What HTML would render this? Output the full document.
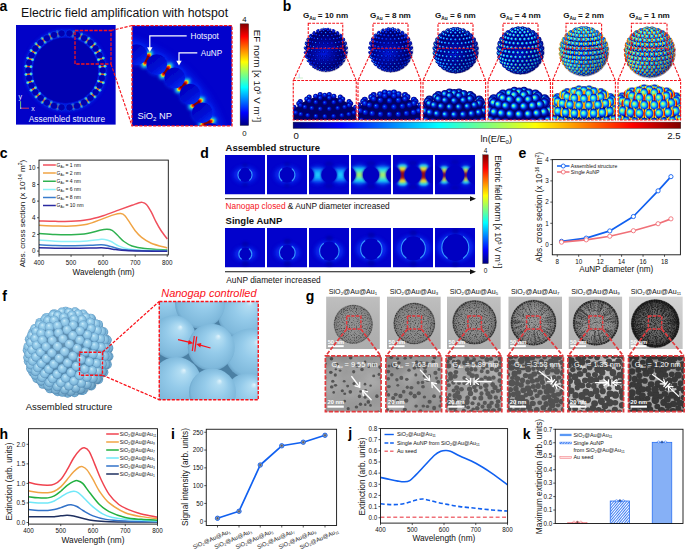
<!DOCTYPE html>
<html><head><meta charset="utf-8"><title>Figure</title>
<style>
html,body{margin:0;padding:0;background:#fff;}
body{width:685px;height:551px;overflow:hidden;font-family:"Liberation Sans",sans-serif;}
svg{display:block;}
text{font-family:"Liberation Sans",sans-serif;}
</style></head><body>
<svg width="685" height="551" viewBox="0 0 685 551">
<defs>
<filter id="bl05" x="-50%" y="-50%" width="200%" height="200%"><feGaussianBlur stdDeviation="0.5"/></filter><filter id="bl1" x="-50%" y="-50%" width="200%" height="200%"><feGaussianBlur stdDeviation="1"/></filter><filter id="bl15" x="-50%" y="-50%" width="200%" height="200%"><feGaussianBlur stdDeviation="1.6"/></filter><filter id="bl3" x="-50%" y="-50%" width="200%" height="200%"><feGaussianBlur stdDeviation="3"/></filter><clipPath id="clipa1"><rect x="16" y="25" width="99.8" height="99.8"/></clipPath><clipPath id="clipa2"><rect x="132.2" y="25.8" width="99.6" height="100"/></clipPath><linearGradient id="jetv" x1="0" y1="0" x2="0" y2="1"><stop offset="0.0000" stop-color="#7f0000"/><stop offset="0.0625" stop-color="#bf0000"/><stop offset="0.1250" stop-color="#ff0000"/><stop offset="0.1875" stop-color="#ff3f00"/><stop offset="0.2500" stop-color="#ff7f00"/><stop offset="0.3125" stop-color="#ffbf00"/><stop offset="0.3750" stop-color="#ffff00"/><stop offset="0.4375" stop-color="#bfff3f"/><stop offset="0.5000" stop-color="#7fff7f"/><stop offset="0.5625" stop-color="#3fffbf"/><stop offset="0.6250" stop-color="#00ffff"/><stop offset="0.6875" stop-color="#00bfff"/><stop offset="0.7500" stop-color="#007fff"/><stop offset="0.8125" stop-color="#003fff"/><stop offset="0.8750" stop-color="#0000ff"/><stop offset="0.9375" stop-color="#0000bf"/><stop offset="1.0000" stop-color="#00007f"/></linearGradient><linearGradient id="jeth" x1="0" y1="0" x2="1" y2="0"><stop offset="0.0000" stop-color="#00007f"/><stop offset="0.0625" stop-color="#0000bf"/><stop offset="0.1250" stop-color="#0000ff"/><stop offset="0.1875" stop-color="#003fff"/><stop offset="0.2500" stop-color="#007fff"/><stop offset="0.3125" stop-color="#00bfff"/><stop offset="0.3750" stop-color="#00ffff"/><stop offset="0.4375" stop-color="#3fffbf"/><stop offset="0.5000" stop-color="#7fff7f"/><stop offset="0.5625" stop-color="#bfff3f"/><stop offset="0.6250" stop-color="#ffff00"/><stop offset="0.6875" stop-color="#ffbf00"/><stop offset="0.7500" stop-color="#ff7f00"/><stop offset="0.8125" stop-color="#ff3f00"/><stop offset="0.8750" stop-color="#ff0000"/><stop offset="0.9375" stop-color="#bf0000"/><stop offset="1.0000" stop-color="#7f0000"/></linearGradient><linearGradient id="gpa" x1="0.2" y1="0.1" x2="0.85" y2="0.95"><stop offset="0" stop-color="#0000be"/><stop offset="0.55" stop-color="#000cd4"/><stop offset="1" stop-color="#0830f8"/></linearGradient><radialGradient id="gb0" cx="0.5" cy="0.5" r="0.52" fx="0.38" fy="0.38"><stop offset="0" stop-color="#20b0ff"/><stop offset="0.28" stop-color="#0030f0"/><stop offset="0.65" stop-color="#0008b8"/><stop offset="1" stop-color="#000070"/></radialGradient><clipPath id="clipb0"><rect x="293.25" y="80.5" width="63.0" height="39.5"/></clipPath><radialGradient id="gb1" cx="0.5" cy="0.5" r="0.52" fx="0.38" fy="0.38"><stop offset="0" stop-color="#30c8ff"/><stop offset="0.28" stop-color="#0038f4"/><stop offset="0.65" stop-color="#000cc0"/><stop offset="1" stop-color="#000070"/></radialGradient><clipPath id="clipb1"><rect x="358" y="80.5" width="62.75" height="39.5"/></clipPath><radialGradient id="gb2" cx="0.5" cy="0.5" r="0.52" fx="0.33" fy="0.42"><stop offset="0" stop-color="#80ffa0"/><stop offset="0.2" stop-color="#20d0ff"/><stop offset="0.4" stop-color="#0850f0"/><stop offset="0.66" stop-color="#0010b0"/><stop offset="1" stop-color="#000060"/></radialGradient><clipPath id="clipb2"><rect x="423" y="80.5" width="62.60000000000002" height="39.5"/></clipPath><radialGradient id="gb3" cx="0.5" cy="0.5" r="0.52" fx="0.33" fy="0.42"><stop offset="0" stop-color="#e0ff40"/><stop offset="0.14" stop-color="#70ffa0"/><stop offset="0.3" stop-color="#18d0ff"/><stop offset="0.5" stop-color="#0850f0"/><stop offset="0.72" stop-color="#0010b0"/><stop offset="1" stop-color="#000060"/></radialGradient><clipPath id="clipb3"><rect x="488" y="80.5" width="62.39999999999998" height="39.5"/></clipPath><radialGradient id="gb4" cx="0.5" cy="0.5" r="0.52" fx="0.38" fy="0.38"><linearGradient id="gh4" x1="0" y1="0" x2="1" y2="0"><stop offset="0" stop-color="#ff8000" stop-opacity="1"/><stop offset="0.07" stop-color="#f8e810" stop-opacity="1"/><stop offset="0.16" stop-color="#60ff98" stop-opacity="0.6"/><stop offset="0.27" stop-color="#60ff98" stop-opacity="0"/><stop offset="0.73" stop-color="#60ff98" stop-opacity="0"/><stop offset="0.84" stop-color="#60ff98" stop-opacity="0.6"/><stop offset="0.93" stop-color="#f8e810" stop-opacity="1"/><stop offset="1" stop-color="#ff8000" stop-opacity="1"/></linearGradient><stop offset="0" stop-color="#d8ff60"/><stop offset="0.2" stop-color="#70ffb0"/><stop offset="0.4" stop-color="#18d8ff"/><stop offset="0.62" stop-color="#0868ff"/><stop offset="0.86" stop-color="#0018b8"/><stop offset="1" stop-color="#000070"/></radialGradient><clipPath id="clipb4"><rect x="552.6" y="80.5" width="62.799999999999955" height="39.5"/></clipPath><radialGradient id="gb5" cx="0.5" cy="0.5" r="0.52" fx="0.38" fy="0.38"><linearGradient id="gh5" x1="0" y1="0" x2="1" y2="0"><stop offset="0" stop-color="#e00800" stop-opacity="1"/><stop offset="0.06" stop-color="#ff9000" stop-opacity="1"/><stop offset="0.13" stop-color="#f8e810" stop-opacity="1"/><stop offset="0.22" stop-color="#70ff88" stop-opacity="0.6"/><stop offset="0.32" stop-color="#70ff88" stop-opacity="0"/><stop offset="0.68" stop-color="#70ff88" stop-opacity="0"/><stop offset="0.78" stop-color="#70ff88" stop-opacity="0.6"/><stop offset="0.87" stop-color="#f8e810" stop-opacity="1"/><stop offset="0.94" stop-color="#ff9000" stop-opacity="1"/><stop offset="1" stop-color="#e00800" stop-opacity="1"/></linearGradient><stop offset="0" stop-color="#fff040"/><stop offset="0.16" stop-color="#b0ff70"/><stop offset="0.34" stop-color="#40f0d0"/><stop offset="0.52" stop-color="#10a8ff"/><stop offset="0.72" stop-color="#0840f0"/><stop offset="0.9" stop-color="#0010a8"/><stop offset="1" stop-color="#000070"/></radialGradient><clipPath id="clipb5"><rect x="618" y="80.5" width="62.60000000000002" height="39.5"/></clipPath><radialGradient id="gcore" cx="0.46" cy="0.6" r="0.6"><stop offset="0" stop-color="#0018e4"/><stop offset="0.3" stop-color="#000cb4"/><stop offset="0.7" stop-color="#00007c"/><stop offset="1" stop-color="#000054"/></radialGradient><linearGradient id="gshade" x1="0.2" y1="0.1" x2="0.85" y2="1"><stop offset="0" stop-color="#000050" stop-opacity="0"/><stop offset="0.5" stop-color="#000050" stop-opacity="0.02"/><stop offset="1" stop-color="#000050" stop-opacity="0.5"/></linearGradient><filter id="dbl05" x="-50%" y="-50%" width="200%" height="200%"><feGaussianBlur stdDeviation="0.45"/></filter><filter id="dbl08" x="-50%" y="-50%" width="200%" height="200%"><feGaussianBlur stdDeviation="0.8"/></filter><filter id="dbl2" x="-50%" y="-50%" width="200%" height="200%"><feGaussianBlur stdDeviation="2"/></filter><filter id="dbl12" x="-50%" y="-50%" width="200%" height="200%"><feGaussianBlur stdDeviation="1.2"/></filter><linearGradient id="hs3" x1="0" y1="0" x2="0" y2="1"><stop offset="0" stop-color="#0860ff" stop-opacity="0"/><stop offset="0.25" stop-color="#10b0ff" stop-opacity="0.9"/><stop offset="0.5" stop-color="#20d0ff" stop-opacity="1"/><stop offset="0.75" stop-color="#10b0ff" stop-opacity="0.9"/><stop offset="1" stop-color="#0860ff" stop-opacity="0"/></linearGradient><linearGradient id="hs4" x1="0" y1="0" x2="0" y2="1"><stop offset="0" stop-color="#1090ff" stop-opacity="0"/><stop offset="0.2" stop-color="#10d8f8" stop-opacity="1"/><stop offset="0.38" stop-color="#70f0a0" stop-opacity="1"/><stop offset="0.5" stop-color="#b8f050" stop-opacity="1"/><stop offset="0.62" stop-color="#70f0a0" stop-opacity="1"/><stop offset="0.8" stop-color="#10d8f8" stop-opacity="1"/><stop offset="1" stop-color="#1090ff" stop-opacity="0"/></linearGradient><linearGradient id="hs5" x1="0" y1="0" x2="0" y2="1"><stop offset="0" stop-color="#30c0f0" stop-opacity="0"/><stop offset="0.12" stop-color="#40e8e0" stop-opacity="1"/><stop offset="0.22" stop-color="#f0e020" stop-opacity="1"/><stop offset="0.3" stop-color="#f06010" stop-opacity="1"/><stop offset="0.38" stop-color="#a00808" stop-opacity="1"/><stop offset="0.62" stop-color="#a00808" stop-opacity="1"/><stop offset="0.7" stop-color="#f06010" stop-opacity="1"/><stop offset="0.78" stop-color="#f0e020" stop-opacity="1"/><stop offset="0.88" stop-color="#40e8e0" stop-opacity="1"/><stop offset="1" stop-color="#30c0f0" stop-opacity="0"/></linearGradient><linearGradient id="hs6" x1="0" y1="0" x2="0" y2="1"><stop offset="0" stop-color="#30c0f0" stop-opacity="0"/><stop offset="0.14" stop-color="#40e8e0" stop-opacity="1"/><stop offset="0.25" stop-color="#f0e020" stop-opacity="1"/><stop offset="0.33" stop-color="#f05010" stop-opacity="1"/><stop offset="0.42" stop-color="#b01008" stop-opacity="1"/><stop offset="0.58" stop-color="#b01008" stop-opacity="1"/><stop offset="0.67" stop-color="#f05010" stop-opacity="1"/><stop offset="0.75" stop-color="#f0e020" stop-opacity="1"/><stop offset="0.86" stop-color="#40e8e0" stop-opacity="1"/><stop offset="1" stop-color="#30c0f0" stop-opacity="0"/></linearGradient><clipPath id="cd1_0"><rect x="225" y="155" width="40" height="39.5"/></clipPath><clipPath id="cd1_1"><rect x="267" y="155" width="40" height="39.5"/></clipPath><clipPath id="cd1_2"><rect x="309" y="155" width="40" height="39.5"/></clipPath><clipPath id="cd1_3"><rect x="351" y="155" width="40" height="39.5"/></clipPath><clipPath id="cd1_4"><rect x="393" y="155" width="40" height="39.5"/></clipPath><clipPath id="cd1_5"><rect x="435" y="155" width="40" height="39.5"/></clipPath><clipPath id="cd2_0"><rect x="225" y="228" width="40" height="39.5"/></clipPath><clipPath id="cd2_1"><rect x="267" y="228" width="40" height="39.5"/></clipPath><clipPath id="cd2_2"><rect x="309" y="228" width="40" height="39.5"/></clipPath><clipPath id="cd2_3"><rect x="351" y="228" width="40" height="39.5"/></clipPath><clipPath id="cd2_4"><rect x="393" y="228" width="40" height="39.5"/></clipPath><clipPath id="cd2_5"><rect x="435" y="228" width="40" height="39.5"/></clipPath><radialGradient id="gf" cx="0.5" cy="0.5" r="0.54" fx="0.42" fy="0.3"><stop offset="0" stop-color="#d2ecfa"/><stop offset="0.3" stop-color="#9ed3ee"/><stop offset="0.72" stop-color="#80badf"/><stop offset="1" stop-color="#4f88b2"/></radialGradient><radialGradient id="gfs" cx="0.45" cy="0.4" r="0.62"><stop offset="0" stop-color="#ffffff" stop-opacity="0.10"/><stop offset="0.6" stop-color="#ffffff" stop-opacity="0"/><stop offset="0.85" stop-color="#204060" stop-opacity="0.08"/><stop offset="1" stop-color="#102840" stop-opacity="0.22"/></radialGradient><radialGradient id="gfz" cx="0.5" cy="0.5" r="0.56" fx="0.66" fy="0.26"><stop offset="0" stop-color="#e2f4fc"/><stop offset="0.12" stop-color="#b2ddf3"/><stop offset="0.45" stop-color="#95cbea"/><stop offset="0.85" stop-color="#7eb8db"/><stop offset="1" stop-color="#5a92b8"/></radialGradient><clipPath id="clipf"><rect x="159.25" y="301.5" width="99" height="98.25"/></clipPath><filter id="fbl" x="-20%" y="-20%" width="140%" height="140%"><feGaussianBlur stdDeviation="0.35"/></filter><filter id="gbl" x="-10%" y="-10%" width="120%" height="120%"><feGaussianBlur stdDeviation="0.45"/></filter><linearGradient id="gshadeL" x1="0" y1="0" x2="0.3" y2="1"><stop offset="0" stop-color="#000" stop-opacity="0.16"/><stop offset="0.45" stop-color="#000" stop-opacity="0.02"/><stop offset="1" stop-color="#000" stop-opacity="0.06"/></linearGradient><linearGradient id="gshadeT" x1="0" y1="0" x2="0" y2="1"><stop offset="0" stop-color="#fff" stop-opacity="0.1"/><stop offset="1" stop-color="#000" stop-opacity="0.06"/></linearGradient><filter id="gblb0" x="-5%" y="-5%" width="110%" height="110%"><feGaussianBlur stdDeviation="0.42"/></filter><filter id="gblb1" x="-5%" y="-5%" width="110%" height="110%"><feGaussianBlur stdDeviation="0.48"/></filter><filter id="gblb2" x="-5%" y="-5%" width="110%" height="110%"><feGaussianBlur stdDeviation="0.55"/></filter><filter id="gblb3" x="-5%" y="-5%" width="110%" height="110%"><feGaussianBlur stdDeviation="0.6"/></filter><filter id="gblb4" x="-5%" y="-5%" width="110%" height="110%"><feGaussianBlur stdDeviation="0.62"/></filter><filter id="gblb5" x="-5%" y="-5%" width="110%" height="110%"><feGaussianBlur stdDeviation="0.62"/></filter><filter id="gbl2" x="-10%" y="-10%" width="120%" height="120%"><feGaussianBlur stdDeviation="0.8"/></filter><clipPath id="gt0"><rect x="326.1" y="296.4" width="53.8" height="52.700000000000045"/></clipPath><clipPath id="gp0"><circle cx="353.3" cy="324.3" r="19.4"/></clipPath><clipPath id="gl0"><rect x="325.4" y="355.9" width="55.7" height="55.80000000000001"/></clipPath><filter id="gs0" x="0" y="0" width="1" height="1" color-interpolation-filters="sRGB"><feTurbulence type="fractalNoise" baseFrequency="0.85" numOctaves="2" seed="7" result="n"/><feColorMatrix in="n" type="matrix" values="0 0 0 0 0.118  0 0 0 0 0.118  0 0 0 0 0.118  3.2 0 0 0 -1.568"/><feGaussianBlur stdDeviation="0.35"/></filter><radialGradient id="gr0"><stop offset="0" stop-color="#1a1a1a" stop-opacity="0.03"/><stop offset="0.6" stop-color="#1a1a1a" stop-opacity="0.05"/><stop offset="0.88" stop-color="#141414" stop-opacity="0.14"/><stop offset="1" stop-color="#101010" stop-opacity="0.18"/></radialGradient><filter id="gw0L" x="0" y="0" width="1" height="1" color-interpolation-filters="sRGB"><feTurbulence type="fractalNoise" baseFrequency="0.05" numOctaves="2" seed="40" result="n"/><feColorMatrix in="n" type="matrix" values="0 0 0 0 0.922  0 0 0 0 0.922  0 0 0 0 0.922  3 0 0 0 -1.3"/><feGaussianBlur stdDeviation="2"/></filter><clipPath id="gt1"><rect x="387" y="296.4" width="53.8" height="52.700000000000045"/></clipPath><clipPath id="gp1"><circle cx="414.3" cy="323.5" r="20.7"/></clipPath><clipPath id="gl1"><rect x="385.9" y="355.9" width="55.7" height="55.80000000000001"/></clipPath><filter id="gs1" x="0" y="0" width="1" height="1" color-interpolation-filters="sRGB"><feTurbulence type="fractalNoise" baseFrequency="0.85" numOctaves="2" seed="8" result="n"/><feColorMatrix in="n" type="matrix" values="0 0 0 0 0.118  0 0 0 0 0.118  0 0 0 0 0.118  3.3 0 0 0 -1.6004999999999998"/><feGaussianBlur stdDeviation="0.35"/></filter><radialGradient id="gr1"><stop offset="0" stop-color="#1a1a1a" stop-opacity="0.03"/><stop offset="0.6" stop-color="#1a1a1a" stop-opacity="0.07"/><stop offset="0.88" stop-color="#141414" stop-opacity="0.17"/><stop offset="1" stop-color="#101010" stop-opacity="0.22"/></radialGradient><filter id="gw1L" x="0" y="0" width="1" height="1" color-interpolation-filters="sRGB"><feTurbulence type="fractalNoise" baseFrequency="0.05" numOctaves="2" seed="41" result="n"/><feColorMatrix in="n" type="matrix" values="0 0 0 0 0.922  0 0 0 0 0.922  0 0 0 0 0.922  3 0 0 0 -1.3"/><feGaussianBlur stdDeviation="2"/></filter><clipPath id="gt2"><rect x="447" y="296.4" width="53.8" height="52.700000000000045"/></clipPath><clipPath id="gp2"><circle cx="474.5" cy="322.3" r="22.0"/></clipPath><clipPath id="gl2"><rect x="446.1" y="355.9" width="55.7" height="55.80000000000001"/></clipPath><filter id="gs2" x="0" y="0" width="1" height="1" color-interpolation-filters="sRGB"><feTurbulence type="fractalNoise" baseFrequency="0.85" numOctaves="2" seed="9" result="n"/><feColorMatrix in="n" type="matrix" values="0 0 0 0 0.118  0 0 0 0 0.118  0 0 0 0 0.118  3.5 0 0 0 -1.68"/><feGaussianBlur stdDeviation="0.35"/></filter><radialGradient id="gr2"><stop offset="0" stop-color="#1a1a1a" stop-opacity="0.04"/><stop offset="0.6" stop-color="#1a1a1a" stop-opacity="0.08"/><stop offset="0.88" stop-color="#141414" stop-opacity="0.21"/><stop offset="1" stop-color="#101010" stop-opacity="0.28"/></radialGradient><filter id="gw2L" x="0" y="0" width="1" height="1" color-interpolation-filters="sRGB"><feTurbulence type="fractalNoise" baseFrequency="0.05" numOctaves="2" seed="42" result="n"/><feColorMatrix in="n" type="matrix" values="0 0 0 0 0.922  0 0 0 0 0.922  0 0 0 0 0.922  3 0 0 0 -1.3"/><feGaussianBlur stdDeviation="2"/></filter><clipPath id="gt3"><rect x="508.3" y="296.4" width="53.8" height="52.700000000000045"/></clipPath><clipPath id="gp3"><circle cx="533.5" cy="322.7" r="22.8"/></clipPath><clipPath id="gl3"><rect x="507.7" y="355.9" width="55.7" height="55.80000000000001"/></clipPath><filter id="gs3" x="0" y="0" width="1" height="1" color-interpolation-filters="sRGB"><feTurbulence type="fractalNoise" baseFrequency="0.85" numOctaves="2" seed="10" result="n"/><feColorMatrix in="n" type="matrix" values="0 0 0 0 0.118  0 0 0 0 0.118  0 0 0 0 0.118  3.6 0 0 0 -1.728"/><feGaussianBlur stdDeviation="0.35"/></filter><radialGradient id="gr3"><stop offset="0" stop-color="#1a1a1a" stop-opacity="0.04"/><stop offset="0.6" stop-color="#1a1a1a" stop-opacity="0.09"/><stop offset="0.88" stop-color="#141414" stop-opacity="0.22"/><stop offset="1" stop-color="#101010" stop-opacity="0.30"/></radialGradient><filter id="gw3L" x="0" y="0" width="1" height="1" color-interpolation-filters="sRGB"><feTurbulence type="fractalNoise" baseFrequency="0.05" numOctaves="2" seed="43" result="n"/><feColorMatrix in="n" type="matrix" values="0 0 0 0 0.922  0 0 0 0 0.922  0 0 0 0 0.922  3 0 0 0 -1.3"/><feGaussianBlur stdDeviation="2"/></filter><clipPath id="gt4"><rect x="568.5" y="296.4" width="53.8" height="52.700000000000045"/></clipPath><clipPath id="gp4"><circle cx="595.8" cy="322.7" r="22.9"/></clipPath><clipPath id="gl4"><rect x="567.9" y="355.9" width="55.7" height="55.80000000000001"/></clipPath><filter id="gs4" x="0" y="0" width="1" height="1" color-interpolation-filters="sRGB"><feTurbulence type="fractalNoise" baseFrequency="0.85" numOctaves="2" seed="11" result="n"/><feColorMatrix in="n" type="matrix" values="0 0 0 0 0.118  0 0 0 0 0.118  0 0 0 0 0.118  3.8 0 0 0 -1.7859999999999998"/><feGaussianBlur stdDeviation="0.35"/></filter><radialGradient id="gr4"><stop offset="0" stop-color="#1a1a1a" stop-opacity="0.05"/><stop offset="0.6" stop-color="#1a1a1a" stop-opacity="0.10"/><stop offset="0.88" stop-color="#141414" stop-opacity="0.26"/><stop offset="1" stop-color="#101010" stop-opacity="0.34"/></radialGradient><filter id="gw4L" x="0" y="0" width="1" height="1" color-interpolation-filters="sRGB"><feTurbulence type="fractalNoise" baseFrequency="0.05" numOctaves="2" seed="44" result="n"/><feColorMatrix in="n" type="matrix" values="0 0 0 0 0.922  0 0 0 0 0.922  0 0 0 0 0.922  3 0 0 0 -1.3"/><feGaussianBlur stdDeviation="2"/></filter><clipPath id="gt5"><rect x="629" y="296.4" width="53.8" height="52.700000000000045"/></clipPath><clipPath id="gp5"><circle cx="655.3" cy="323.6" r="24.0"/></clipPath><clipPath id="gl5"><rect x="628.5" y="355.9" width="55.7" height="55.80000000000001"/></clipPath><filter id="gs5" x="0" y="0" width="1" height="1" color-interpolation-filters="sRGB"><feTurbulence type="fractalNoise" baseFrequency="0.85" numOctaves="2" seed="12" result="n"/><feColorMatrix in="n" type="matrix" values="0 0 0 0 0.118  0 0 0 0 0.118  0 0 0 0 0.118  4.6 0 0 0 -2.024"/><feGaussianBlur stdDeviation="0.35"/></filter><radialGradient id="gr5"><stop offset="0" stop-color="#1a1a1a" stop-opacity="0.10"/><stop offset="0.6" stop-color="#1a1a1a" stop-opacity="0.21"/><stop offset="0.88" stop-color="#141414" stop-opacity="0.52"/><stop offset="1" stop-color="#101010" stop-opacity="0.70"/></radialGradient><filter id="gw5L" x="0" y="0" width="1" height="1" color-interpolation-filters="sRGB"><feTurbulence type="fractalNoise" baseFrequency="0.05" numOctaves="2" seed="45" result="n"/><feColorMatrix in="n" type="matrix" values="0 0 0 0 0.922  0 0 0 0 0.922  0 0 0 0 0.922  3 0 0 0 -1.3"/><feGaussianBlur stdDeviation="2"/></filter>
</defs>
<rect x="0" y="0" width="685" height="551" fill="#ffffff"/>
<g clip-path="url(#clipa1)"><rect x="16" y="25" width="99.8" height="99.8" fill="#0202c8"/><circle cx="65.5" cy="70.4" r="37.2" fill="none" stroke="#0030f8" stroke-width="9" opacity="0.5" filter="url(#bl15)"/><circle cx="65.5" cy="70.4" r="32.6" fill="#0000b0"/><g filter="url(#bl05)"><circle cx="102.70" cy="70.40" r="3.55" fill="#0000b0" stroke="#0850ff" stroke-width="0.7" stroke-opacity="0.6"/><circle cx="101.89" cy="62.67" r="3.55" fill="#0000b0" stroke="#0850ff" stroke-width="0.7" stroke-opacity="0.6"/><circle cx="99.48" cy="55.27" r="3.55" fill="#0000b0" stroke="#0850ff" stroke-width="0.7" stroke-opacity="0.6"/><circle cx="95.60" cy="48.53" r="3.55" fill="#0000b0" stroke="#0850ff" stroke-width="0.7" stroke-opacity="0.6"/><circle cx="90.39" cy="42.76" r="3.55" fill="#0000b0" stroke="#0850ff" stroke-width="0.7" stroke-opacity="0.6"/><circle cx="84.10" cy="38.18" r="3.55" fill="#0000b0" stroke="#0850ff" stroke-width="0.7" stroke-opacity="0.6"/><circle cx="77.00" cy="35.02" r="3.55" fill="#0000b0" stroke="#0850ff" stroke-width="0.7" stroke-opacity="0.6"/><circle cx="69.39" cy="33.40" r="3.55" fill="#0000b0" stroke="#0850ff" stroke-width="0.7" stroke-opacity="0.6"/><circle cx="61.61" cy="33.40" r="3.55" fill="#0000b0" stroke="#0850ff" stroke-width="0.7" stroke-opacity="0.6"/><circle cx="54.00" cy="35.02" r="3.55" fill="#0000b0" stroke="#0850ff" stroke-width="0.7" stroke-opacity="0.6"/><circle cx="46.90" cy="38.18" r="3.55" fill="#0000b0" stroke="#0850ff" stroke-width="0.7" stroke-opacity="0.6"/><circle cx="40.61" cy="42.76" r="3.55" fill="#0000b0" stroke="#0850ff" stroke-width="0.7" stroke-opacity="0.6"/><circle cx="35.40" cy="48.53" r="3.55" fill="#0000b0" stroke="#0850ff" stroke-width="0.7" stroke-opacity="0.6"/><circle cx="31.52" cy="55.27" r="3.55" fill="#0000b0" stroke="#0850ff" stroke-width="0.7" stroke-opacity="0.6"/><circle cx="29.11" cy="62.67" r="3.55" fill="#0000b0" stroke="#0850ff" stroke-width="0.7" stroke-opacity="0.6"/><circle cx="28.30" cy="70.40" r="3.55" fill="#0000b0" stroke="#0850ff" stroke-width="0.7" stroke-opacity="0.6"/><circle cx="29.11" cy="78.13" r="3.55" fill="#0000b0" stroke="#0850ff" stroke-width="0.7" stroke-opacity="0.6"/><circle cx="31.52" cy="85.53" r="3.55" fill="#0000b0" stroke="#0850ff" stroke-width="0.7" stroke-opacity="0.6"/><circle cx="35.40" cy="92.27" r="3.55" fill="#0000b0" stroke="#0850ff" stroke-width="0.7" stroke-opacity="0.6"/><circle cx="40.61" cy="98.04" r="3.55" fill="#0000b0" stroke="#0850ff" stroke-width="0.7" stroke-opacity="0.6"/><circle cx="46.90" cy="102.62" r="3.55" fill="#0000b0" stroke="#0850ff" stroke-width="0.7" stroke-opacity="0.6"/><circle cx="54.00" cy="105.78" r="3.55" fill="#0000b0" stroke="#0850ff" stroke-width="0.7" stroke-opacity="0.6"/><circle cx="61.61" cy="107.40" r="3.55" fill="#0000b0" stroke="#0850ff" stroke-width="0.7" stroke-opacity="0.6"/><circle cx="69.39" cy="107.40" r="3.55" fill="#0000b0" stroke="#0850ff" stroke-width="0.7" stroke-opacity="0.6"/><circle cx="77.00" cy="105.78" r="3.55" fill="#0000b0" stroke="#0850ff" stroke-width="0.7" stroke-opacity="0.6"/><circle cx="84.10" cy="102.62" r="3.55" fill="#0000b0" stroke="#0850ff" stroke-width="0.7" stroke-opacity="0.6"/><circle cx="90.39" cy="98.04" r="3.55" fill="#0000b0" stroke="#0850ff" stroke-width="0.7" stroke-opacity="0.6"/><circle cx="95.60" cy="92.27" r="3.55" fill="#0000b0" stroke="#0850ff" stroke-width="0.7" stroke-opacity="0.6"/><circle cx="99.48" cy="85.53" r="3.55" fill="#0000b0" stroke="#0850ff" stroke-width="0.7" stroke-opacity="0.6"/><circle cx="101.89" cy="78.13" r="3.55" fill="#0000b0" stroke="#0850ff" stroke-width="0.7" stroke-opacity="0.6"/></g><g filter="url(#bl05)"><circle cx="99.91" cy="66.78" r="1.45" fill="#38d0f4" opacity="0.95"/><circle cx="105.08" cy="66.24" r="1.45" fill="#38d0f4" opacity="0.95"/><circle cx="98.41" cy="59.71" r="1.45" fill="#38d0f4" opacity="0.91"/><circle cx="103.35" cy="58.10" r="1.45" fill="#38d0f4" opacity="0.91"/><circle cx="95.46" cy="53.10" r="1.45" fill="#38d0f4" opacity="0.85"/><circle cx="99.97" cy="50.50" r="1.45" fill="#38d0f4" opacity="0.85"/><circle cx="91.21" cy="47.25" r="1.45" fill="#38d0f4" opacity="0.75"/><circle cx="95.08" cy="43.77" r="1.45" fill="#38d0f4" opacity="0.75"/><circle cx="85.84" cy="42.41" r="1.45" fill="#38d0f4" opacity="0.62"/><circle cx="88.89" cy="38.20" r="1.45" fill="#38d0f4" opacity="0.62"/><circle cx="79.57" cy="38.79" r="1.45" fill="#38d0f4" opacity="0.46"/><circle cx="81.69" cy="34.04" r="1.45" fill="#38d0f4" opacity="0.46"/><circle cx="72.69" cy="36.56" r="1.45" fill="#38d0f4" opacity="0.27"/><circle cx="73.77" cy="31.47" r="1.45" fill="#38d0f4" opacity="0.27"/><circle cx="58.31" cy="36.56" r="1.45" fill="#38d0f4" opacity="0.27"/><circle cx="57.23" cy="31.47" r="1.45" fill="#38d0f4" opacity="0.27"/><circle cx="51.43" cy="38.79" r="1.45" fill="#38d0f4" opacity="0.46"/><circle cx="49.31" cy="34.04" r="1.45" fill="#38d0f4" opacity="0.46"/><circle cx="45.16" cy="42.41" r="1.45" fill="#38d0f4" opacity="0.62"/><circle cx="42.11" cy="38.20" r="1.45" fill="#38d0f4" opacity="0.62"/><circle cx="39.79" cy="47.25" r="1.45" fill="#38d0f4" opacity="0.75"/><circle cx="35.92" cy="43.77" r="1.45" fill="#38d0f4" opacity="0.75"/><circle cx="35.54" cy="53.10" r="1.45" fill="#38d0f4" opacity="0.85"/><circle cx="31.03" cy="50.50" r="1.45" fill="#38d0f4" opacity="0.85"/><circle cx="32.59" cy="59.71" r="1.45" fill="#38d0f4" opacity="0.91"/><circle cx="27.65" cy="58.10" r="1.45" fill="#38d0f4" opacity="0.91"/><circle cx="31.09" cy="66.78" r="1.45" fill="#38d0f4" opacity="0.95"/><circle cx="25.92" cy="66.24" r="1.45" fill="#38d0f4" opacity="0.95"/><circle cx="31.09" cy="74.02" r="1.45" fill="#38d0f4" opacity="0.95"/><circle cx="25.92" cy="74.56" r="1.45" fill="#38d0f4" opacity="0.95"/><circle cx="32.59" cy="81.09" r="1.45" fill="#38d0f4" opacity="0.91"/><circle cx="27.65" cy="82.70" r="1.45" fill="#38d0f4" opacity="0.91"/><circle cx="35.54" cy="87.70" r="1.45" fill="#38d0f4" opacity="0.85"/><circle cx="31.03" cy="90.30" r="1.45" fill="#38d0f4" opacity="0.85"/><circle cx="39.79" cy="93.55" r="1.45" fill="#38d0f4" opacity="0.75"/><circle cx="35.92" cy="97.03" r="1.45" fill="#38d0f4" opacity="0.75"/><circle cx="45.16" cy="98.39" r="1.45" fill="#38d0f4" opacity="0.62"/><circle cx="42.11" cy="102.60" r="1.45" fill="#38d0f4" opacity="0.62"/><circle cx="51.43" cy="102.01" r="1.45" fill="#38d0f4" opacity="0.46"/><circle cx="49.31" cy="106.76" r="1.45" fill="#38d0f4" opacity="0.46"/><circle cx="58.31" cy="104.24" r="1.45" fill="#38d0f4" opacity="0.27"/><circle cx="57.23" cy="109.33" r="1.45" fill="#38d0f4" opacity="0.27"/><circle cx="72.69" cy="104.24" r="1.45" fill="#38d0f4" opacity="0.27"/><circle cx="73.77" cy="109.33" r="1.45" fill="#38d0f4" opacity="0.27"/><circle cx="79.57" cy="102.01" r="1.45" fill="#38d0f4" opacity="0.46"/><circle cx="81.69" cy="106.76" r="1.45" fill="#38d0f4" opacity="0.46"/><circle cx="85.84" cy="98.39" r="1.45" fill="#38d0f4" opacity="0.62"/><circle cx="88.89" cy="102.60" r="1.45" fill="#38d0f4" opacity="0.62"/><circle cx="91.21" cy="93.55" r="1.45" fill="#38d0f4" opacity="0.75"/><circle cx="95.08" cy="97.03" r="1.45" fill="#38d0f4" opacity="0.75"/><circle cx="95.46" cy="87.70" r="1.45" fill="#38d0f4" opacity="0.85"/><circle cx="99.97" cy="90.30" r="1.45" fill="#38d0f4" opacity="0.85"/><circle cx="98.41" cy="81.09" r="1.45" fill="#38d0f4" opacity="0.91"/><circle cx="103.35" cy="82.70" r="1.45" fill="#38d0f4" opacity="0.91"/><circle cx="99.91" cy="74.02" r="1.45" fill="#38d0f4" opacity="0.95"/><circle cx="105.08" cy="74.56" r="1.45" fill="#38d0f4" opacity="0.95"/></g><g filter="url(#bl05)" opacity="0.95"><line x1="100.21" y1="66.75" x2="104.78" y2="66.27" stroke="#c8f040" stroke-width="1.15" stroke-linecap="round" opacity="1.00"/><line x1="101.30" y1="66.64" x2="103.69" y2="66.39" stroke="#e82010" stroke-width="1.15" opacity="1.00"/><line x1="98.69" y1="59.62" x2="103.07" y2="58.19" stroke="#c8f040" stroke-width="1.15" stroke-linecap="round" opacity="1.00"/><line x1="99.74" y1="59.28" x2="102.02" y2="58.53" stroke="#e82010" stroke-width="1.15" opacity="1.00"/><line x1="95.72" y1="52.95" x2="99.71" y2="50.65" stroke="#c8f040" stroke-width="1.15" stroke-linecap="round" opacity="0.98"/><line x1="96.68" y1="52.40" x2="98.76" y2="51.20" stroke="#e82010" stroke-width="1.15" opacity="1.00"/><line x1="91.44" y1="47.05" x2="94.85" y2="43.97" stroke="#c8f040" stroke-width="1.15" stroke-linecap="round" opacity="0.87"/><line x1="92.25" y1="46.31" x2="94.04" y2="44.71" stroke="#e82010" stroke-width="1.15" opacity="0.95"/><line x1="86.01" y1="42.17" x2="88.72" y2="38.44" stroke="#c8f040" stroke-width="1.15" stroke-linecap="round" opacity="0.72"/><line x1="86.66" y1="41.28" x2="88.07" y2="39.33" stroke="#e82010" stroke-width="1.15" opacity="0.78"/><line x1="79.70" y1="38.52" x2="81.57" y2="34.31" stroke="#c8f040" stroke-width="1.15" stroke-linecap="round" opacity="0.54"/><line x1="80.14" y1="37.51" x2="81.12" y2="35.32" stroke="#e82010" stroke-width="1.15" opacity="0.58"/><line x1="72.76" y1="36.26" x2="73.71" y2="31.76" stroke="#c8f040" stroke-width="1.15" stroke-linecap="round" opacity="0.31"/><line x1="72.98" y1="35.19" x2="73.48" y2="32.84" stroke="#e82010" stroke-width="1.15" opacity="0.34"/><line x1="58.24" y1="36.26" x2="57.29" y2="31.76" stroke="#c8f040" stroke-width="1.15" stroke-linecap="round" opacity="0.31"/><line x1="58.02" y1="35.19" x2="57.52" y2="32.84" stroke="#e82010" stroke-width="1.15" opacity="0.34"/><line x1="51.30" y1="38.52" x2="49.43" y2="34.31" stroke="#c8f040" stroke-width="1.15" stroke-linecap="round" opacity="0.54"/><line x1="50.86" y1="37.51" x2="49.88" y2="35.32" stroke="#e82010" stroke-width="1.15" opacity="0.58"/><line x1="44.99" y1="42.17" x2="42.28" y2="38.44" stroke="#c8f040" stroke-width="1.15" stroke-linecap="round" opacity="0.72"/><line x1="44.34" y1="41.28" x2="42.93" y2="39.33" stroke="#e82010" stroke-width="1.15" opacity="0.78"/><line x1="39.56" y1="47.05" x2="36.15" y2="43.97" stroke="#c8f040" stroke-width="1.15" stroke-linecap="round" opacity="0.87"/><line x1="38.75" y1="46.31" x2="36.96" y2="44.71" stroke="#e82010" stroke-width="1.15" opacity="0.95"/><line x1="35.28" y1="52.95" x2="31.29" y2="50.65" stroke="#c8f040" stroke-width="1.15" stroke-linecap="round" opacity="0.98"/><line x1="34.32" y1="52.40" x2="32.24" y2="51.20" stroke="#e82010" stroke-width="1.15" opacity="1.00"/><line x1="32.31" y1="59.62" x2="27.93" y2="58.19" stroke="#c8f040" stroke-width="1.15" stroke-linecap="round" opacity="1.00"/><line x1="31.26" y1="59.28" x2="28.98" y2="58.53" stroke="#e82010" stroke-width="1.15" opacity="1.00"/><line x1="30.79" y1="66.75" x2="26.22" y2="66.27" stroke="#c8f040" stroke-width="1.15" stroke-linecap="round" opacity="1.00"/><line x1="29.70" y1="66.64" x2="27.31" y2="66.39" stroke="#e82010" stroke-width="1.15" opacity="1.00"/><line x1="30.79" y1="74.05" x2="26.22" y2="74.53" stroke="#c8f040" stroke-width="1.15" stroke-linecap="round" opacity="1.00"/><line x1="29.70" y1="74.16" x2="27.31" y2="74.41" stroke="#e82010" stroke-width="1.15" opacity="1.00"/><line x1="32.31" y1="81.18" x2="27.93" y2="82.61" stroke="#c8f040" stroke-width="1.15" stroke-linecap="round" opacity="1.00"/><line x1="31.26" y1="81.52" x2="28.98" y2="82.27" stroke="#e82010" stroke-width="1.15" opacity="1.00"/><line x1="35.28" y1="87.85" x2="31.29" y2="90.15" stroke="#c8f040" stroke-width="1.15" stroke-linecap="round" opacity="0.98"/><line x1="34.32" y1="88.40" x2="32.24" y2="89.60" stroke="#e82010" stroke-width="1.15" opacity="1.00"/><line x1="39.56" y1="93.75" x2="36.15" y2="96.83" stroke="#c8f040" stroke-width="1.15" stroke-linecap="round" opacity="0.87"/><line x1="38.75" y1="94.49" x2="36.96" y2="96.09" stroke="#e82010" stroke-width="1.15" opacity="0.95"/><line x1="44.99" y1="98.63" x2="42.28" y2="102.36" stroke="#c8f040" stroke-width="1.15" stroke-linecap="round" opacity="0.72"/><line x1="44.34" y1="99.52" x2="42.93" y2="101.47" stroke="#e82010" stroke-width="1.15" opacity="0.78"/><line x1="51.30" y1="102.28" x2="49.43" y2="106.49" stroke="#c8f040" stroke-width="1.15" stroke-linecap="round" opacity="0.54"/><line x1="50.86" y1="103.29" x2="49.88" y2="105.48" stroke="#e82010" stroke-width="1.15" opacity="0.58"/><line x1="58.24" y1="104.54" x2="57.29" y2="109.04" stroke="#c8f040" stroke-width="1.15" stroke-linecap="round" opacity="0.31"/><line x1="58.02" y1="105.61" x2="57.52" y2="107.96" stroke="#e82010" stroke-width="1.15" opacity="0.34"/><line x1="72.76" y1="104.54" x2="73.71" y2="109.04" stroke="#c8f040" stroke-width="1.15" stroke-linecap="round" opacity="0.31"/><line x1="72.98" y1="105.61" x2="73.48" y2="107.96" stroke="#e82010" stroke-width="1.15" opacity="0.34"/><line x1="79.70" y1="102.28" x2="81.57" y2="106.49" stroke="#c8f040" stroke-width="1.15" stroke-linecap="round" opacity="0.54"/><line x1="80.14" y1="103.29" x2="81.12" y2="105.48" stroke="#e82010" stroke-width="1.15" opacity="0.58"/><line x1="86.01" y1="98.63" x2="88.72" y2="102.36" stroke="#c8f040" stroke-width="1.15" stroke-linecap="round" opacity="0.72"/><line x1="86.66" y1="99.52" x2="88.07" y2="101.47" stroke="#e82010" stroke-width="1.15" opacity="0.78"/><line x1="91.44" y1="93.75" x2="94.85" y2="96.83" stroke="#c8f040" stroke-width="1.15" stroke-linecap="round" opacity="0.87"/><line x1="92.25" y1="94.49" x2="94.04" y2="96.09" stroke="#e82010" stroke-width="1.15" opacity="0.95"/><line x1="95.72" y1="87.85" x2="99.71" y2="90.15" stroke="#c8f040" stroke-width="1.15" stroke-linecap="round" opacity="0.98"/><line x1="96.68" y1="88.40" x2="98.76" y2="89.60" stroke="#e82010" stroke-width="1.15" opacity="1.00"/><line x1="98.69" y1="81.18" x2="103.07" y2="82.61" stroke="#c8f040" stroke-width="1.15" stroke-linecap="round" opacity="1.00"/><line x1="99.74" y1="81.52" x2="102.02" y2="82.27" stroke="#e82010" stroke-width="1.15" opacity="1.00"/><line x1="100.21" y1="74.05" x2="104.78" y2="74.53" stroke="#c8f040" stroke-width="1.15" stroke-linecap="round" opacity="1.00"/><line x1="101.30" y1="74.16" x2="103.69" y2="74.41" stroke="#e82010" stroke-width="1.15" opacity="1.00"/></g><line x1="20.6" y1="108.2" x2="20.6" y2="101.2" stroke="#7adf7a" stroke-width="0.9"/><line x1="20.6" y1="108.2" x2="29" y2="108.2" stroke="#f04050" stroke-width="0.9"/><rect x="20" y="107.4" width="1.3" height="1.5" fill="#8fb0ff"/><text x="18.60" y="99.30" font-size="7" text-anchor="start" font-weight="normal" font-style="normal" fill="#e6ecff" >y</text><text x="31.30" y="110.60" font-size="7" text-anchor="start" font-weight="normal" font-style="normal" fill="#e6ecff" >x</text><text x="66.90" y="122.10" font-size="8.4" text-anchor="middle" font-weight="normal" font-style="normal" fill="#eef2ff" >Assembled structure</text></g><rect x="75" y="30.5" width="36" height="33.5" fill="none" stroke="#f5141c" stroke-width="1.3" stroke-dasharray="3.4,1.4"/><line x1="111" y1="30.5" x2="132" y2="25.6" stroke="#f5141c" stroke-width="1.1" stroke-dasharray="3.2,1.4"/><line x1="111" y1="64" x2="132" y2="125.9" stroke="#f5141c" stroke-width="1.1" stroke-dasharray="3.2,1.4"/><g clip-path="url(#clipa2)"><rect x="131" y="25" width="102" height="101.5" fill="#0202cc"/><circle cx="90.4" cy="172.8" r="134.0" fill="none" stroke="#0428f4" stroke-width="15" opacity="0.6" filter="url(#bl3)"/><circle cx="90.4" cy="172.8" r="119.0" fill="#0000b8" filter="url(#bl1)"/><g filter="url(#bl15)"><circle cx="115.29" cy="48.26" r="11.549999999999999" fill="#0838ff" opacity="0.5"/><circle cx="136.74" cy="54.56" r="11.549999999999999" fill="#0838ff" opacity="0.5"/><circle cx="156.76" cy="64.51" r="11.549999999999999" fill="#0838ff" opacity="0.5"/><circle cx="174.72" cy="77.83" r="11.549999999999999" fill="#0838ff" opacity="0.5"/><circle cx="190.07" cy="94.09" r="11.549999999999999" fill="#0838ff" opacity="0.5"/><circle cx="202.33" cy="112.79" r="11.549999999999999" fill="#0838ff" opacity="0.5"/><circle cx="211.12" cy="133.34" r="11.549999999999999" fill="#0838ff" opacity="0.5"/><circle cx="216.16" cy="155.13" r="11.549999999999999" fill="#0838ff" opacity="0.5"/></g><g transform="translate(126.15,50.94) rotate(-73.65)"><ellipse cx="0" cy="0" rx="10.5" ry="5" fill="#10a0ff" opacity="0.75" filter="url(#bl15)"/><ellipse cx="0" cy="0" rx="8.6" ry="3.6" fill="#30f0c0" opacity="0.9" filter="url(#bl1)"/><ellipse cx="0" cy="0" rx="7.4" ry="3" fill="#e0f020" filter="url(#bl05)"/><ellipse cx="0" cy="0" rx="6.3" ry="2.8" fill="#ff9000" filter="url(#bl05)"/><ellipse cx="0" cy="0" rx="5.4" ry="2.8" fill="#e01008" filter="url(#bl05)"/><ellipse cx="0" cy="0" rx="3.6" ry="2.4" fill="#860000"/></g><g transform="translate(146.97,59.09) rotate(-63.55)"><ellipse cx="0" cy="0" rx="10.5" ry="5" fill="#10a0ff" opacity="0.75" filter="url(#bl15)"/><ellipse cx="0" cy="0" rx="8.6" ry="3.6" fill="#30f0c0" opacity="0.9" filter="url(#bl1)"/><ellipse cx="0" cy="0" rx="7.4" ry="3" fill="#e0f020" filter="url(#bl05)"/><ellipse cx="0" cy="0" rx="6.3" ry="2.8" fill="#ff9000" filter="url(#bl05)"/><ellipse cx="0" cy="0" rx="5.4" ry="2.8" fill="#e01008" filter="url(#bl05)"/><ellipse cx="0" cy="0" rx="3.6" ry="2.4" fill="#860000"/></g><g transform="translate(166.03,70.78) rotate(-53.45)"><ellipse cx="0" cy="0" rx="10.5" ry="5" fill="#10a0ff" opacity="0.75" filter="url(#bl15)"/><ellipse cx="0" cy="0" rx="8.6" ry="3.6" fill="#30f0c0" opacity="0.9" filter="url(#bl1)"/><ellipse cx="0" cy="0" rx="7.4" ry="3" fill="#e0f020" filter="url(#bl05)"/><ellipse cx="0" cy="0" rx="6.3" ry="2.8" fill="#ff9000" filter="url(#bl05)"/><ellipse cx="0" cy="0" rx="5.4" ry="2.8" fill="#e01008" filter="url(#bl05)"/><ellipse cx="0" cy="0" rx="3.6" ry="2.4" fill="#860000"/></g><g transform="translate(182.75,85.62) rotate(-43.35)"><ellipse cx="0" cy="0" rx="10.5" ry="5" fill="#10a0ff" opacity="0.75" filter="url(#bl15)"/><ellipse cx="0" cy="0" rx="8.6" ry="3.6" fill="#30f0c0" opacity="0.9" filter="url(#bl1)"/><ellipse cx="0" cy="0" rx="7.4" ry="3" fill="#e0f020" filter="url(#bl05)"/><ellipse cx="0" cy="0" rx="6.3" ry="2.8" fill="#ff9000" filter="url(#bl05)"/><ellipse cx="0" cy="0" rx="5.4" ry="2.8" fill="#e01008" filter="url(#bl05)"/><ellipse cx="0" cy="0" rx="3.6" ry="2.4" fill="#860000"/></g><g transform="translate(196.61,103.17) rotate(-33.25)"><ellipse cx="0" cy="0" rx="10.5" ry="5" fill="#10a0ff" opacity="0.75" filter="url(#bl15)"/><ellipse cx="0" cy="0" rx="8.6" ry="3.6" fill="#30f0c0" opacity="0.9" filter="url(#bl1)"/><ellipse cx="0" cy="0" rx="7.4" ry="3" fill="#e0f020" filter="url(#bl05)"/><ellipse cx="0" cy="0" rx="6.3" ry="2.8" fill="#ff9000" filter="url(#bl05)"/><ellipse cx="0" cy="0" rx="5.4" ry="2.8" fill="#e01008" filter="url(#bl05)"/><ellipse cx="0" cy="0" rx="3.6" ry="2.4" fill="#860000"/></g><g transform="translate(207.17,122.87) rotate(-23.15)"><ellipse cx="0" cy="0" rx="10.5" ry="5" fill="#10a0ff" opacity="0.75" filter="url(#bl15)"/><ellipse cx="0" cy="0" rx="8.6" ry="3.6" fill="#30f0c0" opacity="0.9" filter="url(#bl1)"/><ellipse cx="0" cy="0" rx="7.4" ry="3" fill="#e0f020" filter="url(#bl05)"/><ellipse cx="0" cy="0" rx="6.3" ry="2.8" fill="#ff9000" filter="url(#bl05)"/><ellipse cx="0" cy="0" rx="5.4" ry="2.8" fill="#e01008" filter="url(#bl05)"/><ellipse cx="0" cy="0" rx="3.6" ry="2.4" fill="#860000"/></g><g transform="translate(214.12,144.12) rotate(-13.05)"><ellipse cx="0" cy="0" rx="10.5" ry="5" fill="#10a0ff" opacity="0.75" filter="url(#bl15)"/><ellipse cx="0" cy="0" rx="8.6" ry="3.6" fill="#30f0c0" opacity="0.9" filter="url(#bl1)"/><ellipse cx="0" cy="0" rx="7.4" ry="3" fill="#e0f020" filter="url(#bl05)"/><ellipse cx="0" cy="0" rx="6.3" ry="2.8" fill="#ff9000" filter="url(#bl05)"/><ellipse cx="0" cy="0" rx="5.4" ry="2.8" fill="#e01008" filter="url(#bl05)"/><ellipse cx="0" cy="0" rx="3.6" ry="2.4" fill="#860000"/></g><g filter="url(#bl05)"><circle cx="115.29" cy="48.26" r="10.35" fill="url(#gpa)"/><circle cx="136.74" cy="54.56" r="10.35" fill="url(#gpa)"/><circle cx="156.76" cy="64.51" r="10.35" fill="url(#gpa)"/><circle cx="174.72" cy="77.83" r="10.35" fill="url(#gpa)"/><circle cx="190.07" cy="94.09" r="10.35" fill="url(#gpa)"/><circle cx="202.33" cy="112.79" r="10.35" fill="url(#gpa)"/><circle cx="211.12" cy="133.34" r="10.35" fill="url(#gpa)"/><circle cx="216.16" cy="155.13" r="10.35" fill="url(#gpa)"/></g><path d="M186.7,35.9 H149.8 V48" fill="none" stroke="#ffffff" stroke-width="1.2"/><path d="M147.1,47.2 L152.5,47.2 L149.8,52 Z" fill="#ffffff"/><path d="M197.3,52.8 H179 V61.5" fill="none" stroke="#ffffff" stroke-width="1.2"/><path d="M176.3,60.7 L181.7,60.7 L179,65.5 Z" fill="#ffffff"/><text x="190.60" y="39.00" font-size="8.2" text-anchor="start" font-weight="normal" font-style="normal" fill="#f4f6ff" >Hotspot</text><text x="200.80" y="55.70" font-size="8.2" text-anchor="start" font-weight="normal" font-style="normal" fill="#f4f6ff" >AuNP</text><text x="137.60" y="119.20" font-size="9.3" text-anchor="start" font-weight="normal" font-style="normal" fill="#f4f6ff" >SiO<tspan dy="1.7" font-size="6">2</tspan><tspan dy="-1.7" font-size="1">&#8203;</tspan> NP</text></g><rect x="132" y="25.6" width="100" height="100.3" fill="none" stroke="#f5141c" stroke-width="1.3" stroke-dasharray="3.2,1.4"/><rect x="240.1" y="23.8" width="8.6" height="101.7" fill="url(#jetv)" stroke="#333" stroke-width="0.4"/><text x="244.50" y="21.80" font-size="7.8" text-anchor="middle" font-weight="normal" font-style="normal" fill="#111" >4</text><text x="244.50" y="135.90" font-size="7.8" text-anchor="middle" font-weight="normal" font-style="normal" fill="#111" >0</text><text transform="translate(253.6,76) rotate(90)" font-size="9.8" text-anchor="middle" fill="#111">EF norm [x 10<tspan dy="-3" font-size="5.5">5</tspan><tspan dy="3" font-size="1">&#8203;</tspan> V m<tspan dy="-3" font-size="5.5">-1</tspan><tspan dy="3" font-size="1">&#8203;</tspan>]</text><text x="21.00" y="16.80" font-size="12.3" text-anchor="start" font-weight="normal" font-style="normal" fill="#111" >Electric field amplification with hotspot</text><text x="-0.40" y="10.80" font-size="14" text-anchor="start" font-weight="bold" font-style="normal" fill="#000" >a</text><circle cx="325.8" cy="49.8" r="20.16" fill="url(#gcore)"/><g fill="url(#gb0)"><circle cx="305.9" cy="55.9" r="1.20"/><circle cx="345.7" cy="55.9" r="1.20"/><circle cx="311.1" cy="35.0" r="1.20"/><circle cx="340.5" cy="35.0" r="1.20"/><circle cx="329.6" cy="70.3" r="1.20"/><circle cx="322.0" cy="70.3" r="1.20"/><circle cx="310.2" cy="63.8" r="1.20"/><circle cx="341.4" cy="63.8" r="1.20"/><circle cx="317.5" cy="69.0" r="1.20"/><circle cx="334.1" cy="69.0" r="1.20"/><circle cx="306.1" cy="42.8" r="1.20"/><circle cx="345.5" cy="42.8" r="1.20"/><circle cx="313.6" cy="66.9" r="1.20"/><circle cx="338.0" cy="66.9" r="1.20"/><circle cx="307.9" cy="38.9" r="1.20"/><circle cx="343.7" cy="38.9" r="1.20"/><circle cx="314.2" cy="32.3" r="1.20"/><circle cx="337.4" cy="32.3" r="1.20"/><circle cx="318.4" cy="30.1" r="1.20"/><circle cx="333.2" cy="30.1" r="1.20"/><circle cx="325.8" cy="70.8" r="1.20"/><circle cx="304.9" cy="47.7" r="1.20"/><circle cx="346.7" cy="47.7" r="1.20"/><circle cx="323.6" cy="28.9" r="1.20"/><circle cx="328.0" cy="28.9" r="1.20"/><circle cx="343.7" cy="60.7" r="1.20"/><circle cx="307.9" cy="60.7" r="1.20"/><circle cx="305.0" cy="52.4" r="1.20"/><circle cx="346.6" cy="52.4" r="1.20"/><circle cx="306.1" cy="56.8" r="1.20"/><circle cx="345.5" cy="56.8" r="1.20"/><circle cx="341.4" cy="35.8" r="1.20"/><circle cx="310.2" cy="35.8" r="1.20"/><circle cx="319.8" cy="69.8" r="1.20"/><circle cx="331.8" cy="69.8" r="1.20"/><circle cx="311.1" cy="64.6" r="1.20"/><circle cx="340.5" cy="64.6" r="1.20"/><circle cx="305.9" cy="43.7" r="1.20"/><circle cx="345.7" cy="43.7" r="1.20"/><circle cx="315.1" cy="67.7" r="1.20"/><circle cx="336.5" cy="67.7" r="1.20"/><circle cx="307.6" cy="39.7" r="1.20"/><circle cx="344.0" cy="39.7" r="1.20"/><circle cx="313.5" cy="33.2" r="1.20"/><circle cx="338.1" cy="33.2" r="1.20"/><circle cx="317.3" cy="31.0" r="1.20"/><circle cx="334.3" cy="31.0" r="1.20"/><circle cx="323.6" cy="70.3" r="1.20"/><circle cx="328.0" cy="70.3" r="1.20"/><circle cx="321.4" cy="29.7" r="1.20"/><circle cx="330.2" cy="29.7" r="1.20"/><circle cx="325.8" cy="29.3" r="1.20"/><circle cx="346.2" cy="48.6" r="1.20"/><circle cx="305.4" cy="48.6" r="1.20"/><circle cx="309.1" cy="61.6" r="1.20"/><circle cx="342.5" cy="61.6" r="1.20"/><circle cx="317.9" cy="68.4" r="1.20"/><circle cx="333.7" cy="68.4" r="1.20"/><circle cx="305.9" cy="53.3" r="1.20"/><circle cx="345.7" cy="53.3" r="1.20"/><circle cx="313.1" cy="65.4" r="1.20"/><circle cx="338.5" cy="65.4" r="1.20"/><circle cx="307.2" cy="57.7" r="1.20"/><circle cx="344.4" cy="57.7" r="1.20"/><circle cx="310.5" cy="36.7" r="1.20"/><circle cx="341.1" cy="36.7" r="1.20"/><circle cx="306.6" cy="44.6" r="1.20"/><circle cx="345.0" cy="44.6" r="1.20"/><circle cx="343.2" cy="40.6" r="1.20"/><circle cx="308.4" cy="40.6" r="1.20"/><circle cx="337.4" cy="34.1" r="1.20"/><circle cx="314.2" cy="34.1" r="1.20"/><circle cx="330.0" cy="68.8" r="1.20"/><circle cx="321.6" cy="68.8" r="1.20"/><circle cx="323.6" cy="30.5" r="1.20"/><circle cx="328.0" cy="30.5" r="1.20"/><circle cx="333.2" cy="31.9" r="1.20"/><circle cx="318.4" cy="31.9" r="1.20"/><circle cx="311.2" cy="62.3" r="1.20"/><circle cx="340.4" cy="62.3" r="1.20"/><circle cx="325.8" cy="69.0" r="1.20"/><circle cx="306.7" cy="49.4" r="1.20"/><circle cx="344.9" cy="49.4" r="1.20"/><circle cx="316.0" cy="66.1" r="1.20"/><circle cx="335.6" cy="66.1" r="1.20"/><circle cx="309.3" cy="58.5" r="1.20"/><circle cx="342.3" cy="58.5" r="1.20"/><circle cx="343.9" cy="54.1" r="1.20"/><circle cx="307.7" cy="54.1" r="1.20"/><circle cx="311.9" cy="37.5" r="1.20"/><circle cx="339.7" cy="37.5" r="1.20"/><circle cx="343.4" cy="45.4" r="1.20"/><circle cx="308.2" cy="45.4" r="1.20"/><circle cx="341.6" cy="41.4" r="1.20"/><circle cx="310.1" cy="41.4" r="1.20"/><circle cx="319.6" cy="66.5" r="1.20"/><circle cx="332.0" cy="66.5" r="1.20"/><circle cx="321.5" cy="32.6" r="1.20"/><circle cx="330.1" cy="32.6" r="1.20"/><circle cx="316.3" cy="34.8" r="1.20"/><circle cx="335.3" cy="34.8" r="1.20"/><circle cx="314.1" cy="63.0" r="1.20"/><circle cx="337.5" cy="63.0" r="1.20"/><circle cx="327.9" cy="66.8" r="1.20"/><circle cx="323.7" cy="66.8" r="1.20"/><circle cx="325.8" cy="32.8" r="1.20"/><circle cx="308.9" cy="50.2" r="1.20"/><circle cx="342.7" cy="50.2" r="1.20"/><circle cx="339.5" cy="59.2" r="1.20"/><circle cx="312.1" cy="59.2" r="1.20"/><circle cx="341.3" cy="54.9" r="1.20"/><circle cx="310.3" cy="54.9" r="1.20"/><circle cx="337.2" cy="38.3" r="1.20"/><circle cx="314.4" cy="38.3" r="1.20"/><circle cx="334.0" cy="63.4" r="1.20"/><circle cx="317.6" cy="63.4" r="1.20"/><circle cx="332.0" cy="35.4" r="1.20"/><circle cx="319.6" cy="35.4" r="1.20"/><circle cx="341.0" cy="46.1" r="1.20"/><circle cx="310.6" cy="46.1" r="1.20"/><circle cx="339.0" cy="42.1" r="1.20"/><circle cx="312.6" cy="42.1" r="1.20"/><circle cx="330.0" cy="63.7" r="1.20"/><circle cx="321.6" cy="63.7" r="1.20"/><circle cx="336.1" cy="59.7" r="1.20"/><circle cx="315.5" cy="59.7" r="1.20"/><circle cx="327.9" cy="35.7" r="1.20"/><circle cx="323.7" cy="35.7" r="1.20"/><circle cx="325.8" cy="63.9" r="1.20"/><circle cx="339.8" cy="50.9" r="1.20"/><circle cx="311.8" cy="50.9" r="1.20"/><circle cx="333.9" cy="38.8" r="1.20"/><circle cx="317.7" cy="38.8" r="1.20"/><circle cx="313.5" cy="55.5" r="1.20"/><circle cx="338.1" cy="55.5" r="1.20"/><circle cx="337.9" cy="46.8" r="1.20"/><circle cx="313.7" cy="46.8" r="1.20"/><circle cx="315.8" cy="42.7" r="1.20"/><circle cx="335.8" cy="42.7" r="1.20"/><circle cx="332.2" cy="60.1" r="1.20"/><circle cx="319.4" cy="60.1" r="1.20"/><circle cx="321.6" cy="39.2" r="1.20"/><circle cx="330.0" cy="39.2" r="1.20"/><circle cx="323.6" cy="60.3" r="1.20"/><circle cx="328.0" cy="60.3" r="1.20"/><circle cx="336.2" cy="51.4" r="1.20"/><circle cx="315.4" cy="51.4" r="1.20"/><circle cx="325.8" cy="39.3" r="1.20"/><circle cx="334.3" cy="55.9" r="1.20"/><circle cx="317.3" cy="55.9" r="1.20"/><circle cx="319.6" cy="43.1" r="1.20"/><circle cx="332.0" cy="43.1" r="1.20"/><circle cx="317.4" cy="47.2" r="1.20"/><circle cx="334.2" cy="47.2" r="1.20"/><circle cx="330.1" cy="56.2" r="1.20"/><circle cx="321.5" cy="56.2" r="1.20"/><circle cx="327.9" cy="43.3" r="1.20"/><circle cx="323.7" cy="43.3" r="1.20"/><circle cx="332.3" cy="51.8" r="1.20"/><circle cx="319.3" cy="51.8" r="1.20"/><circle cx="325.8" cy="56.3" r="1.20"/><circle cx="330.1" cy="47.5" r="1.20"/><circle cx="321.5" cy="47.5" r="1.20"/><circle cx="328.0" cy="52.0" r="1.20"/><circle cx="323.6" cy="52.0" r="1.20"/><circle cx="325.8" cy="47.6" r="1.20"/></g><circle cx="325.8" cy="49.8" r="22.599999999999998" fill="url(#gshade)"/><text x="325.60" y="18.40" font-size="8.1" text-anchor="middle" font-weight="bold" font-style="normal" fill="#111" >G<tspan dy="1.2" font-size="4.8">Au</tspan><tspan dy="-1.2" font-size="1">&#8203;</tspan> = 10 nm</text><g clip-path="url(#clipb0)"><circle cx="324.8" cy="138.4" r="42.3" fill="#000066"/><g fill="url(#gb0)"><circle cx="293.9" cy="107.2" r="2.52"/><circle cx="355.6" cy="107.2" r="2.52"/><circle cx="300.4" cy="101.6" r="2.52"/><circle cx="349.1" cy="101.6" r="2.52"/><circle cx="309.2" cy="97.1" r="2.52"/><circle cx="340.3" cy="97.1" r="2.52"/><circle cx="320.2" cy="94.5" r="2.52"/><circle cx="329.3" cy="94.5" r="2.52"/><circle cx="357.4" cy="109.0" r="2.52"/><circle cx="292.1" cy="109.0" r="2.52"/><circle cx="298.8" cy="103.5" r="2.52"/><circle cx="350.7" cy="103.5" r="2.52"/><circle cx="306.8" cy="99.0" r="2.52"/><circle cx="342.7" cy="99.0" r="2.52"/><circle cx="315.6" cy="96.2" r="2.52"/><circle cx="333.9" cy="96.2" r="2.52"/><circle cx="324.8" cy="95.2" r="2.52"/><circle cx="292.7" cy="110.9" r="2.52"/><circle cx="356.8" cy="110.9" r="2.52"/><circle cx="349.1" cy="105.3" r="2.52"/><circle cx="300.4" cy="105.3" r="2.52"/><circle cx="320.2" cy="97.8" r="2.52"/><circle cx="329.3" cy="97.8" r="2.52"/><circle cx="340.3" cy="100.8" r="2.52"/><circle cx="309.2" cy="100.8" r="2.52"/><circle cx="295.7" cy="112.6" r="2.52"/><circle cx="353.8" cy="112.6" r="2.52"/><circle cx="357.8" cy="120.8" r="2.52"/><circle cx="291.7" cy="120.8" r="2.52"/><circle cx="315.8" cy="102.2" r="2.52"/><circle cx="333.7" cy="102.2" r="2.52"/><circle cx="304.9" cy="106.9" r="2.52"/><circle cx="344.6" cy="106.9" r="2.52"/><circle cx="324.8" cy="102.7" r="2.52"/><circle cx="348.7" cy="114.2" r="2.52"/><circle cx="300.8" cy="114.2" r="2.52"/><circle cx="337.7" cy="108.1" r="2.52"/><circle cx="311.8" cy="108.1" r="2.52"/><circle cx="352.5" cy="122.2" r="2.52"/><circle cx="297.0" cy="122.2" r="2.52"/><circle cx="329.3" cy="108.8" r="2.52"/><circle cx="320.2" cy="108.8" r="2.52"/><circle cx="341.8" cy="115.3" r="2.52"/><circle cx="307.7" cy="115.3" r="2.52"/><circle cx="303.8" cy="123.4" r="2.52"/><circle cx="345.7" cy="123.4" r="2.52"/><circle cx="315.9" cy="116.1" r="2.52"/><circle cx="333.6" cy="116.1" r="2.52"/><circle cx="324.8" cy="116.3" r="2.52"/></g></g><rect x="308.25" y="23.3" width="34.5" height="24.9" fill="none" stroke="#f5141c" stroke-width="1.1" stroke-dasharray="2.8,1.2"/><rect x="293.25" y="80.5" width="63.0" height="39.5" fill="none" stroke="#f5141c" stroke-width="1.1" stroke-dasharray="2.8,1.2"/><line x1="308.25" y1="48.2" x2="293.25" y2="80.5" stroke="#f5141c" stroke-width="1.1" stroke-dasharray="2.8,1.2"/><line x1="342.75" y1="48.2" x2="356.25" y2="80.5" stroke="#f5141c" stroke-width="1.1" stroke-dasharray="2.8,1.2"/><circle cx="390.6" cy="49.8" r="20.14" fill="url(#gcore)"/><g fill="url(#gb1)"><circle cx="370.5" cy="56.0" r="1.45"/><circle cx="410.7" cy="56.0" r="1.45"/><circle cx="375.8" cy="34.9" r="1.45"/><circle cx="405.4" cy="34.9" r="1.45"/><circle cx="394.4" cy="70.5" r="1.45"/><circle cx="386.8" cy="70.5" r="1.45"/><circle cx="374.9" cy="63.9" r="1.45"/><circle cx="406.3" cy="63.9" r="1.45"/><circle cx="382.3" cy="69.2" r="1.45"/><circle cx="398.9" cy="69.2" r="1.45"/><circle cx="370.8" cy="42.7" r="1.45"/><circle cx="410.4" cy="42.7" r="1.45"/><circle cx="378.4" cy="67.0" r="1.45"/><circle cx="402.8" cy="67.0" r="1.45"/><circle cx="372.6" cy="38.8" r="1.45"/><circle cx="408.6" cy="38.8" r="1.45"/><circle cx="378.9" cy="32.2" r="1.45"/><circle cx="402.3" cy="32.2" r="1.45"/><circle cx="383.2" cy="30.0" r="1.45"/><circle cx="398.0" cy="30.0" r="1.45"/><circle cx="390.6" cy="71.0" r="1.45"/><circle cx="369.6" cy="47.6" r="1.45"/><circle cx="411.6" cy="47.6" r="1.45"/><circle cx="388.4" cy="28.8" r="1.45"/><circle cx="392.8" cy="28.8" r="1.45"/><circle cx="408.6" cy="60.8" r="1.45"/><circle cx="372.6" cy="60.8" r="1.45"/><circle cx="369.7" cy="52.4" r="1.45"/><circle cx="411.5" cy="52.4" r="1.45"/><circle cx="370.8" cy="56.9" r="1.45"/><circle cx="410.4" cy="56.9" r="1.45"/><circle cx="406.3" cy="35.7" r="1.45"/><circle cx="374.9" cy="35.7" r="1.45"/><circle cx="384.5" cy="70.0" r="1.45"/><circle cx="396.7" cy="70.0" r="1.45"/><circle cx="375.8" cy="64.7" r="1.45"/><circle cx="405.4" cy="64.7" r="1.45"/><circle cx="370.5" cy="43.6" r="1.45"/><circle cx="410.7" cy="43.6" r="1.45"/><circle cx="379.8" cy="67.8" r="1.45"/><circle cx="401.4" cy="67.8" r="1.45"/><circle cx="372.3" cy="39.7" r="1.45"/><circle cx="408.9" cy="39.7" r="1.45"/><circle cx="378.2" cy="33.1" r="1.45"/><circle cx="403.0" cy="33.1" r="1.45"/><circle cx="382.0" cy="30.9" r="1.45"/><circle cx="399.2" cy="30.9" r="1.45"/><circle cx="388.4" cy="70.4" r="1.45"/><circle cx="392.8" cy="70.4" r="1.45"/><circle cx="386.2" cy="29.6" r="1.45"/><circle cx="395.0" cy="29.6" r="1.45"/><circle cx="390.6" cy="29.1" r="1.45"/><circle cx="411.2" cy="48.5" r="1.45"/><circle cx="370.0" cy="48.5" r="1.45"/><circle cx="373.8" cy="61.7" r="1.45"/><circle cx="407.4" cy="61.7" r="1.45"/><circle cx="382.6" cy="68.5" r="1.45"/><circle cx="398.6" cy="68.5" r="1.45"/><circle cx="370.6" cy="53.3" r="1.45"/><circle cx="410.6" cy="53.3" r="1.45"/><circle cx="377.8" cy="65.5" r="1.45"/><circle cx="403.4" cy="65.5" r="1.45"/><circle cx="371.9" cy="57.7" r="1.45"/><circle cx="409.3" cy="57.7" r="1.45"/><circle cx="375.2" cy="36.6" r="1.45"/><circle cx="406.0" cy="36.6" r="1.45"/><circle cx="371.2" cy="44.5" r="1.45"/><circle cx="410.0" cy="44.5" r="1.45"/><circle cx="408.1" cy="40.5" r="1.45"/><circle cx="373.1" cy="40.5" r="1.45"/><circle cx="402.3" cy="33.9" r="1.45"/><circle cx="378.9" cy="33.9" r="1.45"/><circle cx="394.9" cy="69.0" r="1.45"/><circle cx="386.3" cy="69.0" r="1.45"/><circle cx="388.4" cy="30.4" r="1.45"/><circle cx="392.8" cy="30.4" r="1.45"/><circle cx="398.0" cy="31.8" r="1.45"/><circle cx="383.2" cy="31.8" r="1.45"/><circle cx="375.9" cy="62.4" r="1.45"/><circle cx="405.3" cy="62.4" r="1.45"/><circle cx="390.6" cy="69.1" r="1.45"/><circle cx="371.4" cy="49.4" r="1.45"/><circle cx="409.8" cy="49.4" r="1.45"/><circle cx="380.7" cy="66.2" r="1.45"/><circle cx="400.5" cy="66.2" r="1.45"/><circle cx="374.0" cy="58.5" r="1.45"/><circle cx="407.2" cy="58.5" r="1.45"/><circle cx="408.8" cy="54.1" r="1.45"/><circle cx="372.4" cy="54.1" r="1.45"/><circle cx="376.6" cy="37.5" r="1.45"/><circle cx="404.6" cy="37.5" r="1.45"/><circle cx="408.4" cy="45.4" r="1.45"/><circle cx="372.8" cy="45.4" r="1.45"/><circle cx="406.5" cy="41.4" r="1.45"/><circle cx="374.7" cy="41.4" r="1.45"/><circle cx="384.3" cy="66.6" r="1.45"/><circle cx="396.9" cy="66.6" r="1.45"/><circle cx="386.3" cy="32.4" r="1.45"/><circle cx="394.9" cy="32.4" r="1.45"/><circle cx="381.1" cy="34.7" r="1.45"/><circle cx="400.1" cy="34.7" r="1.45"/><circle cx="378.8" cy="63.1" r="1.45"/><circle cx="402.4" cy="63.1" r="1.45"/><circle cx="392.7" cy="66.9" r="1.45"/><circle cx="388.5" cy="66.9" r="1.45"/><circle cx="390.6" cy="32.7" r="1.45"/><circle cx="373.6" cy="50.2" r="1.45"/><circle cx="407.6" cy="50.2" r="1.45"/><circle cx="404.4" cy="59.2" r="1.45"/><circle cx="376.8" cy="59.2" r="1.45"/><circle cx="406.2" cy="54.9" r="1.45"/><circle cx="375.0" cy="54.9" r="1.45"/><circle cx="402.1" cy="38.2" r="1.45"/><circle cx="379.1" cy="38.2" r="1.45"/><circle cx="398.8" cy="63.5" r="1.45"/><circle cx="382.4" cy="63.5" r="1.45"/><circle cx="396.8" cy="35.3" r="1.45"/><circle cx="384.4" cy="35.3" r="1.45"/><circle cx="405.9" cy="46.1" r="1.45"/><circle cx="375.3" cy="46.1" r="1.45"/><circle cx="403.9" cy="42.1" r="1.45"/><circle cx="377.3" cy="42.1" r="1.45"/><circle cx="394.8" cy="63.8" r="1.45"/><circle cx="386.4" cy="63.8" r="1.45"/><circle cx="401.0" cy="59.8" r="1.45"/><circle cx="380.2" cy="59.8" r="1.45"/><circle cx="392.8" cy="35.6" r="1.45"/><circle cx="388.4" cy="35.6" r="1.45"/><circle cx="390.6" cy="64.0" r="1.45"/><circle cx="404.7" cy="50.9" r="1.45"/><circle cx="376.5" cy="50.9" r="1.45"/><circle cx="398.8" cy="38.7" r="1.45"/><circle cx="382.4" cy="38.7" r="1.45"/><circle cx="378.2" cy="55.5" r="1.45"/><circle cx="403.0" cy="55.5" r="1.45"/><circle cx="402.8" cy="46.7" r="1.45"/><circle cx="378.4" cy="46.7" r="1.45"/><circle cx="380.5" cy="42.6" r="1.45"/><circle cx="400.7" cy="42.6" r="1.45"/><circle cx="397.0" cy="60.2" r="1.45"/><circle cx="384.2" cy="60.2" r="1.45"/><circle cx="386.4" cy="39.1" r="1.45"/><circle cx="394.8" cy="39.1" r="1.45"/><circle cx="388.4" cy="60.4" r="1.45"/><circle cx="392.8" cy="60.4" r="1.45"/><circle cx="401.1" cy="51.4" r="1.45"/><circle cx="380.1" cy="51.4" r="1.45"/><circle cx="390.6" cy="39.2" r="1.45"/><circle cx="399.2" cy="56.0" r="1.45"/><circle cx="382.0" cy="56.0" r="1.45"/><circle cx="384.3" cy="43.0" r="1.45"/><circle cx="396.9" cy="43.0" r="1.45"/><circle cx="382.2" cy="47.2" r="1.45"/><circle cx="399.0" cy="47.2" r="1.45"/><circle cx="395.0" cy="56.2" r="1.45"/><circle cx="386.2" cy="56.2" r="1.45"/><circle cx="392.7" cy="43.2" r="1.45"/><circle cx="388.5" cy="43.2" r="1.45"/><circle cx="397.1" cy="51.8" r="1.45"/><circle cx="384.1" cy="51.8" r="1.45"/><circle cx="390.6" cy="56.3" r="1.45"/><circle cx="394.9" cy="47.5" r="1.45"/><circle cx="386.3" cy="47.5" r="1.45"/><circle cx="392.8" cy="52.0" r="1.45"/><circle cx="388.4" cy="52.0" r="1.45"/><circle cx="390.6" cy="47.6" r="1.45"/></g><circle cx="390.6" cy="49.8" r="23.0" fill="url(#gshade)"/><text x="390.40" y="18.40" font-size="8.1" text-anchor="middle" font-weight="bold" font-style="normal" fill="#111" >G<tspan dy="1.2" font-size="4.8">Au</tspan><tspan dy="-1.2" font-size="1">&#8203;</tspan> = 8 nm</text><g clip-path="url(#clipb1)"><circle cx="389.4" cy="136.7" r="42.3" fill="#000066"/><g fill="url(#gb1)"><circle cx="358.3" cy="105.3" r="3.04"/><circle cx="420.5" cy="105.3" r="3.04"/><circle cx="364.8" cy="99.7" r="3.04"/><circle cx="413.9" cy="99.7" r="3.04"/><circle cx="373.7" cy="95.1" r="3.04"/><circle cx="405.0" cy="95.1" r="3.04"/><circle cx="384.8" cy="92.5" r="3.04"/><circle cx="394.0" cy="92.5" r="3.04"/><circle cx="422.3" cy="107.1" r="3.04"/><circle cx="356.4" cy="107.1" r="3.04"/><circle cx="363.3" cy="101.5" r="3.04"/><circle cx="415.5" cy="101.5" r="3.04"/><circle cx="371.3" cy="97.0" r="3.04"/><circle cx="407.4" cy="97.0" r="3.04"/><circle cx="380.1" cy="94.2" r="3.04"/><circle cx="398.6" cy="94.2" r="3.04"/><circle cx="389.4" cy="93.2" r="3.04"/><circle cx="357.1" cy="109.0" r="3.04"/><circle cx="421.7" cy="109.0" r="3.04"/><circle cx="413.9" cy="103.4" r="3.04"/><circle cx="364.8" cy="103.4" r="3.04"/><circle cx="384.8" cy="95.8" r="3.04"/><circle cx="394.0" cy="95.8" r="3.04"/><circle cx="405.0" cy="98.8" r="3.04"/><circle cx="373.7" cy="98.8" r="3.04"/><circle cx="360.1" cy="110.7" r="3.04"/><circle cx="418.7" cy="110.7" r="3.04"/><circle cx="422.7" cy="118.9" r="3.04"/><circle cx="356.1" cy="118.9" r="3.04"/><circle cx="380.3" cy="100.2" r="3.04"/><circle cx="398.4" cy="100.2" r="3.04"/><circle cx="369.4" cy="105.0" r="3.04"/><circle cx="409.4" cy="105.0" r="3.04"/><circle cx="389.4" cy="100.7" r="3.04"/><circle cx="413.5" cy="112.3" r="3.04"/><circle cx="365.3" cy="112.3" r="3.04"/><circle cx="402.4" cy="106.2" r="3.04"/><circle cx="376.3" cy="106.2" r="3.04"/><circle cx="417.4" cy="120.4" r="3.04"/><circle cx="361.4" cy="120.4" r="3.04"/><circle cx="393.9" cy="106.9" r="3.04"/><circle cx="384.8" cy="106.9" r="3.04"/><circle cx="406.5" cy="113.4" r="3.04"/><circle cx="372.2" cy="113.4" r="3.04"/><circle cx="368.2" cy="121.6" r="3.04"/><circle cx="410.5" cy="121.6" r="3.04"/><circle cx="380.5" cy="114.2" r="3.04"/><circle cx="398.3" cy="114.2" r="3.04"/><circle cx="389.4" cy="114.4" r="3.04"/><circle cx="376.2" cy="122.4" r="3.04"/><circle cx="402.5" cy="122.4" r="3.04"/><circle cx="393.8" cy="122.9" r="3.04"/><circle cx="384.9" cy="122.9" r="3.04"/></g></g><rect x="373" y="23.3" width="35" height="24.9" fill="none" stroke="#f5141c" stroke-width="1.1" stroke-dasharray="2.8,1.2"/><rect x="358" y="80.5" width="62.75" height="39.5" fill="none" stroke="#f5141c" stroke-width="1.1" stroke-dasharray="2.8,1.2"/><line x1="373" y1="48.2" x2="358" y2="80.5" stroke="#f5141c" stroke-width="1.1" stroke-dasharray="2.8,1.2"/><line x1="408" y1="48.2" x2="420.75" y2="80.5" stroke="#f5141c" stroke-width="1.1" stroke-dasharray="2.8,1.2"/><circle cx="455.6" cy="50.2" r="20.16" fill="url(#gcore)"/><g fill="url(#gb2)"><circle cx="435.2" cy="56.5" r="1.85"/><circle cx="476.0" cy="56.5" r="1.85"/><circle cx="440.6" cy="35.1" r="1.85"/><circle cx="470.6" cy="35.1" r="1.85"/><circle cx="459.5" cy="71.2" r="1.85"/><circle cx="451.7" cy="71.2" r="1.85"/><circle cx="439.7" cy="64.5" r="1.85"/><circle cx="471.5" cy="64.5" r="1.85"/><circle cx="447.2" cy="69.8" r="1.85"/><circle cx="464.0" cy="69.8" r="1.85"/><circle cx="435.5" cy="43.0" r="1.85"/><circle cx="475.7" cy="43.0" r="1.85"/><circle cx="443.2" cy="67.6" r="1.85"/><circle cx="468.0" cy="67.6" r="1.85"/><circle cx="437.3" cy="39.0" r="1.85"/><circle cx="473.9" cy="39.0" r="1.85"/><circle cx="443.8" cy="32.3" r="1.85"/><circle cx="467.4" cy="32.3" r="1.85"/><circle cx="448.0" cy="30.1" r="1.85"/><circle cx="463.2" cy="30.1" r="1.85"/><circle cx="455.6" cy="71.7" r="1.85"/><circle cx="434.3" cy="48.0" r="1.85"/><circle cx="476.9" cy="48.0" r="1.85"/><circle cx="453.4" cy="28.9" r="1.85"/><circle cx="457.8" cy="28.9" r="1.85"/><circle cx="473.9" cy="61.4" r="1.85"/><circle cx="437.3" cy="61.4" r="1.85"/><circle cx="434.4" cy="52.9" r="1.85"/><circle cx="476.8" cy="52.9" r="1.85"/><circle cx="435.5" cy="57.4" r="1.85"/><circle cx="475.7" cy="57.4" r="1.85"/><circle cx="471.5" cy="35.9" r="1.85"/><circle cx="439.7" cy="35.9" r="1.85"/><circle cx="449.4" cy="70.6" r="1.85"/><circle cx="461.8" cy="70.6" r="1.85"/><circle cx="440.6" cy="65.3" r="1.85"/><circle cx="470.6" cy="65.3" r="1.85"/><circle cx="435.2" cy="43.9" r="1.85"/><circle cx="476.0" cy="43.9" r="1.85"/><circle cx="444.7" cy="68.5" r="1.85"/><circle cx="466.5" cy="68.5" r="1.85"/><circle cx="437.1" cy="39.9" r="1.85"/><circle cx="474.1" cy="39.9" r="1.85"/><circle cx="443.0" cy="33.2" r="1.85"/><circle cx="468.2" cy="33.2" r="1.85"/><circle cx="446.9" cy="31.0" r="1.85"/><circle cx="464.3" cy="31.0" r="1.85"/><circle cx="453.3" cy="71.1" r="1.85"/><circle cx="457.9" cy="71.1" r="1.85"/><circle cx="451.1" cy="29.7" r="1.85"/><circle cx="460.1" cy="29.7" r="1.85"/><circle cx="455.6" cy="29.2" r="1.85"/><circle cx="476.5" cy="48.9" r="1.85"/><circle cx="434.7" cy="48.9" r="1.85"/><circle cx="438.5" cy="62.2" r="1.85"/><circle cx="472.7" cy="62.2" r="1.85"/><circle cx="447.5" cy="69.2" r="1.85"/><circle cx="463.7" cy="69.2" r="1.85"/><circle cx="435.3" cy="53.8" r="1.85"/><circle cx="475.9" cy="53.8" r="1.85"/><circle cx="442.6" cy="66.2" r="1.85"/><circle cx="468.6" cy="66.2" r="1.85"/><circle cx="436.6" cy="58.3" r="1.85"/><circle cx="474.6" cy="58.3" r="1.85"/><circle cx="440.0" cy="36.8" r="1.85"/><circle cx="471.2" cy="36.8" r="1.85"/><circle cx="435.9" cy="44.9" r="1.85"/><circle cx="475.3" cy="44.9" r="1.85"/><circle cx="473.4" cy="40.8" r="1.85"/><circle cx="437.8" cy="40.8" r="1.85"/><circle cx="467.4" cy="34.1" r="1.85"/><circle cx="443.8" cy="34.1" r="1.85"/><circle cx="459.9" cy="69.6" r="1.85"/><circle cx="451.3" cy="69.6" r="1.85"/><circle cx="453.4" cy="30.5" r="1.85"/><circle cx="457.8" cy="30.5" r="1.85"/><circle cx="463.2" cy="31.9" r="1.85"/><circle cx="448.0" cy="31.9" r="1.85"/><circle cx="440.7" cy="63.0" r="1.85"/><circle cx="470.5" cy="63.0" r="1.85"/><circle cx="455.6" cy="69.8" r="1.85"/><circle cx="436.1" cy="49.8" r="1.85"/><circle cx="475.1" cy="49.8" r="1.85"/><circle cx="445.5" cy="66.8" r="1.85"/><circle cx="465.7" cy="66.8" r="1.85"/><circle cx="438.7" cy="59.1" r="1.85"/><circle cx="472.5" cy="59.1" r="1.85"/><circle cx="474.1" cy="54.6" r="1.85"/><circle cx="437.1" cy="54.6" r="1.85"/><circle cx="441.4" cy="37.7" r="1.85"/><circle cx="469.8" cy="37.7" r="1.85"/><circle cx="473.6" cy="45.7" r="1.85"/><circle cx="437.6" cy="45.7" r="1.85"/><circle cx="471.7" cy="41.6" r="1.85"/><circle cx="439.5" cy="41.6" r="1.85"/><circle cx="449.2" cy="67.3" r="1.85"/><circle cx="462.0" cy="67.3" r="1.85"/><circle cx="451.2" cy="32.6" r="1.85"/><circle cx="460.0" cy="32.6" r="1.85"/><circle cx="445.9" cy="34.9" r="1.85"/><circle cx="465.3" cy="34.9" r="1.85"/><circle cx="443.7" cy="63.6" r="1.85"/><circle cx="467.5" cy="63.6" r="1.85"/><circle cx="457.8" cy="67.5" r="1.85"/><circle cx="453.4" cy="67.5" r="1.85"/><circle cx="455.6" cy="32.8" r="1.85"/><circle cx="438.3" cy="50.6" r="1.85"/><circle cx="472.9" cy="50.6" r="1.85"/><circle cx="469.6" cy="59.8" r="1.85"/><circle cx="441.6" cy="59.8" r="1.85"/><circle cx="471.5" cy="55.4" r="1.85"/><circle cx="439.7" cy="55.4" r="1.85"/><circle cx="467.2" cy="38.4" r="1.85"/><circle cx="444.0" cy="38.4" r="1.85"/><circle cx="463.9" cy="64.1" r="1.85"/><circle cx="447.3" cy="64.1" r="1.85"/><circle cx="461.9" cy="35.5" r="1.85"/><circle cx="449.3" cy="35.5" r="1.85"/><circle cx="471.1" cy="46.5" r="1.85"/><circle cx="440.1" cy="46.5" r="1.85"/><circle cx="469.1" cy="42.4" r="1.85"/><circle cx="442.1" cy="42.4" r="1.85"/><circle cx="459.9" cy="64.4" r="1.85"/><circle cx="451.3" cy="64.4" r="1.85"/><circle cx="466.1" cy="60.3" r="1.85"/><circle cx="445.1" cy="60.3" r="1.85"/><circle cx="457.8" cy="35.8" r="1.85"/><circle cx="453.4" cy="35.8" r="1.85"/><circle cx="455.6" cy="64.6" r="1.85"/><circle cx="469.9" cy="51.3" r="1.85"/><circle cx="441.3" cy="51.3" r="1.85"/><circle cx="463.9" cy="39.0" r="1.85"/><circle cx="447.3" cy="39.0" r="1.85"/><circle cx="443.1" cy="56.0" r="1.85"/><circle cx="468.1" cy="56.0" r="1.85"/><circle cx="467.9" cy="47.1" r="1.85"/><circle cx="443.3" cy="47.1" r="1.85"/><circle cx="445.4" cy="42.9" r="1.85"/><circle cx="465.8" cy="42.9" r="1.85"/><circle cx="462.1" cy="60.7" r="1.85"/><circle cx="449.1" cy="60.7" r="1.85"/><circle cx="451.3" cy="39.4" r="1.85"/><circle cx="459.9" cy="39.4" r="1.85"/><circle cx="453.4" cy="60.9" r="1.85"/><circle cx="457.8" cy="60.9" r="1.85"/><circle cx="466.3" cy="51.8" r="1.85"/><circle cx="444.9" cy="51.8" r="1.85"/><circle cx="455.6" cy="39.5" r="1.85"/><circle cx="464.3" cy="56.4" r="1.85"/><circle cx="446.9" cy="56.4" r="1.85"/><circle cx="449.2" cy="43.3" r="1.85"/><circle cx="462.0" cy="43.3" r="1.85"/><circle cx="447.0" cy="47.6" r="1.85"/><circle cx="464.2" cy="47.6" r="1.85"/><circle cx="460.0" cy="56.7" r="1.85"/><circle cx="451.2" cy="56.7" r="1.85"/><circle cx="457.8" cy="43.5" r="1.85"/><circle cx="453.4" cy="43.5" r="1.85"/><circle cx="462.2" cy="52.2" r="1.85"/><circle cx="449.0" cy="52.2" r="1.85"/><circle cx="455.6" cy="56.8" r="1.85"/><circle cx="460.0" cy="47.9" r="1.85"/><circle cx="451.2" cy="47.9" r="1.85"/><circle cx="457.8" cy="52.4" r="1.85"/><circle cx="453.4" cy="52.4" r="1.85"/><circle cx="455.6" cy="48.0" r="1.85"/></g><circle cx="455.6" cy="50.2" r="23.7" fill="url(#gshade)"/><text x="455.40" y="18.40" font-size="8.1" text-anchor="middle" font-weight="bold" font-style="normal" fill="#111" >G<tspan dy="1.2" font-size="4.8">Au</tspan><tspan dy="-1.2" font-size="1">&#8203;</tspan> = 6 nm</text><g clip-path="url(#clipb2)"><circle cx="454.3" cy="137.0" r="42.3" fill="#000066"/><g fill="url(#gb2)"><circle cx="422.8" cy="105.2" r="3.89"/><circle cx="485.8" cy="105.2" r="3.89"/><circle cx="429.4" cy="99.5" r="3.89"/><circle cx="479.2" cy="99.5" r="3.89"/><circle cx="438.4" cy="94.9" r="3.89"/><circle cx="470.2" cy="94.9" r="3.89"/><circle cx="449.6" cy="92.3" r="3.89"/><circle cx="459.0" cy="92.3" r="3.89"/><circle cx="487.7" cy="107.1" r="3.89"/><circle cx="420.9" cy="107.1" r="3.89"/><circle cx="427.8" cy="101.4" r="3.89"/><circle cx="480.8" cy="101.4" r="3.89"/><circle cx="436.0" cy="96.8" r="3.89"/><circle cx="472.6" cy="96.8" r="3.89"/><circle cx="444.9" cy="93.9" r="3.89"/><circle cx="463.7" cy="93.9" r="3.89"/><circle cx="454.3" cy="93.0" r="3.89"/><circle cx="421.5" cy="109.0" r="3.89"/><circle cx="487.1" cy="109.0" r="3.89"/><circle cx="479.2" cy="103.3" r="3.89"/><circle cx="429.4" cy="103.3" r="3.89"/><circle cx="449.6" cy="95.6" r="3.89"/><circle cx="459.0" cy="95.6" r="3.89"/><circle cx="470.2" cy="98.7" r="3.89"/><circle cx="438.4" cy="98.7" r="3.89"/><circle cx="424.6" cy="110.8" r="3.89"/><circle cx="484.0" cy="110.8" r="3.89"/><circle cx="488.1" cy="119.1" r="3.89"/><circle cx="420.5" cy="119.1" r="3.89"/><circle cx="445.1" cy="100.1" r="3.89"/><circle cx="463.5" cy="100.1" r="3.89"/><circle cx="434.0" cy="104.9" r="3.89"/><circle cx="474.6" cy="104.9" r="3.89"/><circle cx="454.3" cy="100.6" r="3.89"/><circle cx="478.8" cy="112.3" r="3.89"/><circle cx="429.8" cy="112.3" r="3.89"/><circle cx="467.5" cy="106.2" r="3.89"/><circle cx="441.1" cy="106.2" r="3.89"/><circle cx="482.7" cy="120.6" r="3.89"/><circle cx="425.9" cy="120.6" r="3.89"/><circle cx="458.9" cy="106.8" r="3.89"/><circle cx="449.7" cy="106.8" r="3.89"/><circle cx="471.7" cy="113.5" r="3.89"/><circle cx="436.9" cy="113.5" r="3.89"/><circle cx="432.9" cy="121.8" r="3.89"/><circle cx="475.7" cy="121.8" r="3.89"/><circle cx="445.3" cy="114.3" r="3.89"/><circle cx="463.3" cy="114.3" r="3.89"/><circle cx="454.3" cy="114.5" r="3.89"/><circle cx="441.0" cy="122.6" r="3.89"/><circle cx="467.6" cy="122.6" r="3.89"/><circle cx="458.8" cy="123.1" r="3.89"/><circle cx="449.8" cy="123.1" r="3.89"/></g></g><rect x="438" y="23.3" width="35" height="24.9" fill="none" stroke="#f5141c" stroke-width="1.1" stroke-dasharray="2.8,1.2"/><rect x="423" y="80.5" width="62.60000000000002" height="39.5" fill="none" stroke="#f5141c" stroke-width="1.1" stroke-dasharray="2.8,1.2"/><line x1="438" y1="48.2" x2="423" y2="80.5" stroke="#f5141c" stroke-width="1.1" stroke-dasharray="2.8,1.2"/><line x1="473" y1="48.2" x2="485.6" y2="80.5" stroke="#f5141c" stroke-width="1.1" stroke-dasharray="2.8,1.2"/><circle cx="520.4" cy="50.3" r="20.36" fill="url(#gcore)"/><g fill="url(#gb3)"><circle cx="499.6" cy="56.7" r="2.20"/><circle cx="541.2" cy="56.7" r="2.20"/><circle cx="505.1" cy="34.8" r="2.20"/><circle cx="535.7" cy="34.8" r="2.20"/><circle cx="524.3" cy="71.7" r="2.20"/><circle cx="516.5" cy="71.7" r="2.20"/><circle cx="504.2" cy="64.9" r="2.20"/><circle cx="536.6" cy="64.9" r="2.20"/><circle cx="511.8" cy="70.3" r="2.20"/><circle cx="529.0" cy="70.3" r="2.20"/><circle cx="499.8" cy="43.0" r="2.20"/><circle cx="541.0" cy="43.0" r="2.20"/><circle cx="507.7" cy="68.1" r="2.20"/><circle cx="533.1" cy="68.1" r="2.20"/><circle cx="501.7" cy="38.9" r="2.20"/><circle cx="539.1" cy="38.9" r="2.20"/><circle cx="508.3" cy="32.1" r="2.20"/><circle cx="532.5" cy="32.1" r="2.20"/><circle cx="512.7" cy="29.8" r="2.20"/><circle cx="528.1" cy="29.8" r="2.20"/><circle cx="520.4" cy="72.2" r="2.20"/><circle cx="498.6" cy="48.1" r="2.20"/><circle cx="542.2" cy="48.1" r="2.20"/><circle cx="518.1" cy="28.5" r="2.20"/><circle cx="522.7" cy="28.5" r="2.20"/><circle cx="539.1" cy="61.7" r="2.20"/><circle cx="501.7" cy="61.7" r="2.20"/><circle cx="498.7" cy="53.0" r="2.20"/><circle cx="542.1" cy="53.0" r="2.20"/><circle cx="499.8" cy="57.6" r="2.20"/><circle cx="541.0" cy="57.6" r="2.20"/><circle cx="536.6" cy="35.7" r="2.20"/><circle cx="504.2" cy="35.7" r="2.20"/><circle cx="514.1" cy="71.2" r="2.20"/><circle cx="526.7" cy="71.2" r="2.20"/><circle cx="505.1" cy="65.8" r="2.20"/><circle cx="535.7" cy="65.8" r="2.20"/><circle cx="499.6" cy="43.9" r="2.20"/><circle cx="541.2" cy="43.9" r="2.20"/><circle cx="509.3" cy="69.0" r="2.20"/><circle cx="531.5" cy="69.0" r="2.20"/><circle cx="501.5" cy="39.8" r="2.20"/><circle cx="539.3" cy="39.8" r="2.20"/><circle cx="507.5" cy="33.0" r="2.20"/><circle cx="533.3" cy="33.0" r="2.20"/><circle cx="511.5" cy="30.7" r="2.20"/><circle cx="529.3" cy="30.7" r="2.20"/><circle cx="518.1" cy="71.7" r="2.20"/><circle cx="522.7" cy="71.7" r="2.20"/><circle cx="515.8" cy="29.3" r="2.20"/><circle cx="525.0" cy="29.3" r="2.20"/><circle cx="520.4" cy="28.9" r="2.20"/><circle cx="541.7" cy="49.0" r="2.20"/><circle cx="499.1" cy="49.0" r="2.20"/><circle cx="503.0" cy="62.6" r="2.20"/><circle cx="537.8" cy="62.6" r="2.20"/><circle cx="512.1" cy="69.7" r="2.20"/><circle cx="528.7" cy="69.7" r="2.20"/><circle cx="499.7" cy="53.9" r="2.20"/><circle cx="541.1" cy="53.9" r="2.20"/><circle cx="507.1" cy="66.6" r="2.20"/><circle cx="533.7" cy="66.6" r="2.20"/><circle cx="501.1" cy="58.5" r="2.20"/><circle cx="539.7" cy="58.5" r="2.20"/><circle cx="504.5" cy="36.7" r="2.20"/><circle cx="536.3" cy="36.7" r="2.20"/><circle cx="500.3" cy="44.8" r="2.20"/><circle cx="540.5" cy="44.8" r="2.20"/><circle cx="538.6" cy="40.7" r="2.20"/><circle cx="502.2" cy="40.7" r="2.20"/><circle cx="532.5" cy="33.9" r="2.20"/><circle cx="508.3" cy="33.9" r="2.20"/><circle cx="524.8" cy="70.1" r="2.20"/><circle cx="516.0" cy="70.1" r="2.20"/><circle cx="518.1" cy="30.2" r="2.20"/><circle cx="522.7" cy="30.2" r="2.20"/><circle cx="528.1" cy="31.7" r="2.20"/><circle cx="512.7" cy="31.7" r="2.20"/><circle cx="505.2" cy="63.4" r="2.20"/><circle cx="535.6" cy="63.4" r="2.20"/><circle cx="520.4" cy="70.3" r="2.20"/><circle cx="500.5" cy="49.9" r="2.20"/><circle cx="540.3" cy="49.9" r="2.20"/><circle cx="510.1" cy="67.3" r="2.20"/><circle cx="530.7" cy="67.3" r="2.20"/><circle cx="503.2" cy="59.3" r="2.20"/><circle cx="537.6" cy="59.3" r="2.20"/><circle cx="539.3" cy="54.8" r="2.20"/><circle cx="501.5" cy="54.8" r="2.20"/><circle cx="505.9" cy="37.5" r="2.20"/><circle cx="534.9" cy="37.5" r="2.20"/><circle cx="538.8" cy="45.7" r="2.20"/><circle cx="502.0" cy="45.7" r="2.20"/><circle cx="536.8" cy="41.6" r="2.20"/><circle cx="504.0" cy="41.6" r="2.20"/><circle cx="513.9" cy="67.7" r="2.20"/><circle cx="526.9" cy="67.7" r="2.20"/><circle cx="515.9" cy="32.3" r="2.20"/><circle cx="524.9" cy="32.3" r="2.20"/><circle cx="510.5" cy="34.7" r="2.20"/><circle cx="530.3" cy="34.7" r="2.20"/><circle cx="508.2" cy="64.0" r="2.20"/><circle cx="532.6" cy="64.0" r="2.20"/><circle cx="522.6" cy="68.0" r="2.20"/><circle cx="518.2" cy="68.0" r="2.20"/><circle cx="520.4" cy="32.6" r="2.20"/><circle cx="502.8" cy="50.7" r="2.20"/><circle cx="538.0" cy="50.7" r="2.20"/><circle cx="534.7" cy="60.1" r="2.20"/><circle cx="506.1" cy="60.1" r="2.20"/><circle cx="536.6" cy="55.6" r="2.20"/><circle cx="504.2" cy="55.6" r="2.20"/><circle cx="532.3" cy="38.3" r="2.20"/><circle cx="508.5" cy="38.3" r="2.20"/><circle cx="528.9" cy="64.5" r="2.20"/><circle cx="511.9" cy="64.5" r="2.20"/><circle cx="526.8" cy="35.3" r="2.20"/><circle cx="514.0" cy="35.3" r="2.20"/><circle cx="536.3" cy="46.5" r="2.20"/><circle cx="504.5" cy="46.5" r="2.20"/><circle cx="534.2" cy="42.3" r="2.20"/><circle cx="506.6" cy="42.3" r="2.20"/><circle cx="524.8" cy="64.8" r="2.20"/><circle cx="516.0" cy="64.8" r="2.20"/><circle cx="531.1" cy="60.6" r="2.20"/><circle cx="509.7" cy="60.6" r="2.20"/><circle cx="522.6" cy="35.6" r="2.20"/><circle cx="518.2" cy="35.6" r="2.20"/><circle cx="520.4" cy="65.0" r="2.20"/><circle cx="535.0" cy="51.4" r="2.20"/><circle cx="505.8" cy="51.4" r="2.20"/><circle cx="528.9" cy="38.9" r="2.20"/><circle cx="511.9" cy="38.9" r="2.20"/><circle cx="507.6" cy="56.2" r="2.20"/><circle cx="533.2" cy="56.2" r="2.20"/><circle cx="533.0" cy="47.1" r="2.20"/><circle cx="507.8" cy="47.1" r="2.20"/><circle cx="510.0" cy="42.9" r="2.20"/><circle cx="530.8" cy="42.9" r="2.20"/><circle cx="527.1" cy="61.0" r="2.20"/><circle cx="513.7" cy="61.0" r="2.20"/><circle cx="516.0" cy="39.2" r="2.20"/><circle cx="524.8" cy="39.2" r="2.20"/><circle cx="518.1" cy="61.2" r="2.20"/><circle cx="522.7" cy="61.2" r="2.20"/><circle cx="531.3" cy="52.0" r="2.20"/><circle cx="509.5" cy="52.0" r="2.20"/><circle cx="520.4" cy="39.3" r="2.20"/><circle cx="529.3" cy="56.7" r="2.20"/><circle cx="511.5" cy="56.7" r="2.20"/><circle cx="513.9" cy="43.3" r="2.20"/><circle cx="526.9" cy="43.3" r="2.20"/><circle cx="511.7" cy="47.6" r="2.20"/><circle cx="529.1" cy="47.6" r="2.20"/><circle cx="524.9" cy="57.0" r="2.20"/><circle cx="515.9" cy="57.0" r="2.20"/><circle cx="522.6" cy="43.5" r="2.20"/><circle cx="518.2" cy="43.5" r="2.20"/><circle cx="527.1" cy="52.4" r="2.20"/><circle cx="513.7" cy="52.4" r="2.20"/><circle cx="520.4" cy="57.1" r="2.20"/><circle cx="524.9" cy="47.9" r="2.20"/><circle cx="515.9" cy="47.9" r="2.20"/><circle cx="522.7" cy="52.6" r="2.20"/><circle cx="518.1" cy="52.6" r="2.20"/><circle cx="520.4" cy="48.0" r="2.20"/></g><circle cx="520.4" cy="50.3" r="24.5" fill="url(#gshade)"/><text x="520.20" y="18.40" font-size="8.1" text-anchor="middle" font-weight="bold" font-style="normal" fill="#111" >G<tspan dy="1.2" font-size="4.8">Au</tspan><tspan dy="-1.2" font-size="1">&#8203;</tspan> = 4 nm</text><g clip-path="url(#clipb3)"><circle cx="519.2" cy="137.1" r="42.8" fill="#000066"/><g fill="url(#gb3)"><circle cx="487.0" cy="104.7" r="4.62"/><circle cx="551.4" cy="104.7" r="4.62"/><circle cx="493.8" cy="98.8" r="4.62"/><circle cx="544.6" cy="98.8" r="4.62"/><circle cx="503.0" cy="94.1" r="4.62"/><circle cx="535.4" cy="94.1" r="4.62"/><circle cx="514.4" cy="91.4" r="4.62"/><circle cx="524.0" cy="91.4" r="4.62"/><circle cx="553.3" cy="106.6" r="4.62"/><circle cx="485.1" cy="106.6" r="4.62"/><circle cx="492.2" cy="100.8" r="4.62"/><circle cx="546.2" cy="100.8" r="4.62"/><circle cx="500.5" cy="96.1" r="4.62"/><circle cx="537.9" cy="96.1" r="4.62"/><circle cx="509.6" cy="93.1" r="4.62"/><circle cx="528.8" cy="93.1" r="4.62"/><circle cx="519.2" cy="92.2" r="4.62"/><circle cx="485.7" cy="108.5" r="4.62"/><circle cx="552.7" cy="108.5" r="4.62"/><circle cx="544.6" cy="102.7" r="4.62"/><circle cx="493.8" cy="102.7" r="4.62"/><circle cx="514.4" cy="94.9" r="4.62"/><circle cx="524.0" cy="94.9" r="4.62"/><circle cx="535.4" cy="98.0" r="4.62"/><circle cx="503.0" cy="98.0" r="4.62"/><circle cx="488.9" cy="110.3" r="4.62"/><circle cx="549.5" cy="110.3" r="4.62"/><circle cx="553.7" cy="118.8" r="4.62"/><circle cx="484.7" cy="118.8" r="4.62"/><circle cx="509.8" cy="99.4" r="4.62"/><circle cx="528.6" cy="99.4" r="4.62"/><circle cx="498.5" cy="104.4" r="4.62"/><circle cx="539.9" cy="104.4" r="4.62"/><circle cx="519.2" cy="99.9" r="4.62"/><circle cx="544.2" cy="111.9" r="4.62"/><circle cx="494.2" cy="111.9" r="4.62"/><circle cx="532.7" cy="105.6" r="4.62"/><circle cx="505.7" cy="105.6" r="4.62"/><circle cx="548.2" cy="120.3" r="4.62"/><circle cx="490.2" cy="120.3" r="4.62"/><circle cx="523.9" cy="106.3" r="4.62"/><circle cx="514.5" cy="106.3" r="4.62"/><circle cx="537.0" cy="113.1" r="4.62"/><circle cx="501.4" cy="113.1" r="4.62"/><circle cx="497.3" cy="121.6" r="4.62"/><circle cx="541.1" cy="121.6" r="4.62"/><circle cx="510.0" cy="113.9" r="4.62"/><circle cx="528.4" cy="113.9" r="4.62"/><circle cx="519.2" cy="114.2" r="4.62"/><circle cx="505.6" cy="122.4" r="4.62"/><circle cx="532.8" cy="122.4" r="4.62"/><circle cx="523.8" cy="122.9" r="4.62"/><circle cx="514.6" cy="122.9" r="4.62"/></g></g><rect x="503" y="23.3" width="35" height="24.9" fill="none" stroke="#f5141c" stroke-width="1.1" stroke-dasharray="2.8,1.2"/><rect x="488" y="80.5" width="62.39999999999998" height="39.5" fill="none" stroke="#f5141c" stroke-width="1.1" stroke-dasharray="2.8,1.2"/><line x1="503" y1="48.2" x2="488" y2="80.5" stroke="#f5141c" stroke-width="1.1" stroke-dasharray="2.8,1.2"/><line x1="538" y1="48.2" x2="550.4" y2="80.5" stroke="#f5141c" stroke-width="1.1" stroke-dasharray="2.8,1.2"/><circle cx="583.8" cy="51" r="20.88" fill="url(#gcore)"/><g fill="url(#gb4)" stroke="url(#gh4)" stroke-width="0.88"><circle cx="562.2" cy="57.6" r="2.21"/><circle cx="605.4" cy="57.6" r="2.21"/><circle cx="567.9" cy="35.0" r="2.21"/><circle cx="599.7" cy="35.0" r="2.21"/><circle cx="587.9" cy="73.2" r="2.21"/><circle cx="579.7" cy="73.2" r="2.21"/><circle cx="567.0" cy="66.1" r="2.21"/><circle cx="600.6" cy="66.1" r="2.21"/><circle cx="574.9" cy="71.8" r="2.21"/><circle cx="592.7" cy="71.8" r="2.21"/><circle cx="562.5" cy="43.4" r="2.21"/><circle cx="605.1" cy="43.4" r="2.21"/><circle cx="570.7" cy="69.4" r="2.21"/><circle cx="596.9" cy="69.4" r="2.21"/><circle cx="564.4" cy="39.2" r="2.21"/><circle cx="603.2" cy="39.2" r="2.21"/><circle cx="571.3" cy="32.1" r="2.21"/><circle cx="596.3" cy="32.1" r="2.21"/><circle cx="575.8" cy="29.8" r="2.21"/><circle cx="591.8" cy="29.8" r="2.21"/><circle cx="583.8" cy="73.7" r="2.21"/><circle cx="561.2" cy="48.7" r="2.21"/><circle cx="606.4" cy="48.7" r="2.21"/><circle cx="581.4" cy="28.4" r="2.21"/><circle cx="586.2" cy="28.4" r="2.21"/><circle cx="603.2" cy="62.8" r="2.21"/><circle cx="564.4" cy="62.8" r="2.21"/><circle cx="561.3" cy="53.8" r="2.21"/><circle cx="606.3" cy="53.8" r="2.21"/><circle cx="562.5" cy="58.6" r="2.21"/><circle cx="605.1" cy="58.6" r="2.21"/><circle cx="600.6" cy="35.9" r="2.21"/><circle cx="567.0" cy="35.9" r="2.21"/><circle cx="577.3" cy="72.6" r="2.21"/><circle cx="590.3" cy="72.6" r="2.21"/><circle cx="567.9" cy="67.0" r="2.21"/><circle cx="599.7" cy="67.0" r="2.21"/><circle cx="562.2" cy="44.4" r="2.21"/><circle cx="605.4" cy="44.4" r="2.21"/><circle cx="572.2" cy="70.4" r="2.21"/><circle cx="595.4" cy="70.4" r="2.21"/><circle cx="564.2" cy="40.1" r="2.21"/><circle cx="603.4" cy="40.1" r="2.21"/><circle cx="570.5" cy="33.0" r="2.21"/><circle cx="597.1" cy="33.0" r="2.21"/><circle cx="574.6" cy="30.7" r="2.21"/><circle cx="593.0" cy="30.7" r="2.21"/><circle cx="581.4" cy="73.1" r="2.21"/><circle cx="586.2" cy="73.1" r="2.21"/><circle cx="579.1" cy="29.3" r="2.21"/><circle cx="588.5" cy="29.3" r="2.21"/><circle cx="583.8" cy="28.8" r="2.21"/><circle cx="605.9" cy="49.7" r="2.21"/><circle cx="561.7" cy="49.7" r="2.21"/><circle cx="565.7" cy="63.7" r="2.21"/><circle cx="601.9" cy="63.7" r="2.21"/><circle cx="575.2" cy="71.1" r="2.21"/><circle cx="592.4" cy="71.1" r="2.21"/><circle cx="562.3" cy="54.8" r="2.21"/><circle cx="605.3" cy="54.8" r="2.21"/><circle cx="570.0" cy="67.9" r="2.21"/><circle cx="597.6" cy="67.9" r="2.21"/><circle cx="563.7" cy="59.5" r="2.21"/><circle cx="603.9" cy="59.5" r="2.21"/><circle cx="567.3" cy="36.9" r="2.21"/><circle cx="600.3" cy="36.9" r="2.21"/><circle cx="563.0" cy="45.3" r="2.21"/><circle cx="604.6" cy="45.3" r="2.21"/><circle cx="602.6" cy="41.1" r="2.21"/><circle cx="565.0" cy="41.1" r="2.21"/><circle cx="596.3" cy="34.0" r="2.21"/><circle cx="571.3" cy="34.0" r="2.21"/><circle cx="588.4" cy="71.6" r="2.21"/><circle cx="579.2" cy="71.6" r="2.21"/><circle cx="581.4" cy="30.1" r="2.21"/><circle cx="586.2" cy="30.1" r="2.21"/><circle cx="591.8" cy="31.7" r="2.21"/><circle cx="575.8" cy="31.7" r="2.21"/><circle cx="568.0" cy="64.5" r="2.21"/><circle cx="599.6" cy="64.5" r="2.21"/><circle cx="583.8" cy="71.7" r="2.21"/><circle cx="563.2" cy="50.6" r="2.21"/><circle cx="604.4" cy="50.6" r="2.21"/><circle cx="573.2" cy="68.6" r="2.21"/><circle cx="594.4" cy="68.6" r="2.21"/><circle cx="565.9" cy="60.4" r="2.21"/><circle cx="601.7" cy="60.4" r="2.21"/><circle cx="603.4" cy="55.7" r="2.21"/><circle cx="564.2" cy="55.7" r="2.21"/><circle cx="568.8" cy="37.8" r="2.21"/><circle cx="598.8" cy="37.8" r="2.21"/><circle cx="602.9" cy="46.2" r="2.21"/><circle cx="564.7" cy="46.2" r="2.21"/><circle cx="600.8" cy="41.9" r="2.21"/><circle cx="566.8" cy="41.9" r="2.21"/><circle cx="577.1" cy="69.1" r="2.21"/><circle cx="590.5" cy="69.1" r="2.21"/><circle cx="579.2" cy="32.4" r="2.21"/><circle cx="588.4" cy="32.4" r="2.21"/><circle cx="573.6" cy="34.8" r="2.21"/><circle cx="594.0" cy="34.8" r="2.21"/><circle cx="571.2" cy="65.2" r="2.21"/><circle cx="596.4" cy="65.2" r="2.21"/><circle cx="586.1" cy="69.3" r="2.21"/><circle cx="581.5" cy="69.3" r="2.21"/><circle cx="583.8" cy="32.6" r="2.21"/><circle cx="565.5" cy="51.4" r="2.21"/><circle cx="602.1" cy="51.4" r="2.21"/><circle cx="598.6" cy="61.1" r="2.21"/><circle cx="569.0" cy="61.1" r="2.21"/><circle cx="600.6" cy="56.5" r="2.21"/><circle cx="567.0" cy="56.5" r="2.21"/><circle cx="596.1" cy="38.5" r="2.21"/><circle cx="571.5" cy="38.5" r="2.21"/><circle cx="592.6" cy="65.8" r="2.21"/><circle cx="575.0" cy="65.8" r="2.21"/><circle cx="590.5" cy="35.4" r="2.21"/><circle cx="577.1" cy="35.4" r="2.21"/><circle cx="600.3" cy="47.0" r="2.21"/><circle cx="567.3" cy="47.0" r="2.21"/><circle cx="598.1" cy="42.7" r="2.21"/><circle cx="569.5" cy="42.7" r="2.21"/><circle cx="588.3" cy="66.1" r="2.21"/><circle cx="579.3" cy="66.1" r="2.21"/><circle cx="594.9" cy="61.7" r="2.21"/><circle cx="572.7" cy="61.7" r="2.21"/><circle cx="586.1" cy="35.8" r="2.21"/><circle cx="581.5" cy="35.8" r="2.21"/><circle cx="583.8" cy="66.2" r="2.21"/><circle cx="598.9" cy="52.2" r="2.21"/><circle cx="568.7" cy="52.2" r="2.21"/><circle cx="592.6" cy="39.1" r="2.21"/><circle cx="575.0" cy="39.1" r="2.21"/><circle cx="570.5" cy="57.1" r="2.21"/><circle cx="597.1" cy="57.1" r="2.21"/><circle cx="596.9" cy="47.7" r="2.21"/><circle cx="570.7" cy="47.7" r="2.21"/><circle cx="573.0" cy="43.3" r="2.21"/><circle cx="594.6" cy="43.3" r="2.21"/><circle cx="590.7" cy="62.1" r="2.21"/><circle cx="576.9" cy="62.1" r="2.21"/><circle cx="579.2" cy="39.5" r="2.21"/><circle cx="588.4" cy="39.5" r="2.21"/><circle cx="581.5" cy="62.3" r="2.21"/><circle cx="586.1" cy="62.3" r="2.21"/><circle cx="595.1" cy="52.7" r="2.21"/><circle cx="572.5" cy="52.7" r="2.21"/><circle cx="583.8" cy="39.6" r="2.21"/><circle cx="593.0" cy="57.6" r="2.21"/><circle cx="574.6" cy="57.6" r="2.21"/><circle cx="577.1" cy="43.7" r="2.21"/><circle cx="590.5" cy="43.7" r="2.21"/><circle cx="574.7" cy="48.2" r="2.21"/><circle cx="592.9" cy="48.2" r="2.21"/><circle cx="588.5" cy="57.9" r="2.21"/><circle cx="579.1" cy="57.9" r="2.21"/><circle cx="586.1" cy="44.0" r="2.21"/><circle cx="581.5" cy="44.0" r="2.21"/><circle cx="590.8" cy="53.1" r="2.21"/><circle cx="576.8" cy="53.1" r="2.21"/><circle cx="583.8" cy="58.0" r="2.21"/><circle cx="588.4" cy="48.5" r="2.21"/><circle cx="579.2" cy="48.5" r="2.21"/><circle cx="586.2" cy="53.3" r="2.21"/><circle cx="581.4" cy="53.3" r="2.21"/><circle cx="583.8" cy="48.6" r="2.21"/></g><circle cx="583.8" cy="51" r="25.7" fill="url(#gshade)"/><text x="583.60" y="18.40" font-size="8.1" text-anchor="middle" font-weight="bold" font-style="normal" fill="#111" >G<tspan dy="1.2" font-size="4.8">Au</tspan><tspan dy="-1.2" font-size="1">&#8203;</tspan> = 2 nm</text><g clip-path="url(#clipb4)"><circle cx="584.0" cy="137.6" r="43.8" fill="#000066"/><g fill="url(#gb4)" stroke="url(#gh4)" stroke-width="1.86"><circle cx="550.6" cy="103.9" r="4.64"/><circle cx="617.4" cy="103.9" r="4.64"/><circle cx="557.7" cy="97.9" r="4.64"/><circle cx="610.3" cy="97.9" r="4.64"/><circle cx="567.2" cy="93.0" r="4.64"/><circle cx="600.8" cy="93.0" r="4.64"/><circle cx="579.0" cy="90.2" r="4.64"/><circle cx="589.0" cy="90.2" r="4.64"/><circle cx="619.3" cy="105.9" r="4.64"/><circle cx="548.7" cy="105.9" r="4.64"/><circle cx="556.0" cy="99.9" r="4.64"/><circle cx="612.0" cy="99.9" r="4.64"/><circle cx="564.6" cy="95.0" r="4.64"/><circle cx="603.4" cy="95.0" r="4.64"/><circle cx="574.1" cy="92.0" r="4.64"/><circle cx="593.9" cy="92.0" r="4.64"/><circle cx="584.0" cy="91.0" r="4.64"/><circle cx="549.3" cy="107.9" r="4.64"/><circle cx="618.7" cy="107.9" r="4.64"/><circle cx="610.3" cy="101.9" r="4.64"/><circle cx="557.7" cy="101.9" r="4.64"/><circle cx="579.0" cy="93.8" r="4.64"/><circle cx="589.0" cy="93.8" r="4.64"/><circle cx="600.8" cy="97.0" r="4.64"/><circle cx="567.2" cy="97.0" r="4.64"/><circle cx="552.5" cy="109.8" r="4.64"/><circle cx="615.5" cy="109.8" r="4.64"/><circle cx="619.8" cy="118.6" r="4.64"/><circle cx="548.2" cy="118.6" r="4.64"/><circle cx="574.3" cy="98.5" r="4.64"/><circle cx="593.7" cy="98.5" r="4.64"/><circle cx="562.5" cy="103.6" r="4.64"/><circle cx="605.5" cy="103.6" r="4.64"/><circle cx="584.0" cy="99.0" r="4.64"/><circle cx="609.9" cy="111.4" r="4.64"/><circle cx="558.1" cy="111.4" r="4.64"/><circle cx="598.0" cy="104.9" r="4.64"/><circle cx="570.0" cy="104.9" r="4.64"/><circle cx="614.0" cy="120.2" r="4.64"/><circle cx="554.0" cy="120.2" r="4.64"/><circle cx="588.9" cy="105.6" r="4.64"/><circle cx="579.1" cy="105.6" r="4.64"/><circle cx="602.4" cy="112.7" r="4.64"/><circle cx="565.6" cy="112.7" r="4.64"/><circle cx="561.3" cy="121.4" r="4.64"/><circle cx="606.7" cy="121.4" r="4.64"/><circle cx="574.4" cy="113.5" r="4.64"/><circle cx="593.6" cy="113.5" r="4.64"/><circle cx="584.0" cy="113.7" r="4.64"/><circle cx="569.9" cy="122.3" r="4.64"/><circle cx="598.1" cy="122.3" r="4.64"/><circle cx="588.8" cy="122.8" r="4.64"/><circle cx="579.2" cy="122.8" r="4.64"/></g></g><rect x="566" y="23.3" width="35.60000000000002" height="24.9" fill="none" stroke="#f5141c" stroke-width="1.1" stroke-dasharray="2.8,1.2"/><rect x="552.6" y="80.5" width="62.799999999999955" height="39.5" fill="none" stroke="#f5141c" stroke-width="1.1" stroke-dasharray="2.8,1.2"/><line x1="566" y1="48.2" x2="552.6" y2="80.5" stroke="#f5141c" stroke-width="1.1" stroke-dasharray="2.8,1.2"/><line x1="601.6" y1="48.2" x2="615.4" y2="80.5" stroke="#f5141c" stroke-width="1.1" stroke-dasharray="2.8,1.2"/><circle cx="649.6" cy="52" r="21.24" fill="url(#gcore)"/><g fill="url(#gb5)" stroke="url(#gh5)" stroke-width="0.95"><circle cx="627.6" cy="58.8" r="2.38"/><circle cx="671.6" cy="58.8" r="2.38"/><circle cx="633.4" cy="35.6" r="2.38"/><circle cx="665.8" cy="35.6" r="2.38"/><circle cx="653.8" cy="74.7" r="2.38"/><circle cx="645.4" cy="74.7" r="2.38"/><circle cx="632.4" cy="67.4" r="2.38"/><circle cx="666.8" cy="67.4" r="2.38"/><circle cx="640.5" cy="73.2" r="2.38"/><circle cx="658.7" cy="73.2" r="2.38"/><circle cx="627.8" cy="44.2" r="2.38"/><circle cx="671.4" cy="44.2" r="2.38"/><circle cx="636.2" cy="70.9" r="2.38"/><circle cx="663.0" cy="70.9" r="2.38"/><circle cx="629.8" cy="39.9" r="2.38"/><circle cx="669.4" cy="39.9" r="2.38"/><circle cx="636.8" cy="32.7" r="2.38"/><circle cx="662.4" cy="32.7" r="2.38"/><circle cx="641.4" cy="30.3" r="2.38"/><circle cx="657.8" cy="30.3" r="2.38"/><circle cx="649.6" cy="75.2" r="2.38"/><circle cx="626.5" cy="49.6" r="2.38"/><circle cx="672.7" cy="49.6" r="2.38"/><circle cx="647.2" cy="28.9" r="2.38"/><circle cx="652.0" cy="28.9" r="2.38"/><circle cx="669.4" cy="64.1" r="2.38"/><circle cx="629.8" cy="64.1" r="2.38"/><circle cx="626.7" cy="54.9" r="2.38"/><circle cx="672.5" cy="54.9" r="2.38"/><circle cx="627.8" cy="59.8" r="2.38"/><circle cx="671.4" cy="59.8" r="2.38"/><circle cx="666.8" cy="36.6" r="2.38"/><circle cx="632.4" cy="36.6" r="2.38"/><circle cx="642.9" cy="74.1" r="2.38"/><circle cx="656.3" cy="74.1" r="2.38"/><circle cx="633.4" cy="68.4" r="2.38"/><circle cx="665.8" cy="68.4" r="2.38"/><circle cx="627.6" cy="45.2" r="2.38"/><circle cx="671.6" cy="45.2" r="2.38"/><circle cx="637.8" cy="71.8" r="2.38"/><circle cx="661.4" cy="71.8" r="2.38"/><circle cx="629.5" cy="40.9" r="2.38"/><circle cx="669.7" cy="40.9" r="2.38"/><circle cx="636.0" cy="33.6" r="2.38"/><circle cx="663.2" cy="33.6" r="2.38"/><circle cx="640.2" cy="31.3" r="2.38"/><circle cx="659.0" cy="31.3" r="2.38"/><circle cx="647.2" cy="74.6" r="2.38"/><circle cx="652.0" cy="74.6" r="2.38"/><circle cx="644.8" cy="29.8" r="2.38"/><circle cx="654.4" cy="29.8" r="2.38"/><circle cx="649.6" cy="29.3" r="2.38"/><circle cx="672.2" cy="50.6" r="2.38"/><circle cx="627.0" cy="50.6" r="2.38"/><circle cx="631.2" cy="65.0" r="2.38"/><circle cx="668.0" cy="65.0" r="2.38"/><circle cx="640.8" cy="72.5" r="2.38"/><circle cx="658.4" cy="72.5" r="2.38"/><circle cx="627.7" cy="55.9" r="2.38"/><circle cx="671.5" cy="55.9" r="2.38"/><circle cx="635.5" cy="69.3" r="2.38"/><circle cx="663.7" cy="69.3" r="2.38"/><circle cx="629.1" cy="60.7" r="2.38"/><circle cx="670.1" cy="60.7" r="2.38"/><circle cx="632.7" cy="37.5" r="2.38"/><circle cx="666.5" cy="37.5" r="2.38"/><circle cx="628.3" cy="46.2" r="2.38"/><circle cx="670.9" cy="46.2" r="2.38"/><circle cx="668.8" cy="41.9" r="2.38"/><circle cx="630.4" cy="41.9" r="2.38"/><circle cx="662.4" cy="34.6" r="2.38"/><circle cx="636.8" cy="34.6" r="2.38"/><circle cx="654.3" cy="73.0" r="2.38"/><circle cx="644.9" cy="73.0" r="2.38"/><circle cx="647.2" cy="30.7" r="2.38"/><circle cx="652.0" cy="30.7" r="2.38"/><circle cx="657.8" cy="32.2" r="2.38"/><circle cx="641.4" cy="32.2" r="2.38"/><circle cx="633.5" cy="65.8" r="2.38"/><circle cx="665.7" cy="65.8" r="2.38"/><circle cx="649.6" cy="73.2" r="2.38"/><circle cx="628.5" cy="51.6" r="2.38"/><circle cx="670.7" cy="51.6" r="2.38"/><circle cx="638.7" cy="70.0" r="2.38"/><circle cx="660.5" cy="70.0" r="2.38"/><circle cx="631.3" cy="61.6" r="2.38"/><circle cx="667.9" cy="61.6" r="2.38"/><circle cx="669.6" cy="56.8" r="2.38"/><circle cx="629.6" cy="56.8" r="2.38"/><circle cx="634.3" cy="38.5" r="2.38"/><circle cx="664.9" cy="38.5" r="2.38"/><circle cx="669.1" cy="47.1" r="2.38"/><circle cx="630.1" cy="47.1" r="2.38"/><circle cx="667.0" cy="42.7" r="2.38"/><circle cx="632.2" cy="42.7" r="2.38"/><circle cx="642.7" cy="70.5" r="2.38"/><circle cx="656.5" cy="70.5" r="2.38"/><circle cx="644.9" cy="33.0" r="2.38"/><circle cx="654.3" cy="33.0" r="2.38"/><circle cx="639.2" cy="35.5" r="2.38"/><circle cx="660.0" cy="35.5" r="2.38"/><circle cx="636.7" cy="66.5" r="2.38"/><circle cx="662.5" cy="66.5" r="2.38"/><circle cx="651.9" cy="70.7" r="2.38"/><circle cx="647.3" cy="70.7" r="2.38"/><circle cx="649.6" cy="33.2" r="2.38"/><circle cx="630.9" cy="52.4" r="2.38"/><circle cx="668.3" cy="52.4" r="2.38"/><circle cx="664.8" cy="62.3" r="2.38"/><circle cx="634.4" cy="62.3" r="2.38"/><circle cx="666.7" cy="57.6" r="2.38"/><circle cx="632.5" cy="57.6" r="2.38"/><circle cx="662.2" cy="39.3" r="2.38"/><circle cx="637.0" cy="39.3" r="2.38"/><circle cx="658.6" cy="67.1" r="2.38"/><circle cx="640.6" cy="67.1" r="2.38"/><circle cx="656.4" cy="36.1" r="2.38"/><circle cx="642.8" cy="36.1" r="2.38"/><circle cx="666.4" cy="48.0" r="2.38"/><circle cx="632.8" cy="48.0" r="2.38"/><circle cx="664.2" cy="43.5" r="2.38"/><circle cx="635.0" cy="43.5" r="2.38"/><circle cx="654.2" cy="67.4" r="2.38"/><circle cx="645.0" cy="67.4" r="2.38"/><circle cx="661.0" cy="62.9" r="2.38"/><circle cx="638.2" cy="62.9" r="2.38"/><circle cx="652.0" cy="36.4" r="2.38"/><circle cx="647.2" cy="36.4" r="2.38"/><circle cx="649.6" cy="67.5" r="2.38"/><circle cx="665.0" cy="53.2" r="2.38"/><circle cx="634.2" cy="53.2" r="2.38"/><circle cx="658.6" cy="39.9" r="2.38"/><circle cx="640.6" cy="39.9" r="2.38"/><circle cx="636.0" cy="58.3" r="2.38"/><circle cx="663.2" cy="58.3" r="2.38"/><circle cx="663.0" cy="48.6" r="2.38"/><circle cx="636.2" cy="48.6" r="2.38"/><circle cx="638.6" cy="44.1" r="2.38"/><circle cx="660.6" cy="44.1" r="2.38"/><circle cx="656.6" cy="63.4" r="2.38"/><circle cx="642.6" cy="63.4" r="2.38"/><circle cx="644.9" cy="40.3" r="2.38"/><circle cx="654.3" cy="40.3" r="2.38"/><circle cx="647.2" cy="63.6" r="2.38"/><circle cx="652.0" cy="63.6" r="2.38"/><circle cx="661.1" cy="53.8" r="2.38"/><circle cx="638.1" cy="53.8" r="2.38"/><circle cx="649.6" cy="40.4" r="2.38"/><circle cx="659.0" cy="58.8" r="2.38"/><circle cx="640.2" cy="58.8" r="2.38"/><circle cx="642.7" cy="44.6" r="2.38"/><circle cx="656.5" cy="44.6" r="2.38"/><circle cx="640.3" cy="49.2" r="2.38"/><circle cx="658.9" cy="49.2" r="2.38"/><circle cx="654.4" cy="59.1" r="2.38"/><circle cx="644.8" cy="59.1" r="2.38"/><circle cx="651.9" cy="44.8" r="2.38"/><circle cx="647.3" cy="44.8" r="2.38"/><circle cx="656.7" cy="54.2" r="2.38"/><circle cx="642.5" cy="54.2" r="2.38"/><circle cx="649.6" cy="59.2" r="2.38"/><circle cx="654.3" cy="49.5" r="2.38"/><circle cx="644.9" cy="49.5" r="2.38"/><circle cx="652.0" cy="54.4" r="2.38"/><circle cx="647.2" cy="54.4" r="2.38"/><circle cx="649.6" cy="49.6" r="2.38"/></g><circle cx="649.6" cy="52" r="26.4" fill="url(#gshade)"/><text x="649.40" y="18.40" font-size="8.1" text-anchor="middle" font-weight="bold" font-style="normal" fill="#111" >G<tspan dy="1.2" font-size="4.8">Au</tspan><tspan dy="-1.2" font-size="1">&#8203;</tspan> = 1 nm</text><g clip-path="url(#clipb5)"><circle cx="649.3" cy="138.0" r="44.6" fill="#000066"/><g fill="url(#gb5)" stroke="url(#gh5)" stroke-width="2.00"><circle cx="615.2" cy="103.6" r="5.00"/><circle cx="683.4" cy="103.6" r="5.00"/><circle cx="622.4" cy="97.4" r="5.00"/><circle cx="676.2" cy="97.4" r="5.00"/><circle cx="632.1" cy="92.4" r="5.00"/><circle cx="666.5" cy="92.4" r="5.00"/><circle cx="644.2" cy="89.6" r="5.00"/><circle cx="654.4" cy="89.6" r="5.00"/><circle cx="685.4" cy="105.6" r="5.00"/><circle cx="613.2" cy="105.6" r="5.00"/><circle cx="620.7" cy="99.5" r="5.00"/><circle cx="677.9" cy="99.5" r="5.00"/><circle cx="629.5" cy="94.5" r="5.00"/><circle cx="669.1" cy="94.5" r="5.00"/><circle cx="639.2" cy="91.4" r="5.00"/><circle cx="659.4" cy="91.4" r="5.00"/><circle cx="649.3" cy="90.4" r="5.00"/><circle cx="613.9" cy="107.7" r="5.00"/><circle cx="684.7" cy="107.7" r="5.00"/><circle cx="676.2" cy="101.5" r="5.00"/><circle cx="622.4" cy="101.5" r="5.00"/><circle cx="644.2" cy="93.2" r="5.00"/><circle cx="654.4" cy="93.2" r="5.00"/><circle cx="666.5" cy="96.5" r="5.00"/><circle cx="632.1" cy="96.5" r="5.00"/><circle cx="617.2" cy="109.6" r="5.00"/><circle cx="681.4" cy="109.6" r="5.00"/><circle cx="685.8" cy="118.6" r="5.00"/><circle cx="612.8" cy="118.6" r="5.00"/><circle cx="639.4" cy="98.0" r="5.00"/><circle cx="659.2" cy="98.0" r="5.00"/><circle cx="627.4" cy="103.3" r="5.00"/><circle cx="671.2" cy="103.3" r="5.00"/><circle cx="649.3" cy="98.6" r="5.00"/><circle cx="675.8" cy="111.3" r="5.00"/><circle cx="622.8" cy="111.3" r="5.00"/><circle cx="663.6" cy="104.6" r="5.00"/><circle cx="635.0" cy="104.6" r="5.00"/><circle cx="680.0" cy="120.2" r="5.00"/><circle cx="618.6" cy="120.2" r="5.00"/><circle cx="654.3" cy="105.3" r="5.00"/><circle cx="644.3" cy="105.3" r="5.00"/><circle cx="668.1" cy="112.6" r="5.00"/><circle cx="630.5" cy="112.6" r="5.00"/><circle cx="626.1" cy="121.5" r="5.00"/><circle cx="672.5" cy="121.5" r="5.00"/><circle cx="639.5" cy="113.4" r="5.00"/><circle cx="659.1" cy="113.4" r="5.00"/><circle cx="649.3" cy="113.7" r="5.00"/><circle cx="634.9" cy="122.4" r="5.00"/><circle cx="663.7" cy="122.4" r="5.00"/><circle cx="654.2" cy="122.9" r="5.00"/><circle cx="644.4" cy="122.9" r="5.00"/></g></g><rect x="631.4" y="23.3" width="35.60000000000002" height="24.9" fill="none" stroke="#f5141c" stroke-width="1.1" stroke-dasharray="2.8,1.2"/><rect x="618" y="80.5" width="62.60000000000002" height="39.5" fill="none" stroke="#f5141c" stroke-width="1.1" stroke-dasharray="2.8,1.2"/><line x1="631.4" y1="48.2" x2="618" y2="80.5" stroke="#f5141c" stroke-width="1.1" stroke-dasharray="2.8,1.2"/><line x1="667" y1="48.2" x2="680.6" y2="80.5" stroke="#f5141c" stroke-width="1.1" stroke-dasharray="2.8,1.2"/><line x1="299.2" y1="78" x2="299.2" y2="73.6" stroke="#8fa0ff" stroke-width="0.5"/><line x1="295.8" y1="78" x2="303" y2="78" stroke="#9adf9a" stroke-width="0.5"/><rect x="293.1" y="122.1" width="387.7" height="6.3" fill="url(#jeth)" stroke="#222" stroke-width="0.4"/><text x="293.50" y="139.20" font-size="9.6" text-anchor="start" font-weight="normal" font-style="normal" fill="#111" >0</text><text x="680.70" y="139.20" font-size="9.7" text-anchor="end" font-weight="normal" font-style="normal" fill="#111" >2.5</text><text x="496.30" y="142.10" font-size="9.2" text-anchor="middle" font-weight="normal" font-style="normal" fill="#111" >ln(E/E<tspan dy="1.7" font-size="6">0</tspan><tspan dy="-1.7" font-size="1">&#8203;</tspan>)</text><text x="282.80" y="10.60" font-size="14" text-anchor="start" font-weight="bold" font-style="normal" fill="#000" >b</text><g clip-path="url(#cd1_0)"><rect x="225" y="155" width="40" height="39.5" fill="#0202cc"/><ellipse cx="245" cy="174.9" rx="11.6" ry="8.1" fill="#0838fc" opacity="0.7" filter="url(#dbl2)"/><ellipse cx="245" cy="165.3" rx="3" ry="2.5" fill="#0000a4" opacity="0.5" filter="url(#dbl12)"/><ellipse cx="245" cy="184.5" rx="3" ry="2.5" fill="#0000a4" opacity="0.5" filter="url(#dbl12)"/><circle cx="245" cy="174.9" r="7.1" fill="#0000c2"/><path d="M240.63,169.31 A7.1,7.1 0 0 0 240.63,180.49" fill="none" stroke="#3498ff" stroke-width="1.1" filter="url(#dbl05)"/><path d="M249.37,169.31 A7.1,7.1 0 0 1 249.37,180.49" fill="none" stroke="#3498ff" stroke-width="1.1" filter="url(#dbl05)"/></g><g clip-path="url(#cd1_1)"><rect x="267" y="155" width="40" height="39.5" fill="#0202cc"/><ellipse cx="287" cy="174.9" rx="12.4" ry="8.9" fill="#0838fc" opacity="0.7" filter="url(#dbl2)"/><ellipse cx="287" cy="164.5" rx="3" ry="2.5" fill="#0000a4" opacity="0.5" filter="url(#dbl12)"/><ellipse cx="287" cy="185.3" rx="3" ry="2.5" fill="#0000a4" opacity="0.5" filter="url(#dbl12)"/><circle cx="287" cy="174.9" r="7.9" fill="#0000c2"/><path d="M282.14,168.67 A7.9,7.9 0 0 0 282.14,181.13" fill="none" stroke="#3498ff" stroke-width="1.1" filter="url(#dbl05)"/><path d="M291.86,168.67 A7.9,7.9 0 0 1 291.86,181.13" fill="none" stroke="#3498ff" stroke-width="1.1" filter="url(#dbl05)"/></g><g clip-path="url(#cd1_2)"><rect x="309" y="155" width="40" height="39.5" fill="#0202cc"/><ellipse cx="317.6" cy="174.9" rx="8.200000000000001" ry="9.0" fill="#0848fc" opacity="0.8" filter="url(#dbl2)"/><ellipse cx="340.4" cy="174.9" rx="8.200000000000001" ry="9.0" fill="#0848fc" opacity="0.8" filter="url(#dbl2)"/><rect x="310.40" y="166.90" width="14.40" height="16" fill="url(#hs3)" filter="url(#dbl08)"/><rect x="333.20" y="166.90" width="14.40" height="16" fill="url(#hs3)" filter="url(#dbl08)"/><g filter="url(#dbl08)"><circle cx="306.2" cy="174.9" r="8.2" fill="#0000c2"/><circle cx="329.0" cy="174.9" r="8.2" fill="#0000c2"/><circle cx="351.8" cy="174.9" r="8.2" fill="#0000c2"/></g><circle cx="306.2" cy="174.9" r="7.699999999999999" fill="#0000c2"/><circle cx="329.0" cy="174.9" r="7.699999999999999" fill="#0000c2"/><circle cx="351.8" cy="174.9" r="7.699999999999999" fill="#0000c2"/><ellipse cx="329" cy="163.70000000000002" rx="4" ry="2.5" fill="#0000a4" opacity="0.5" filter="url(#dbl12)"/><ellipse cx="329" cy="186.1" rx="4" ry="2.5" fill="#0000a4" opacity="0.5" filter="url(#dbl12)"/></g><g clip-path="url(#cd1_3)"><rect x="351" y="155" width="40" height="39.5" fill="#0202cc"/><ellipse cx="359.3" cy="174.9" rx="8.1" ry="10.5" fill="#0860fc" opacity="0.8" filter="url(#dbl2)"/><ellipse cx="382.7" cy="174.9" rx="8.1" ry="10.5" fill="#0860fc" opacity="0.8" filter="url(#dbl2)"/><rect x="352.20" y="165.40" width="14.20" height="19" fill="url(#hs4)" filter="url(#dbl08)"/><rect x="375.60" y="165.40" width="14.20" height="19" fill="url(#hs4)" filter="url(#dbl08)"/><g filter="url(#dbl08)"><circle cx="347.6" cy="174.9" r="8.6" fill="#0000c2"/><circle cx="371.0" cy="174.9" r="8.6" fill="#0000c2"/><circle cx="394.4" cy="174.9" r="8.6" fill="#0000c2"/></g><circle cx="347.6" cy="174.9" r="8.1" fill="#0000c2"/><circle cx="371.0" cy="174.9" r="8.1" fill="#0000c2"/><circle cx="394.4" cy="174.9" r="8.1" fill="#0000c2"/><ellipse cx="371" cy="163.3" rx="4" ry="2.5" fill="#0000a4" opacity="0.5" filter="url(#dbl12)"/><ellipse cx="371" cy="186.5" rx="4" ry="2.5" fill="#0000a4" opacity="0.5" filter="url(#dbl12)"/></g><g clip-path="url(#cd1_4)"><rect x="393" y="155" width="40" height="39.5" fill="#0202cc"/><ellipse cx="402.5" cy="174.9" rx="6.5" ry="12.5" fill="#0858fc" opacity="0.8" filter="url(#dbl2)"/><ellipse cx="423.5" cy="174.9" rx="6.5" ry="12.5" fill="#0858fc" opacity="0.8" filter="url(#dbl2)"/><rect x="399.20" y="163.40" width="6.60" height="23" fill="url(#hs5)" filter="url(#dbl08)"/><rect x="420.20" y="163.40" width="6.60" height="23" fill="url(#hs5)" filter="url(#dbl08)"/><ellipse cx="402.5" cy="166.60" rx="5.2" ry="1.7" fill="#18d0ff" opacity="0.85" filter="url(#dbl08)"/><ellipse cx="402.5" cy="168.40" rx="3.6" ry="1.4" fill="#f0e020" opacity="0.9" filter="url(#dbl08)"/><ellipse cx="402.5" cy="183.20" rx="5.2" ry="1.7" fill="#18d0ff" opacity="0.85" filter="url(#dbl08)"/><ellipse cx="402.5" cy="181.40" rx="3.6" ry="1.4" fill="#f0e020" opacity="0.9" filter="url(#dbl08)"/><ellipse cx="423.5" cy="166.60" rx="5.2" ry="1.7" fill="#18d0ff" opacity="0.85" filter="url(#dbl08)"/><ellipse cx="423.5" cy="168.40" rx="3.6" ry="1.4" fill="#f0e020" opacity="0.9" filter="url(#dbl08)"/><ellipse cx="423.5" cy="183.20" rx="5.2" ry="1.7" fill="#18d0ff" opacity="0.85" filter="url(#dbl08)"/><ellipse cx="423.5" cy="181.40" rx="3.6" ry="1.4" fill="#f0e020" opacity="0.9" filter="url(#dbl08)"/><g filter="url(#dbl08)"><circle cx="392.0" cy="174.9" r="9.0" fill="#0000c2"/><circle cx="413.0" cy="174.9" r="9.0" fill="#0000c2"/><circle cx="434.0" cy="174.9" r="9.0" fill="#0000c2"/></g><circle cx="392.0" cy="174.9" r="8.5" fill="#0000c2"/><circle cx="413.0" cy="174.9" r="8.5" fill="#0000c2"/><circle cx="434.0" cy="174.9" r="8.5" fill="#0000c2"/><ellipse cx="413" cy="162.9" rx="4" ry="2.5" fill="#0000a4" opacity="0.5" filter="url(#dbl12)"/><ellipse cx="413" cy="186.9" rx="4" ry="2.5" fill="#0000a4" opacity="0.5" filter="url(#dbl12)"/></g><g clip-path="url(#cd1_5)"><rect x="435" y="155" width="40" height="39.5" fill="#0202cc"/><ellipse cx="444.25" cy="174.9" rx="5.85" ry="10.5" fill="#0850fc" opacity="0.8" filter="url(#dbl2)"/><ellipse cx="465.75" cy="174.9" rx="5.85" ry="10.5" fill="#0850fc" opacity="0.8" filter="url(#dbl2)"/><rect x="441.60" y="165.40" width="5.30" height="19" fill="url(#hs6)" filter="url(#dbl08)"/><rect x="463.10" y="165.40" width="5.30" height="19" fill="url(#hs6)" filter="url(#dbl08)"/><ellipse cx="444.25" cy="168.60" rx="5.2" ry="1.7" fill="#18d0ff" opacity="0.85" filter="url(#dbl08)"/><ellipse cx="444.25" cy="170.40" rx="3.6" ry="1.4" fill="#f0e020" opacity="0.9" filter="url(#dbl08)"/><ellipse cx="444.25" cy="181.20" rx="5.2" ry="1.7" fill="#18d0ff" opacity="0.85" filter="url(#dbl08)"/><ellipse cx="444.25" cy="179.40" rx="3.6" ry="1.4" fill="#f0e020" opacity="0.9" filter="url(#dbl08)"/><ellipse cx="465.75" cy="168.60" rx="5.2" ry="1.7" fill="#18d0ff" opacity="0.85" filter="url(#dbl08)"/><ellipse cx="465.75" cy="170.40" rx="3.6" ry="1.4" fill="#f0e020" opacity="0.9" filter="url(#dbl08)"/><ellipse cx="465.75" cy="181.20" rx="5.2" ry="1.7" fill="#18d0ff" opacity="0.85" filter="url(#dbl08)"/><ellipse cx="465.75" cy="179.40" rx="3.6" ry="1.4" fill="#f0e020" opacity="0.9" filter="url(#dbl08)"/><g filter="url(#dbl08)"><circle cx="433.5" cy="174.9" r="9.9" fill="#0000c2"/><circle cx="455.0" cy="174.9" r="9.9" fill="#0000c2"/><circle cx="476.5" cy="174.9" r="9.9" fill="#0000c2"/></g><circle cx="433.5" cy="174.9" r="9.4" fill="#0000c2"/><circle cx="455.0" cy="174.9" r="9.4" fill="#0000c2"/><circle cx="476.5" cy="174.9" r="9.4" fill="#0000c2"/><ellipse cx="455" cy="162.0" rx="4" ry="2.5" fill="#0000a4" opacity="0.5" filter="url(#dbl12)"/><ellipse cx="455" cy="187.8" rx="4" ry="2.5" fill="#0000a4" opacity="0.5" filter="url(#dbl12)"/></g><g clip-path="url(#cd2_0)"><rect x="225" y="228" width="40" height="39.5" fill="#0202cc"/><ellipse cx="245.3" cy="254" rx="11.0" ry="7.0" fill="#0838fc" opacity="0.75" filter="url(#dbl2)"/><ellipse cx="245.3" cy="244.5" rx="3.5" ry="3" fill="#0000a0" opacity="0.6" filter="url(#dbl12)"/><ellipse cx="245.3" cy="263.5" rx="3.5" ry="3" fill="#0000a0" opacity="0.6" filter="url(#dbl12)"/><circle cx="245.3" cy="254" r="6.5" fill="#0000c2"/><path d="M241.57,248.68 A6.5,6.5 0 0 0 241.57,259.32" fill="none" stroke="#3498ff" stroke-width="1.1" filter="url(#dbl05)"/><path d="M249.03,248.68 A6.5,6.5 0 0 1 249.03,259.32" fill="none" stroke="#3498ff" stroke-width="1.1" filter="url(#dbl05)"/></g><g clip-path="url(#cd2_1)"><rect x="267" y="228" width="40" height="39.5" fill="#0202cc"/><ellipse cx="287.3" cy="252.7" rx="12.35" ry="8.35" fill="#0838fc" opacity="0.75" filter="url(#dbl2)"/><ellipse cx="287.3" cy="241.85" rx="3.5" ry="3" fill="#0000a0" opacity="0.6" filter="url(#dbl12)"/><ellipse cx="287.3" cy="263.55" rx="3.5" ry="3" fill="#0000a0" opacity="0.6" filter="url(#dbl12)"/><circle cx="287.3" cy="252.7" r="7.85" fill="#0000c2"/><path d="M282.80,246.27 A7.85,7.85 0 0 0 282.80,259.13" fill="none" stroke="#3498ff" stroke-width="1.1" filter="url(#dbl05)"/><path d="M291.80,246.27 A7.85,7.85 0 0 1 291.80,259.13" fill="none" stroke="#3498ff" stroke-width="1.1" filter="url(#dbl05)"/></g><g clip-path="url(#cd2_2)"><rect x="309" y="228" width="40" height="39.5" fill="#0202cc"/><ellipse cx="329.3" cy="251.2" rx="14.2" ry="10.2" fill="#0838fc" opacity="0.75" filter="url(#dbl2)"/><ellipse cx="329.3" cy="238.5" rx="3.5" ry="3" fill="#0000a0" opacity="0.6" filter="url(#dbl12)"/><ellipse cx="329.3" cy="263.9" rx="3.5" ry="3" fill="#0000a0" opacity="0.6" filter="url(#dbl12)"/><circle cx="329.3" cy="251.2" r="9.7" fill="#0000c2"/><path d="M323.74,243.25 A9.7,9.7 0 0 0 323.74,259.15" fill="none" stroke="#3498ff" stroke-width="1.1" filter="url(#dbl05)"/><path d="M334.86,243.25 A9.7,9.7 0 0 1 334.86,259.15" fill="none" stroke="#3498ff" stroke-width="1.1" filter="url(#dbl05)"/></g><g clip-path="url(#cd2_3)"><rect x="351" y="228" width="40" height="39.5" fill="#0202cc"/><ellipse cx="371.3" cy="249.3" rx="15.2" ry="11.2" fill="#0838fc" opacity="0.75" filter="url(#dbl2)"/><ellipse cx="371.3" cy="235.60000000000002" rx="3.5" ry="3" fill="#0000a0" opacity="0.6" filter="url(#dbl12)"/><ellipse cx="371.3" cy="263.0" rx="3.5" ry="3" fill="#0000a0" opacity="0.6" filter="url(#dbl12)"/><circle cx="371.3" cy="249.3" r="10.7" fill="#0000c2"/><path d="M365.16,240.54 A10.7,10.7 0 0 0 365.16,258.06" fill="none" stroke="#3498ff" stroke-width="1.1" filter="url(#dbl05)"/><path d="M377.44,240.54 A10.7,10.7 0 0 1 377.44,258.06" fill="none" stroke="#3498ff" stroke-width="1.1" filter="url(#dbl05)"/></g><g clip-path="url(#cd2_4)"><rect x="393" y="228" width="40" height="39.5" fill="#0202cc"/><ellipse cx="413.3" cy="248.4" rx="16.6" ry="12.6" fill="#0838fc" opacity="0.75" filter="url(#dbl2)"/><ellipse cx="413.3" cy="233.3" rx="3.5" ry="3" fill="#0000a0" opacity="0.6" filter="url(#dbl12)"/><ellipse cx="413.3" cy="263.5" rx="3.5" ry="3" fill="#0000a0" opacity="0.6" filter="url(#dbl12)"/><circle cx="413.3" cy="248.4" r="12.1" fill="#0000c2"/><path d="M406.36,238.49 A12.1,12.1 0 0 0 406.36,258.31" fill="none" stroke="#3498ff" stroke-width="1.1" filter="url(#dbl05)"/><path d="M420.24,238.49 A12.1,12.1 0 0 1 420.24,258.31" fill="none" stroke="#3498ff" stroke-width="1.1" filter="url(#dbl05)"/></g><g clip-path="url(#cd2_5)"><rect x="435" y="228" width="40" height="39.5" fill="#0202cc"/><ellipse cx="455.3" cy="247.4" rx="18.0" ry="14.0" fill="#0838fc" opacity="0.75" filter="url(#dbl2)"/><ellipse cx="455.3" cy="230.9" rx="3.5" ry="3" fill="#0000a0" opacity="0.6" filter="url(#dbl12)"/><ellipse cx="455.3" cy="263.9" rx="3.5" ry="3" fill="#0000a0" opacity="0.6" filter="url(#dbl12)"/><circle cx="455.3" cy="247.4" r="13.5" fill="#0000c2"/><path d="M447.56,236.34 A13.5,13.5 0 0 0 447.56,258.46" fill="none" stroke="#3498ff" stroke-width="1.1" filter="url(#dbl05)"/><path d="M463.04,236.34 A13.5,13.5 0 0 1 463.04,258.46" fill="none" stroke="#3498ff" stroke-width="1.1" filter="url(#dbl05)"/></g><line x1="225" y1="198.75" x2="471" y2="198.75" stroke="#111" stroke-width="1.1"/><path d="M470,196.15 L476,198.75 L470,201.35 Z" fill="#111"/><line x1="225" y1="271.75" x2="471" y2="271.75" stroke="#111" stroke-width="1.1"/><path d="M470,269.15 L476,271.75 L470,274.35 Z" fill="#111"/><text x="225.60" y="150.60" font-size="9.5" text-anchor="start" font-weight="bold" font-style="normal" fill="#111" >Assembled structure</text><text x="225.60" y="223.80" font-size="9.5" text-anchor="start" font-weight="bold" font-style="normal" fill="#111" >Single AuNP</text><text x="225.6" y="208.8" font-size="8.3" fill="#111"><tspan fill="#f5141c">Nanogap closed</tspan> &amp; AuNP diameter increased</text><text x="226.30" y="282.80" font-size="8.3" text-anchor="start" font-weight="normal" font-style="normal" fill="#111" >AuNP diameter increased</text><rect x="482.7" y="154.8" width="5.6" height="108.8" fill="url(#jetv)" stroke="#333" stroke-width="0.4"/><text x="485.60" y="152.70" font-size="6.5" text-anchor="middle" font-weight="normal" font-style="normal" fill="#111" >4</text><text x="485.60" y="272.50" font-size="6.5" text-anchor="middle" font-weight="normal" font-style="normal" fill="#111" >0</text><text transform="translate(495.0,211.7) rotate(90)" font-size="8.35" text-anchor="middle" fill="#111">Electric field norm [x 10<tspan dy="-2.6" font-size="4.8">5</tspan><tspan dy="2.6" font-size="1">&#8203;</tspan> V m<tspan dy="-2.6" font-size="4.8">-1</tspan><tspan dy="2.6" font-size="1">&#8203;</tspan>]</text><text x="200.30" y="158.00" font-size="14" text-anchor="start" font-weight="bold" font-style="normal" fill="#000" >d</text><g filter="url(#fbl)"><circle cx="68.2" cy="352.2" r="40.75" fill="#4f84a8"/><g fill="url(#gf)"><circle cx="98.1" cy="325.2" r="4.75"/><circle cx="81.6" cy="390.3" r="4.75"/><circle cx="33.0" cy="332.4" r="4.75"/><circle cx="32.9" cy="371.9" r="4.75"/><circle cx="106.8" cy="340.0" r="4.75"/><circle cx="91.4" cy="319.0" r="4.75"/><circle cx="28.6" cy="361.2" r="4.75"/><circle cx="108.6" cy="348.1" r="4.75"/><circle cx="46.7" cy="317.7" r="4.75"/><circle cx="67.7" cy="392.9" r="4.75"/><circle cx="65.7" cy="311.6" r="4.75"/><circle cx="27.5" cy="350.2" r="4.75"/><circle cx="57.7" cy="391.5" r="4.75"/><circle cx="108.7" cy="356.3" r="4.75"/><circle cx="40.1" cy="322.7" r="4.75"/><circle cx="37.0" cy="378.4" r="4.75"/><circle cx="54.2" cy="313.9" r="4.75"/><circle cx="29.6" cy="339.3" r="4.75"/><circle cx="91.3" cy="385.7" r="4.75"/><circle cx="107.1" cy="364.5" r="4.75"/><circle cx="83.0" cy="314.3" r="4.75"/><circle cx="42.9" cy="384.1" r="4.75"/><circle cx="50.0" cy="388.6" r="4.75"/><circle cx="103.6" cy="372.3" r="4.75"/><circle cx="98.4" cy="379.5" r="4.75"/><circle cx="34.9" cy="328.8" r="4.75"/><circle cx="30.8" cy="368.3" r="4.75"/><circle cx="98.2" cy="324.7" r="4.75"/><circle cx="74.5" cy="392.4" r="4.75"/><circle cx="75.0" cy="312.1" r="4.75"/><circle cx="103.5" cy="332.1" r="4.75"/><circle cx="83.1" cy="390.0" r="4.75"/><circle cx="106.8" cy="340.0" r="4.75"/><circle cx="90.5" cy="318.4" r="4.75"/><circle cx="28.0" cy="357.5" r="4.75"/><circle cx="61.9" cy="312.3" r="4.75"/><circle cx="62.5" cy="392.1" r="4.75"/><circle cx="28.3" cy="346.5" r="4.75"/><circle cx="108.2" cy="348.2" r="4.75"/><circle cx="35.2" cy="375.0" r="4.75"/><circle cx="45.2" cy="319.4" r="4.75"/><circle cx="31.7" cy="335.6" r="4.75"/><circle cx="53.2" cy="315.1" r="4.75"/><circle cx="90.5" cy="385.2" r="4.75"/><circle cx="107.8" cy="356.4" r="4.75"/><circle cx="68.9" cy="312.6" r="4.75"/><circle cx="39.5" cy="325.0" r="4.75"/><circle cx="55.6" cy="389.7" r="4.75"/><circle cx="30.8" cy="364.7" r="4.75"/><circle cx="41.1" cy="380.9" r="4.75"/><circle cx="105.7" cy="364.4" r="4.75"/><circle cx="70.8" cy="391.5" r="4.75"/><circle cx="95.7" cy="324.0" r="4.75"/><circle cx="78.1" cy="314.2" r="4.75"/><circle cx="96.8" cy="379.1" r="4.75"/><circle cx="102.0" cy="372.0" r="4.75"/><circle cx="80.7" cy="389.3" r="4.75"/><circle cx="48.2" cy="385.8" r="4.75"/><circle cx="101.5" cy="331.6" r="4.75"/><circle cx="85.8" cy="317.4" r="4.75"/><circle cx="29.3" cy="353.9" r="4.75"/><circle cx="30.8" cy="342.7" r="4.75"/><circle cx="104.6" cy="339.7" r="4.75"/><circle cx="36.1" cy="331.5" r="4.75"/><circle cx="57.8" cy="315.8" r="4.75"/><circle cx="35.6" cy="371.4" r="4.75"/><circle cx="105.6" cy="348.0" r="4.75"/><circle cx="47.9" cy="320.6" r="4.75"/><circle cx="64.7" cy="389.6" r="4.75"/><circle cx="87.0" cy="384.4" r="4.75"/><circle cx="90.4" cy="322.6" r="4.75"/><circle cx="71.8" cy="315.4" r="4.75"/><circle cx="32.6" cy="361.0" r="4.75"/><circle cx="104.7" cy="356.2" r="4.75"/><circle cx="75.7" cy="387.9" r="4.75"/><circle cx="42.0" cy="377.4" r="4.75"/><circle cx="97.2" cy="330.6" r="4.75"/><circle cx="57.2" cy="386.6" r="4.75"/><circle cx="32.2" cy="349.9" r="4.75"/><circle cx="92.9" cy="378.4" r="4.75"/><circle cx="42.9" cy="326.7" r="4.75"/><circle cx="102.1" cy="364.1" r="4.75"/><circle cx="35.1" cy="338.4" r="4.75"/><circle cx="49.4" cy="382.5" r="4.75"/><circle cx="98.1" cy="371.6" r="4.75"/><circle cx="81.8" cy="319.8" r="4.75"/><circle cx="63.7" cy="317.4" r="4.75"/><circle cx="100.4" cy="338.9" r="4.75"/><circle cx="54.1" cy="320.4" r="4.75"/><circle cx="37.8" cy="367.6" r="4.75"/><circle cx="68.8" cy="385.8" r="4.75"/><circle cx="81.3" cy="383.1" r="4.75"/><circle cx="73.9" cy="319.4" r="4.75"/><circle cx="101.0" cy="347.3" r="4.75"/><circle cx="41.2" cy="333.4" r="4.75"/><circle cx="91.0" cy="328.6" r="4.75"/><circle cx="35.9" cy="356.9" r="4.75"/><circle cx="36.6" cy="345.4" r="4.75"/><circle cx="44.7" cy="373.5" r="4.75"/><circle cx="99.6" cy="355.5" r="4.75"/><circle cx="60.8" cy="382.7" r="4.75"/><circle cx="49.5" cy="327.1" r="4.75"/><circle cx="86.9" cy="377.2" r="4.75"/><circle cx="83.3" cy="325.3" r="4.75"/><circle cx="52.5" cy="378.6" r="4.75"/><circle cx="96.5" cy="363.3" r="4.75"/><circle cx="92.2" cy="370.6" r="4.75"/><circle cx="94.4" cy="337.4" r="4.75"/><circle cx="64.9" cy="322.3" r="4.75"/><circle cx="73.9" cy="381.0" r="4.75"/><circle cx="41.5" cy="363.4" r="4.75"/><circle cx="57.5" cy="325.8" r="4.75"/><circle cx="42.4" cy="340.2" r="4.75"/><circle cx="40.5" cy="352.2" r="4.75"/><circle cx="73.2" cy="325.2" r="4.75"/><circle cx="94.7" cy="345.9" r="4.75"/><circle cx="49.3" cy="333.9" r="4.75"/><circle cx="65.6" cy="378.0" r="4.75"/><circle cx="87.4" cy="334.8" r="4.75"/><circle cx="48.7" cy="369.1" r="4.75"/><circle cx="79.4" cy="375.3" r="4.75"/><circle cx="92.9" cy="354.1" r="4.75"/><circle cx="57.0" cy="374.1" r="4.75"/><circle cx="80.0" cy="330.9" r="4.75"/><circle cx="84.7" cy="368.9" r="4.75"/><circle cx="89.4" cy="361.8" r="4.75"/><circle cx="46.0" cy="346.8" r="4.75"/><circle cx="46.3" cy="358.5" r="4.75"/><circle cx="67.2" cy="329.8" r="4.75"/><circle cx="58.6" cy="332.8" r="4.75"/><circle cx="87.4" cy="343.6" r="4.75"/><circle cx="71.0" cy="372.6" r="4.75"/><circle cx="52.2" cy="340.5" r="4.75"/><circle cx="53.8" cy="364.1" r="4.75"/><circle cx="62.2" cy="368.8" r="4.75"/><circle cx="72.8" cy="335.6" r="4.75"/><circle cx="85.1" cy="351.8" r="4.75"/><circle cx="79.8" cy="340.2" r="4.75"/><circle cx="51.8" cy="352.9" r="4.75"/><circle cx="76.3" cy="366.3" r="4.75"/><circle cx="81.2" cy="359.4" r="4.75"/><circle cx="62.9" cy="338.9" r="4.75"/><circle cx="57.5" cy="346.5" r="4.75"/><circle cx="59.2" cy="358.3" r="4.75"/><circle cx="67.6" cy="362.8" r="4.75"/><circle cx="77.1" cy="348.5" r="4.75"/><circle cx="69.4" cy="344.2" r="4.75"/><circle cx="72.8" cy="356.1" r="4.75"/><circle cx="64.6" cy="351.7" r="4.75"/></g><circle cx="68.2" cy="352.2" r="43.9" fill="url(#gfs)"/></g><text x="69.00" y="409.70" font-size="9.5" text-anchor="middle" font-weight="normal" font-style="normal" fill="#111" >Assembled structure</text><rect x="79.5" y="352.2" width="23" height="23" fill="none" stroke="#fa1018" stroke-width="1.35" stroke-dasharray="3.2,1.4"/><line x1="102.5" y1="352.2" x2="159.2" y2="301.5" stroke="#fa1018" stroke-width="1.25" stroke-dasharray="3.2,1.4"/><line x1="102.5" y1="375.2" x2="159.2" y2="399.7" stroke="#fa1018" stroke-width="1.25" stroke-dasharray="3.2,1.4"/><g clip-path="url(#clipf)"><g filter="url(#fbl)"><rect x="159" y="301" width="100" height="99" fill="#4c80a4"/><circle cx="162.5" cy="301" r="22" fill="url(#gfz)"/><circle cx="242.5" cy="313.5" r="25" fill="url(#gfz)"/><circle cx="200" cy="303.5" r="25" fill="url(#gfz)"/><circle cx="250" cy="353.5" r="25" fill="url(#gfz)"/><circle cx="173.75" cy="337.25" r="22" fill="url(#gfz)"/><circle cx="211.25" cy="347.25" r="23.5" fill="url(#gfz)"/><circle cx="247.5" cy="395" r="22" fill="url(#gfz)"/><circle cx="176.25" cy="382" r="25" fill="url(#gfz)"/><circle cx="212.5" cy="392" r="23.5" fill="url(#gfz)"/></g><line x1="178" y1="339.7" x2="191" y2="342.7" stroke="#fa1018" stroke-width="1.2"/><path d="M188.8,339.9 L193.2,343.2 L188.0,344.5 Z" fill="#fa1018"/><line x1="210.5" y1="348" x2="198.5" y2="344.6" stroke="#fa1018" stroke-width="1.2"/><path d="M200.3,347.5 L196.2,344 L201.3,342.9 Z" fill="#fa1018"/><line x1="194.3" y1="336" x2="192.3" y2="351" stroke="#fa1018" stroke-width="1.2"/><line x1="196.7" y1="336.5" x2="194.8" y2="351.5" stroke="#fa1018" stroke-width="1.2"/></g><rect x="159.25" y="301.5" width="99" height="98.25" fill="none" stroke="#fa1018" stroke-width="1.4" stroke-dasharray="3.2,1.4"/><text x="161.20" y="297.20" font-size="11" text-anchor="start" font-weight="normal" font-style="italic" fill="#fa1018" >Nanogap controlled</text><text x="2.30" y="300.50" font-size="14" text-anchor="start" font-weight="bold" font-style="normal" fill="#000" >f</text><g clip-path="url(#gt0)"><rect x="326.1" y="296.4" width="53.8" height="52.700000000000045" fill="#b8b8b8"/><rect x="326.1" y="296.4" width="53.8" height="52.700000000000045" fill="url(#gshadeT)"/><circle cx="353.3" cy="324.3" r="19.799999999999997" fill="#969696" filter="url(#gbl)"/><g clip-path="url(#gp0)"><rect x="332.9" y="303.9" width="40.8" height="40.8" filter="url(#gs0)" opacity="0.62"/><circle cx="353.3" cy="324.3" r="19.4" fill="url(#gr0)"/><circle cx="353.3" cy="324.3" r="19.00" fill="none" stroke="#181818" stroke-width="1.2" stroke-dasharray="1.7,0.8" stroke-opacity="0.4" filter="url(#gbl)"/></g><rect x="327.9" y="345.2" width="15.8" height="1.9" fill="#fff"/><text x="327.70" y="344.20" font-size="5.7" text-anchor="start" font-weight="bold" font-style="normal" fill="#fff" >50 nm</text></g><text x="353.00" y="294.30" font-size="7.1" text-anchor="middle" font-weight="normal" font-style="normal" fill="#111" >SiO<tspan dy="1.1" font-size="4.3">2</tspan><tspan dy="-1.1" font-size="1">&#8203;</tspan>@Au@Au<tspan dy="1.1" font-size="4.3">1</tspan><tspan dy="-1.1" font-size="1">&#8203;</tspan></text><g clip-path="url(#gl0)"><rect x="325.4" y="355.9" width="55.7" height="55.80000000000001" fill="#a2a2a2"/><rect x="325.4" y="355.9" width="55.7" height="55.80000000000001" filter="url(#gw0L)" opacity="0.25"/><g fill="#585858" filter="url(#gblb0)"><ellipse cx="332.8" cy="381.2" rx="1.7" ry="1.5"/><ellipse cx="365.1" cy="397.2" rx="1.5" ry="1.5"/><ellipse cx="370.6" cy="385.7" rx="1.3" ry="1.1"/><ellipse cx="350.7" cy="357.7" rx="1.8" ry="1.8"/><ellipse cx="379.0" cy="374.3" rx="1.4" ry="1.6"/><ellipse cx="368.7" cy="366.7" rx="1.4" ry="1.2"/><ellipse cx="335.3" cy="375.0" rx="1.6" ry="1.7"/><ellipse cx="380.0" cy="367.1" rx="1.8" ry="1.8"/><ellipse cx="356.4" cy="407.0" rx="1.7" ry="1.6"/><ellipse cx="333.7" cy="392.4" rx="1.3" ry="1.4"/><ellipse cx="324.7" cy="377.8" rx="1.7" ry="1.8"/><ellipse cx="357.1" cy="366.0" rx="1.8" ry="1.7"/><ellipse cx="350.3" cy="391.8" rx="1.8" ry="1.9"/><ellipse cx="331.7" cy="386.9" rx="1.8" ry="1.6"/><ellipse cx="359.5" cy="396.4" rx="1.7" ry="1.8"/><ellipse cx="353.7" cy="371.7" rx="1.6" ry="1.7"/><ellipse cx="373.7" cy="375.9" rx="1.5" ry="1.4"/><ellipse cx="368.3" cy="401.9" rx="1.8" ry="1.9"/><ellipse cx="362.0" cy="369.5" rx="1.8" ry="1.8"/><ellipse cx="376.9" cy="396.2" rx="1.7" ry="1.9"/><ellipse cx="354.0" cy="383.4" rx="1.6" ry="1.5"/><ellipse cx="374.1" cy="364.4" rx="1.7" ry="1.8"/><ellipse cx="365.1" cy="361.9" rx="1.3" ry="1.3"/><ellipse cx="342.3" cy="390.8" rx="1.6" ry="1.5"/><ellipse cx="343.7" cy="355.6" rx="1.3" ry="1.1"/><ellipse cx="335.5" cy="385.3" rx="1.7" ry="1.4"/><ellipse cx="365.6" cy="390.6" rx="1.6" ry="1.6"/><ellipse cx="370.5" cy="405.4" rx="1.3" ry="1.3"/><ellipse cx="335.8" cy="369.3" rx="1.3" ry="1.1"/><ellipse cx="331.5" cy="358.8" rx="1.8" ry="1.8"/><ellipse cx="347.6" cy="386.1" rx="1.5" ry="1.3"/><ellipse cx="344.2" cy="381.2" rx="1.4" ry="1.3"/><ellipse cx="348.2" cy="408.7" rx="1.6" ry="1.6"/><ellipse cx="381.0" cy="378.1" rx="1.4" ry="1.3"/><ellipse cx="340.1" cy="370.6" rx="1.4" ry="1.2"/><ellipse cx="378.4" cy="412.2" rx="1.6" ry="1.7"/><ellipse cx="337.8" cy="355.5" rx="1.3" ry="1.4"/><ellipse cx="360.5" cy="404.2" rx="1.7" ry="1.7"/><ellipse cx="344.7" cy="393.8" rx="1.5" ry="1.3"/><ellipse cx="380.7" cy="356.2" rx="1.6" ry="1.6"/><ellipse cx="344.7" cy="401.2" rx="1.3" ry="1.4"/><ellipse cx="375.8" cy="355.1" rx="1.7" ry="1.8"/><ellipse cx="365.0" cy="384.2" rx="1.3" ry="1.4"/><ellipse cx="336.7" cy="364.2" rx="1.8" ry="1.5"/><ellipse cx="360.5" cy="391.5" rx="1.3" ry="1.3"/><ellipse cx="330.8" cy="372.3" rx="1.8" ry="1.6"/><ellipse cx="365.3" cy="404.7" rx="1.3" ry="1.4"/><ellipse cx="325.6" cy="363.8" rx="1.3" ry="1.1"/></g><rect x="325.4" y="355.9" width="55.7" height="55.80000000000001" fill="url(#gshadeL)"/><rect x="327.4" y="405.6" width="16.4" height="2.1" fill="#fff"/><text x="327.50" y="404.20" font-size="5.7" text-anchor="start" font-weight="bold" font-style="normal" fill="#fff" >20 nm</text><text x="331.60" y="366.70" font-size="7.4" text-anchor="start" font-weight="normal" font-style="normal" fill="#fff" >G<tspan dy="1.2" font-size="4.2">Au</tspan><tspan dy="-1.2" font-size="1">&#8203;</tspan> = 9.55 nm</text></g><rect x="325.4" y="355.9" width="55.7" height="55.80000000000001" fill="none" stroke="#e23a3e" stroke-width="1.7" stroke-dasharray="4.2,1.5"/><rect x="346.7" y="316" width="14.2" height="13" fill="none" stroke="#e23a3e" stroke-width="1.5" stroke-dasharray="3.3,1.3"/><line x1="346.7" y1="329" x2="325.7" y2="355.9" stroke="#e23a3e" stroke-width="1.7" stroke-dasharray="4,1.6"/><line x1="360.9" y1="329" x2="380.8" y2="355.9" stroke="#e23a3e" stroke-width="1.7" stroke-dasharray="4,1.6"/><g clip-path="url(#gt1)"><rect x="387" y="296.4" width="53.8" height="52.700000000000045" fill="#b8b8b8"/><rect x="387" y="296.4" width="53.8" height="52.700000000000045" fill="url(#gshadeT)"/><circle cx="414.3" cy="323.5" r="21.099999999999998" fill="#949494" filter="url(#gbl)"/><g clip-path="url(#gp1)"><rect x="392.6" y="301.8" width="43.4" height="43.4" filter="url(#gs1)" opacity="0.64"/><circle cx="414.3" cy="323.5" r="20.7" fill="url(#gr1)"/><circle cx="414.3" cy="323.5" r="20.20" fill="none" stroke="#181818" stroke-width="1.4" stroke-dasharray="1.7,0.8" stroke-opacity="0.5" filter="url(#gbl)"/></g><rect x="388.8" y="345.2" width="15.8" height="1.9" fill="#fff"/><text x="388.60" y="344.20" font-size="5.7" text-anchor="start" font-weight="bold" font-style="normal" fill="#fff" >50 nm</text></g><text x="413.90" y="294.30" font-size="7.1" text-anchor="middle" font-weight="normal" font-style="normal" fill="#111" >SiO<tspan dy="1.1" font-size="4.3">2</tspan><tspan dy="-1.1" font-size="1">&#8203;</tspan>@Au@Au<tspan dy="1.1" font-size="4.3">3</tspan><tspan dy="-1.1" font-size="1">&#8203;</tspan></text><g clip-path="url(#gl1)"><rect x="385.9" y="355.9" width="55.7" height="55.80000000000001" fill="#9c9c9c"/><rect x="385.9" y="355.9" width="55.7" height="55.80000000000001" filter="url(#gw1L)" opacity="0.25"/><g fill="#5c5c5c" filter="url(#gblb1)"><ellipse cx="418.4" cy="366.2" rx="2.2" ry="2.3"/><ellipse cx="438.2" cy="381.9" rx="2.0" ry="1.9"/><ellipse cx="397.3" cy="367.7" rx="1.7" ry="1.7"/><ellipse cx="424.9" cy="367.2" rx="2.2" ry="2.0"/><ellipse cx="389.0" cy="366.1" rx="1.5" ry="1.5"/><ellipse cx="429.3" cy="376.1" rx="1.8" ry="2.0"/><ellipse cx="403.7" cy="391.7" rx="1.8" ry="1.9"/><ellipse cx="396.9" cy="379.8" rx="1.7" ry="1.7"/><ellipse cx="391.3" cy="402.5" rx="2.0" ry="2.0"/><ellipse cx="423.3" cy="405.9" rx="1.8" ry="1.5"/><ellipse cx="406.8" cy="379.3" rx="1.8" ry="1.6"/><ellipse cx="423.5" cy="355.3" rx="1.8" ry="1.8"/><ellipse cx="415.8" cy="374.9" rx="1.5" ry="1.6"/><ellipse cx="424.4" cy="397.0" rx="1.7" ry="1.5"/><ellipse cx="422.5" cy="382.4" rx="1.8" ry="1.6"/><ellipse cx="435.4" cy="372.9" rx="2.1" ry="2.1"/><ellipse cx="385.2" cy="359.8" rx="1.5" ry="1.4"/><ellipse cx="404.9" cy="409.6" rx="2.1" ry="1.9"/><ellipse cx="433.3" cy="361.8" rx="2.0" ry="1.8"/><ellipse cx="429.6" cy="401.7" rx="2.1" ry="2.0"/><ellipse cx="393.0" cy="365.2" rx="2.1" ry="2.2"/><ellipse cx="427.5" cy="406.5" rx="1.8" ry="1.6"/><ellipse cx="440.1" cy="406.0" rx="1.7" ry="1.8"/><ellipse cx="388.8" cy="386.6" rx="2.0" ry="1.7"/><ellipse cx="405.1" cy="358.2" rx="1.7" ry="1.5"/><ellipse cx="439.0" cy="369.4" rx="1.6" ry="1.7"/><ellipse cx="391.4" cy="411.6" rx="2.1" ry="1.8"/><ellipse cx="385.6" cy="391.5" rx="2.1" ry="2.0"/><ellipse cx="411.4" cy="387.8" rx="2.1" ry="1.8"/><ellipse cx="423.0" cy="386.8" rx="1.9" ry="1.7"/><ellipse cx="436.5" cy="378.1" rx="1.5" ry="1.6"/><ellipse cx="397.6" cy="358.7" rx="1.6" ry="1.4"/><ellipse cx="391.8" cy="374.7" rx="1.8" ry="1.8"/><ellipse cx="410.7" cy="393.3" rx="2.0" ry="2.1"/><ellipse cx="424.6" cy="376.0" rx="2.0" ry="1.8"/><ellipse cx="416.6" cy="362.3" rx="1.9" ry="2.0"/><ellipse cx="427.6" cy="380.3" rx="2.0" ry="1.8"/><ellipse cx="400.4" cy="396.0" rx="2.2" ry="2.3"/><ellipse cx="388.3" cy="378.7" rx="1.8" ry="1.8"/><ellipse cx="393.2" cy="398.1" rx="2.1" ry="2.0"/><ellipse cx="388.5" cy="394.9" rx="1.7" ry="1.8"/><ellipse cx="441.3" cy="401.0" rx="1.7" ry="1.8"/><ellipse cx="427.0" cy="363.4" rx="2.0" ry="1.9"/><ellipse cx="409.0" cy="370.2" rx="1.7" ry="1.6"/><ellipse cx="397.4" cy="400.9" rx="1.6" ry="1.4"/><ellipse cx="418.8" cy="393.3" rx="2.1" ry="2.0"/><ellipse cx="410.8" cy="357.1" rx="1.6" ry="1.8"/><ellipse cx="414.7" cy="396.2" rx="2.2" ry="2.4"/><ellipse cx="414.4" cy="368.0" rx="1.9" ry="1.7"/><ellipse cx="418.2" cy="382.7" rx="1.6" ry="1.7"/><ellipse cx="391.3" cy="357.3" rx="1.9" ry="2.0"/><ellipse cx="426.0" cy="412.3" rx="1.9" ry="1.6"/><ellipse cx="442.2" cy="378.2" rx="1.6" ry="1.4"/><ellipse cx="388.3" cy="371.6" rx="1.9" ry="1.8"/><ellipse cx="407.3" cy="387.2" rx="1.6" ry="1.7"/><ellipse cx="434.1" cy="408.0" rx="2.0" ry="2.2"/><ellipse cx="397.8" cy="385.3" rx="1.5" ry="1.4"/><ellipse cx="406.2" cy="400.7" rx="2.2" ry="2.1"/><ellipse cx="420.5" cy="411.5" rx="2.1" ry="2.3"/><ellipse cx="387.5" cy="409.6" rx="1.5" ry="1.4"/><ellipse cx="395.7" cy="394.6" rx="2.1" ry="1.8"/><ellipse cx="440.9" cy="397.0" rx="2.0" ry="1.9"/><ellipse cx="401.3" cy="377.9" rx="2.0" ry="2.1"/><ellipse cx="434.5" cy="357.6" rx="1.9" ry="2.0"/><ellipse cx="425.1" cy="371.4" rx="1.9" ry="2.1"/><ellipse cx="420.9" cy="362.8" rx="2.2" ry="1.9"/><ellipse cx="398.9" cy="362.8" rx="1.8" ry="1.6"/><ellipse cx="416.1" cy="406.1" rx="1.8" ry="1.6"/><ellipse cx="434.1" cy="396.2" rx="1.9" ry="1.9"/><ellipse cx="418.6" cy="355.6" rx="1.7" ry="1.6"/></g><rect x="385.9" y="355.9" width="55.7" height="55.80000000000001" fill="url(#gshadeL)"/><rect x="387.9" y="405.6" width="16.4" height="2.1" fill="#fff"/><text x="388.00" y="404.20" font-size="5.7" text-anchor="start" font-weight="bold" font-style="normal" fill="#fff" >20 nm</text><text x="392.10" y="366.70" font-size="7.4" text-anchor="start" font-weight="normal" font-style="normal" fill="#fff" >G<tspan dy="1.2" font-size="4.2">Au</tspan><tspan dy="-1.2" font-size="1">&#8203;</tspan> = 7.63 nm</text></g><rect x="385.9" y="355.9" width="55.7" height="55.80000000000001" fill="none" stroke="#e23a3e" stroke-width="1.7" stroke-dasharray="4.2,1.5"/><rect x="407.5" y="316" width="14.0" height="13" fill="none" stroke="#e23a3e" stroke-width="1.5" stroke-dasharray="3.3,1.3"/><line x1="407.5" y1="329" x2="386.2" y2="355.9" stroke="#e23a3e" stroke-width="1.7" stroke-dasharray="4,1.6"/><line x1="421.5" y1="329" x2="441.3" y2="355.9" stroke="#e23a3e" stroke-width="1.7" stroke-dasharray="4,1.6"/><g clip-path="url(#gt2)"><rect x="447" y="296.4" width="53.8" height="52.700000000000045" fill="#bababa"/><rect x="447" y="296.4" width="53.8" height="52.700000000000045" fill="url(#gshadeT)"/><circle cx="474.5" cy="322.3" r="22.4" fill="#949494" filter="url(#gbl)"/><g clip-path="url(#gp2)"><rect x="451.5" y="299.3" width="46.0" height="46.0" filter="url(#gs2)" opacity="0.66"/><circle cx="474.5" cy="322.3" r="22.0" fill="url(#gr2)"/><circle cx="474.5" cy="322.3" r="21.35" fill="none" stroke="#181818" stroke-width="1.7" stroke-dasharray="1.7,0.8" stroke-opacity="0.62" filter="url(#gbl)"/></g><rect x="448.8" y="345.2" width="15.8" height="1.9" fill="#fff"/><text x="448.60" y="344.20" font-size="5.7" text-anchor="start" font-weight="bold" font-style="normal" fill="#fff" >50 nm</text></g><text x="473.90" y="294.30" font-size="7.1" text-anchor="middle" font-weight="normal" font-style="normal" fill="#111" >SiO<tspan dy="1.1" font-size="4.3">2</tspan><tspan dy="-1.1" font-size="1">&#8203;</tspan>@Au@Au<tspan dy="1.1" font-size="4.3">5</tspan><tspan dy="-1.1" font-size="1">&#8203;</tspan></text><g clip-path="url(#gl2)"><rect x="446.1" y="355.9" width="55.7" height="55.80000000000001" fill="#a6a6a6"/><rect x="446.1" y="355.9" width="55.7" height="55.80000000000001" filter="url(#gw2L)" opacity="0.25"/><g fill="#5c5c5c" filter="url(#gblb2)"><ellipse cx="453.6" cy="390.5" rx="2.0" ry="2.1"/><ellipse cx="486.2" cy="390.0" rx="2.2" ry="1.9"/><ellipse cx="480.7" cy="387.6" rx="1.9" ry="2.0"/><ellipse cx="475.7" cy="390.7" rx="2.3" ry="2.1"/><ellipse cx="495.8" cy="397.4" rx="2.2" ry="2.2"/><ellipse cx="458.2" cy="362.3" rx="2.6" ry="2.7"/><ellipse cx="470.6" cy="383.9" rx="2.0" ry="1.9"/><ellipse cx="475.7" cy="363.3" rx="2.4" ry="2.1"/><ellipse cx="481.5" cy="393.6" rx="2.1" ry="2.3"/><ellipse cx="450.4" cy="374.1" rx="2.5" ry="2.7"/><ellipse cx="474.5" cy="398.1" rx="2.2" ry="2.2"/><ellipse cx="468.1" cy="407.4" rx="2.0" ry="1.8"/><ellipse cx="481.5" cy="379.9" rx="2.4" ry="2.3"/><ellipse cx="470.5" cy="393.5" rx="2.7" ry="2.7"/><ellipse cx="492.7" cy="391.8" rx="2.3" ry="2.0"/><ellipse cx="499.8" cy="380.7" rx="2.4" ry="2.4"/><ellipse cx="467.6" cy="397.8" rx="2.4" ry="2.5"/><ellipse cx="497.9" cy="390.9" rx="2.3" ry="2.1"/><ellipse cx="501.3" cy="385.4" rx="2.2" ry="2.1"/><ellipse cx="499.2" cy="409.5" rx="2.0" ry="1.9"/><ellipse cx="449.3" cy="404.5" rx="2.7" ry="2.4"/><ellipse cx="467.3" cy="369.6" rx="2.5" ry="2.4"/><ellipse cx="499.3" cy="367.2" rx="2.3" ry="2.0"/><ellipse cx="483.3" cy="367.7" rx="2.2" ry="2.1"/><ellipse cx="453.3" cy="382.6" rx="2.1" ry="2.2"/><ellipse cx="453.8" cy="361.8" rx="2.0" ry="2.0"/><ellipse cx="469.2" cy="373.3" rx="2.5" ry="2.4"/><ellipse cx="455.9" cy="372.1" rx="2.5" ry="2.2"/><ellipse cx="491.6" cy="402.9" rx="2.3" ry="2.1"/><ellipse cx="454.9" cy="400.6" rx="2.2" ry="2.3"/><ellipse cx="493.4" cy="410.8" rx="2.7" ry="2.6"/><ellipse cx="472.2" cy="355.3" rx="2.1" ry="2.2"/><ellipse cx="457.7" cy="392.4" rx="2.5" ry="2.5"/><ellipse cx="472.5" cy="403.3" rx="2.1" ry="2.0"/><ellipse cx="490.0" cy="396.9" rx="2.6" ry="2.7"/><ellipse cx="448.6" cy="365.8" rx="2.7" ry="2.6"/><ellipse cx="464.8" cy="362.7" rx="2.7" ry="2.5"/><ellipse cx="471.3" cy="369.3" rx="2.0" ry="2.2"/><ellipse cx="445.6" cy="388.6" rx="2.1" ry="2.2"/><ellipse cx="477.2" cy="408.3" rx="2.3" ry="2.2"/><ellipse cx="500.1" cy="358.8" rx="2.5" ry="2.2"/><ellipse cx="488.6" cy="410.3" rx="1.9" ry="1.8"/><ellipse cx="474.3" cy="387.1" rx="2.4" ry="2.2"/><ellipse cx="497.2" cy="405.6" rx="2.5" ry="2.7"/><ellipse cx="449.7" cy="395.0" rx="1.9" ry="2.1"/><ellipse cx="496.1" cy="362.7" rx="2.2" ry="2.2"/><ellipse cx="472.3" cy="375.6" rx="2.7" ry="2.3"/><ellipse cx="459.0" cy="382.9" rx="2.0" ry="2.1"/><ellipse cx="464.7" cy="383.1" rx="2.5" ry="2.2"/><ellipse cx="450.2" cy="358.0" rx="2.5" ry="2.4"/><ellipse cx="471.2" cy="412.4" rx="2.6" ry="2.8"/><ellipse cx="467.6" cy="380.4" rx="2.3" ry="2.0"/><ellipse cx="467.0" cy="401.9" rx="2.7" ry="3.0"/><ellipse cx="481.7" cy="371.3" rx="1.9" ry="2.0"/><ellipse cx="496.5" cy="370.2" rx="2.5" ry="2.4"/><ellipse cx="484.9" cy="411.5" rx="2.7" ry="2.7"/><ellipse cx="448.8" cy="385.2" rx="2.1" ry="2.0"/><ellipse cx="450.7" cy="378.1" rx="2.5" ry="2.6"/><ellipse cx="449.7" cy="400.3" rx="1.9" ry="2.1"/><ellipse cx="487.6" cy="371.9" rx="2.1" ry="2.1"/><ellipse cx="492.7" cy="384.4" rx="2.4" ry="2.5"/><ellipse cx="486.9" cy="366.0" rx="2.2" ry="1.9"/><ellipse cx="500.2" cy="374.1" rx="2.6" ry="2.3"/><ellipse cx="454.0" cy="355.7" rx="2.3" ry="2.5"/><ellipse cx="461.4" cy="389.3" rx="2.5" ry="2.3"/><ellipse cx="482.5" cy="406.7" rx="2.1" ry="2.1"/><ellipse cx="459.1" cy="397.3" rx="2.7" ry="2.8"/><ellipse cx="454.9" cy="376.3" rx="2.7" ry="2.4"/><ellipse cx="463.9" cy="405.7" rx="2.4" ry="2.5"/><ellipse cx="455.5" cy="412.3" rx="2.7" ry="2.6"/><ellipse cx="489.1" cy="379.0" rx="2.7" ry="2.7"/><ellipse cx="454.8" cy="407.2" rx="2.7" ry="2.8"/><ellipse cx="456.4" cy="366.5" rx="2.5" ry="2.4"/><ellipse cx="463.8" cy="411.0" rx="2.2" ry="2.3"/><ellipse cx="493.5" cy="377.7" rx="2.2" ry="2.1"/><ellipse cx="495.0" cy="387.6" rx="2.6" ry="2.7"/><ellipse cx="485.3" cy="377.4" rx="1.9" ry="1.9"/><ellipse cx="471.0" cy="362.1" rx="2.6" ry="2.5"/><ellipse cx="451.0" cy="408.7" rx="2.2" ry="2.1"/><ellipse cx="490.9" cy="359.0" rx="2.3" ry="2.0"/><ellipse cx="486.9" cy="359.5" rx="2.4" ry="2.6"/><ellipse cx="469.6" cy="389.1" rx="2.6" ry="2.6"/><ellipse cx="445.4" cy="405.3" rx="2.0" ry="2.2"/><ellipse cx="482.4" cy="356.5" rx="2.8" ry="2.8"/><ellipse cx="476.5" cy="380.2" rx="2.5" ry="2.6"/><ellipse cx="491.9" cy="368.9" rx="2.2" ry="2.2"/><ellipse cx="456.7" cy="387.7" rx="2.5" ry="2.5"/><ellipse cx="475.4" cy="369.4" rx="2.1" ry="2.2"/><ellipse cx="478.1" cy="412.6" rx="2.2" ry="1.9"/><ellipse cx="502.4" cy="397.8" rx="2.6" ry="2.6"/><ellipse cx="498.1" cy="401.4" rx="2.4" ry="2.1"/><ellipse cx="445.6" cy="376.5" rx="1.9" ry="1.7"/><ellipse cx="445.2" cy="372.1" rx="2.5" ry="2.7"/><ellipse cx="496.2" cy="356.1" rx="2.0" ry="1.7"/><ellipse cx="478.6" cy="404.2" rx="1.8" ry="1.9"/><ellipse cx="480.0" cy="363.3" rx="2.7" ry="3.0"/><ellipse cx="480.8" cy="398.0" rx="2.5" ry="2.6"/><ellipse cx="474.1" cy="359.4" rx="1.9" ry="2.1"/><ellipse cx="447.4" cy="380.7" rx="2.1" ry="1.8"/><ellipse cx="487.9" cy="393.6" rx="2.6" ry="2.7"/><ellipse cx="489.2" cy="406.2" rx="2.6" ry="2.6"/><ellipse cx="484.8" cy="402.9" rx="2.1" ry="2.1"/><ellipse cx="467.0" cy="359.1" rx="2.6" ry="2.3"/><ellipse cx="473.2" cy="409.0" rx="1.9" ry="1.6"/><ellipse cx="455.2" cy="395.8" rx="2.7" ry="2.9"/><ellipse cx="485.8" cy="385.5" rx="2.8" ry="2.5"/><ellipse cx="476.8" cy="375.9" rx="2.2" ry="2.2"/><ellipse cx="461.5" cy="402.4" rx="2.0" ry="1.8"/><ellipse cx="502.0" cy="389.7" rx="2.4" ry="2.4"/><ellipse cx="446.4" cy="398.1" rx="2.7" ry="2.3"/><ellipse cx="465.3" cy="355.5" rx="2.2" ry="2.4"/><ellipse cx="501.4" cy="363.3" rx="2.5" ry="2.5"/><ellipse cx="447.6" cy="361.5" rx="2.1" ry="1.9"/><ellipse cx="477.7" cy="384.0" rx="2.4" ry="2.6"/><ellipse cx="464.4" cy="378.0" rx="2.1" ry="1.9"/></g><rect x="446.1" y="355.9" width="55.7" height="55.80000000000001" fill="url(#gshadeL)"/><rect x="448.1" y="405.6" width="16.4" height="2.1" fill="#fff"/><text x="448.20" y="404.20" font-size="5.7" text-anchor="start" font-weight="bold" font-style="normal" fill="#fff" >20 nm</text><text x="452.30" y="366.70" font-size="7.4" text-anchor="start" font-weight="normal" font-style="normal" fill="#fff" >G<tspan dy="1.2" font-size="4.2">Au</tspan><tspan dy="-1.2" font-size="1">&#8203;</tspan> = 5.89 nm</text></g><rect x="446.1" y="355.9" width="55.7" height="55.80000000000001" fill="none" stroke="#e23a3e" stroke-width="1.7" stroke-dasharray="4.2,1.5"/><rect x="467.9" y="316" width="13.5" height="13" fill="none" stroke="#e23a3e" stroke-width="1.5" stroke-dasharray="3.3,1.3"/><line x1="467.9" y1="329" x2="446.4" y2="355.9" stroke="#e23a3e" stroke-width="1.7" stroke-dasharray="4,1.6"/><line x1="481.4" y1="329" x2="501.5" y2="355.9" stroke="#e23a3e" stroke-width="1.7" stroke-dasharray="4,1.6"/><g clip-path="url(#gt3)"><rect x="508.3" y="296.4" width="53.8" height="52.700000000000045" fill="#b8b8b8"/><rect x="508.3" y="296.4" width="53.8" height="52.700000000000045" fill="url(#gshadeT)"/><circle cx="533.5" cy="322.7" r="23.2" fill="#9c9c9c" filter="url(#gbl)"/><g clip-path="url(#gp3)"><rect x="509.7" y="298.9" width="47.6" height="47.6" filter="url(#gs3)" opacity="0.6"/><g stroke="#161616" stroke-width="0.9" stroke-opacity="0.28" filter="url(#gbl)"><line x1="535.8" y1="338.2" x2="536.4" y2="342.3"/><line x1="531.1" y1="314.4" x2="527.8" y2="303.3"/><line x1="543.2" y1="322.6" x2="555.1" y2="322.6"/><line x1="522.3" y1="325.6" x2="513.1" y2="328.1"/><line x1="538.7" y1="336.4" x2="540.5" y2="341.1"/><line x1="534.3" y1="330.8" x2="535.5" y2="342.9"/><line x1="520.8" y1="331.0" x2="516.2" y2="334.0"/><line x1="541.1" y1="329.3" x2="550.7" y2="337.6"/><line x1="545.4" y1="327.7" x2="552.6" y2="330.7"/><line x1="527.8" y1="313.7" x2="521.9" y2="304.3"/><line x1="520.3" y1="322.9" x2="511.0" y2="323.0"/><line x1="525.6" y1="318.2" x2="516.4" y2="313.1"/><line x1="544.7" y1="318.7" x2="552.4" y2="316.0"/><line x1="545.4" y1="318.5" x2="554.1" y2="315.4"/><line x1="541.0" y1="315.7" x2="548.6" y2="308.7"/><line x1="540.0" y1="316.4" x2="549.3" y2="307.5"/><line x1="544.5" y1="330.5" x2="551.3" y2="335.2"/><line x1="547.5" y1="318.2" x2="553.6" y2="316.2"/><line x1="536.5" y1="331.4" x2="540.3" y2="342.8"/><line x1="525.0" y1="322.2" x2="511.1" y2="321.3"/><line x1="519.9" y1="322.1" x2="513.4" y2="321.8"/><line x1="533.8" y1="330.8" x2="534.3" y2="343.2"/><line x1="532.3" y1="334.0" x2="531.3" y2="343.3"/><line x1="541.1" y1="309.7" x2="543.6" y2="305.5"/><line x1="526.1" y1="328.3" x2="516.3" y2="335.8"/><line x1="543.0" y1="321.2" x2="555.2" y2="319.2"/><line x1="531.0" y1="330.4" x2="526.7" y2="343.6"/><line x1="528.4" y1="330.5" x2="522.1" y2="340.2"/><line x1="534.8" y1="333.9" x2="535.9" y2="343.5"/><line x1="522.5" y1="328.9" x2="515.8" y2="332.7"/><line x1="540.7" y1="327.6" x2="549.8" y2="333.8"/><line x1="522.7" y1="321.3" x2="511.5" y2="319.8"/><line x1="519.9" y1="322.3" x2="510.8" y2="322.0"/><line x1="541.0" y1="325.8" x2="551.8" y2="330.4"/><line x1="524.0" y1="330.9" x2="516.9" y2="337.1"/><line x1="524.2" y1="335.3" x2="522.0" y2="338.3"/><line x1="538.5" y1="314.4" x2="545.0" y2="303.5"/><line x1="548.8" y1="325.9" x2="555.0" y2="327.2"/><line x1="546.1" y1="321.9" x2="553.5" y2="321.5"/><line x1="544.8" y1="320.5" x2="552.8" y2="319.0"/><line x1="524.1" y1="315.4" x2="516.9" y2="309.8"/><line x1="538.6" y1="330.1" x2="545.6" y2="340.3"/><line x1="524.9" y1="325.3" x2="513.5" y2="328.8"/><line x1="531.4" y1="309.2" x2="530.3" y2="302.0"/><line x1="525.0" y1="329.4" x2="517.7" y2="335.2"/><line x1="537.2" y1="333.6" x2="539.9" y2="341.4"/></g><circle cx="533.5" cy="322.7" r="22.8" fill="url(#gr3)"/><circle cx="533.5" cy="322.7" r="22.00" fill="none" stroke="#181818" stroke-width="2.0" stroke-dasharray="1.7,0.8" stroke-opacity="0.75" filter="url(#gbl)"/></g><rect x="510.1" y="345.2" width="15.8" height="1.9" fill="#fff"/><text x="509.90" y="344.20" font-size="5.7" text-anchor="start" font-weight="bold" font-style="normal" fill="#fff" >50 nm</text></g><text x="535.20" y="294.30" font-size="7.1" text-anchor="middle" font-weight="normal" font-style="normal" fill="#111" >SiO<tspan dy="1.1" font-size="4.3">2</tspan><tspan dy="-1.1" font-size="1">&#8203;</tspan>@Au@Au<tspan dy="1.1" font-size="4.3">7</tspan><tspan dy="-1.1" font-size="1">&#8203;</tspan></text><g clip-path="url(#gl3)"><rect x="507.7" y="355.9" width="55.7" height="55.80000000000001" fill="#a4a4a4"/><rect x="507.7" y="355.9" width="55.7" height="55.80000000000001" filter="url(#gw3L)" opacity="0.25"/><g fill="#565656" filter="url(#gblb3)"><ellipse cx="563.2" cy="381.3" rx="3.0" ry="2.8"/><ellipse cx="549.1" cy="367.3" rx="2.3" ry="2.4"/><ellipse cx="541.5" cy="361.9" rx="2.7" ry="2.9"/><ellipse cx="558.0" cy="405.3" rx="2.4" ry="2.1"/><ellipse cx="511.4" cy="367.8" rx="3.2" ry="2.9"/><ellipse cx="512.9" cy="362.3" rx="2.8" ry="2.5"/><ellipse cx="517.3" cy="378.6" rx="3.1" ry="2.7"/><ellipse cx="548.4" cy="378.9" rx="3.1" ry="3.0"/><ellipse cx="539.7" cy="402.7" rx="2.5" ry="2.2"/><ellipse cx="528.0" cy="388.4" rx="3.3" ry="3.1"/><ellipse cx="542.4" cy="382.3" rx="2.5" ry="2.7"/><ellipse cx="522.9" cy="367.4" rx="3.3" ry="2.9"/><ellipse cx="537.2" cy="395.8" rx="2.6" ry="2.3"/><ellipse cx="534.5" cy="363.3" rx="2.7" ry="2.7"/><ellipse cx="521.3" cy="360.7" rx="3.3" ry="3.2"/><ellipse cx="512.3" cy="401.9" rx="3.0" ry="3.2"/><ellipse cx="511.9" cy="382.9" rx="3.4" ry="3.5"/><ellipse cx="563.6" cy="387.5" rx="3.1" ry="3.2"/><ellipse cx="547.6" cy="371.8" rx="2.9" ry="3.1"/><ellipse cx="541.1" cy="377.7" rx="3.2" ry="3.0"/><ellipse cx="532.3" cy="398.2" rx="2.3" ry="2.0"/><ellipse cx="532.4" cy="357.5" rx="3.0" ry="3.1"/><ellipse cx="557.1" cy="386.3" rx="2.9" ry="2.7"/><ellipse cx="542.6" cy="368.1" rx="2.7" ry="2.9"/><ellipse cx="540.1" cy="392.3" rx="2.7" ry="2.6"/><ellipse cx="534.2" cy="374.0" rx="2.9" ry="2.8"/><ellipse cx="546.2" cy="404.0" rx="2.8" ry="3.0"/><ellipse cx="563.3" cy="372.8" rx="3.3" ry="3.5"/><ellipse cx="553.8" cy="356.8" rx="2.9" ry="2.6"/><ellipse cx="510.5" cy="356.5" rx="3.2" ry="2.9"/><ellipse cx="556.9" cy="371.4" rx="3.1" ry="3.1"/><ellipse cx="521.2" cy="385.0" rx="2.7" ry="2.7"/><ellipse cx="558.3" cy="394.3" rx="2.9" ry="2.4"/><ellipse cx="507.2" cy="383.1" rx="2.3" ry="2.0"/><ellipse cx="507.4" cy="412.6" rx="3.1" ry="3.0"/><ellipse cx="509.7" cy="408.9" rx="2.8" ry="3.0"/><ellipse cx="556.3" cy="400.2" rx="3.1" ry="3.1"/><ellipse cx="551.0" cy="400.8" rx="3.1" ry="2.8"/><ellipse cx="517.9" cy="393.4" rx="3.0" ry="3.1"/><ellipse cx="563.2" cy="409.4" rx="2.4" ry="2.4"/><ellipse cx="523.3" cy="390.3" rx="3.0" ry="2.9"/><ellipse cx="523.1" cy="408.7" rx="2.8" ry="2.5"/><ellipse cx="522.8" cy="356.2" rx="3.1" ry="2.9"/><ellipse cx="536.8" cy="410.0" rx="2.9" ry="3.0"/><ellipse cx="525.5" cy="375.5" rx="2.7" ry="2.6"/><ellipse cx="522.5" cy="380.3" rx="2.6" ry="2.9"/><ellipse cx="512.4" cy="378.0" rx="2.4" ry="2.1"/><ellipse cx="554.0" cy="395.4" rx="3.0" ry="2.6"/><ellipse cx="508.5" cy="363.1" rx="3.1" ry="3.1"/><ellipse cx="530.5" cy="411.3" rx="3.0" ry="2.8"/><ellipse cx="544.7" cy="357.4" rx="2.3" ry="2.1"/><ellipse cx="533.3" cy="386.4" rx="2.6" ry="2.5"/><ellipse cx="519.0" cy="371.8" rx="2.5" ry="2.6"/><ellipse cx="544.3" cy="397.8" rx="2.9" ry="2.9"/><ellipse cx="521.9" cy="397.9" rx="3.3" ry="3.2"/><ellipse cx="526.1" cy="402.5" rx="3.3" ry="3.5"/><ellipse cx="564.0" cy="397.5" rx="2.3" ry="2.1"/><ellipse cx="520.4" cy="412.6" rx="3.0" ry="3.1"/><ellipse cx="556.2" cy="366.4" rx="2.5" ry="2.7"/><ellipse cx="527.8" cy="382.1" rx="2.4" ry="2.6"/><ellipse cx="548.7" cy="355.2" rx="2.4" ry="2.4"/><ellipse cx="539.4" cy="372.2" rx="2.8" ry="2.5"/><ellipse cx="530.6" cy="376.6" rx="3.1" ry="3.2"/><ellipse cx="549.8" cy="409.4" rx="2.4" ry="2.5"/><ellipse cx="517.2" cy="407.6" rx="2.8" ry="2.9"/><ellipse cx="517.0" cy="367.0" rx="3.4" ry="3.0"/><ellipse cx="546.9" cy="391.5" rx="3.2" ry="3.2"/><ellipse cx="555.4" cy="381.7" rx="3.3" ry="3.6"/><ellipse cx="515.9" cy="388.8" rx="2.8" ry="3.0"/><ellipse cx="530.0" cy="392.9" rx="3.1" ry="3.3"/><ellipse cx="510.5" cy="389.5" rx="2.6" ry="2.6"/><ellipse cx="532.7" cy="403.4" rx="3.1" ry="2.7"/><ellipse cx="562.0" cy="362.4" rx="2.8" ry="2.5"/><ellipse cx="538.1" cy="355.7" rx="3.2" ry="2.9"/><ellipse cx="548.6" cy="386.7" rx="3.2" ry="3.3"/><ellipse cx="555.1" cy="410.8" rx="2.8" ry="2.7"/><ellipse cx="517.1" cy="383.5" rx="2.8" ry="2.7"/><ellipse cx="528.2" cy="369.4" rx="2.9" ry="2.9"/><ellipse cx="558.7" cy="356.7" rx="3.3" ry="3.6"/><ellipse cx="507.3" cy="374.8" rx="2.8" ry="2.8"/><ellipse cx="514.6" cy="373.8" rx="3.1" ry="3.4"/><ellipse cx="543.4" cy="407.7" rx="2.9" ry="2.8"/><ellipse cx="527.5" cy="358.9" rx="3.3" ry="3.4"/><ellipse cx="508.3" cy="395.0" rx="3.1" ry="3.2"/><ellipse cx="552.4" cy="370.4" rx="2.5" ry="2.2"/><ellipse cx="506.8" cy="367.6" rx="2.4" ry="2.1"/><ellipse cx="558.9" cy="377.6" rx="2.5" ry="2.2"/><ellipse cx="555.6" cy="361.9" rx="3.1" ry="3.1"/><ellipse cx="548.6" cy="396.5" rx="2.8" ry="2.6"/><ellipse cx="515.6" cy="356.0" rx="2.6" ry="2.7"/><ellipse cx="547.0" cy="363.3" rx="2.5" ry="2.6"/><ellipse cx="554.0" cy="377.5" rx="2.5" ry="2.6"/><ellipse cx="538.1" cy="386.1" rx="2.8" ry="3.0"/><ellipse cx="563.7" cy="355.0" rx="2.4" ry="2.5"/><ellipse cx="528.8" cy="407.1" rx="3.2" ry="2.9"/><ellipse cx="519.4" cy="402.8" rx="3.2" ry="3.5"/><ellipse cx="513.5" cy="394.3" rx="2.6" ry="2.8"/><ellipse cx="528.0" cy="364.1" rx="3.3" ry="2.8"/><ellipse cx="538.1" cy="367.0" rx="2.8" ry="3.1"/><ellipse cx="563.5" cy="367.3" rx="2.6" ry="2.5"/><ellipse cx="537.2" cy="380.2" rx="2.7" ry="2.5"/><ellipse cx="535.2" cy="390.4" rx="2.2" ry="2.0"/><ellipse cx="543.7" cy="386.9" rx="2.3" ry="2.5"/><ellipse cx="551.7" cy="390.3" rx="3.3" ry="3.4"/><ellipse cx="517.5" cy="398.1" rx="2.8" ry="2.6"/><ellipse cx="561.4" cy="401.6" rx="2.7" ry="2.8"/><ellipse cx="507.4" cy="400.9" rx="3.2" ry="3.3"/><ellipse cx="525.8" cy="394.9" rx="2.4" ry="2.5"/><ellipse cx="550.9" cy="361.1" rx="2.8" ry="2.6"/><ellipse cx="552.2" cy="405.0" rx="3.3" ry="3.4"/><ellipse cx="532.4" cy="381.1" rx="2.7" ry="2.6"/><ellipse cx="546.3" cy="412.6" rx="3.0" ry="2.6"/><ellipse cx="533.4" cy="368.8" rx="2.3" ry="2.3"/><ellipse cx="562.1" cy="391.9" rx="2.8" ry="2.9"/><ellipse cx="514.0" cy="412.2" rx="2.9" ry="3.1"/></g><rect x="507.7" y="355.9" width="55.7" height="55.80000000000001" fill="url(#gshadeL)"/><rect x="509.7" y="405.6" width="16.4" height="2.1" fill="#fff"/><text x="509.80" y="404.20" font-size="5.7" text-anchor="start" font-weight="bold" font-style="normal" fill="#fff" >20 nm</text><text x="513.90" y="366.70" font-size="7.4" text-anchor="start" font-weight="normal" font-style="normal" fill="#fff" >G<tspan dy="1.2" font-size="4.2">Au</tspan><tspan dy="-1.2" font-size="1">&#8203;</tspan> = 3.53 nm</text></g><rect x="507.7" y="355.9" width="55.7" height="55.80000000000001" fill="none" stroke="#e23a3e" stroke-width="1.7" stroke-dasharray="4.2,1.5"/><rect x="526.6" y="316" width="13.8" height="13" fill="none" stroke="#e23a3e" stroke-width="1.5" stroke-dasharray="3.3,1.3"/><line x1="526.6" y1="329" x2="508.0" y2="355.9" stroke="#e23a3e" stroke-width="1.7" stroke-dasharray="4,1.6"/><line x1="540.4" y1="329" x2="563.1" y2="355.9" stroke="#e23a3e" stroke-width="1.7" stroke-dasharray="4,1.6"/><g clip-path="url(#gt4)"><rect x="568.5" y="296.4" width="53.8" height="52.700000000000045" fill="#bebebe"/><rect x="568.5" y="296.4" width="53.8" height="52.700000000000045" fill="url(#gshadeT)"/><circle cx="595.8" cy="322.7" r="23.299999999999997" fill="#9c9c9c" filter="url(#gbl)"/><g clip-path="url(#gp4)"><rect x="571.9" y="298.8" width="47.8" height="47.8" filter="url(#gs4)" opacity="0.62"/><g stroke="#161616" stroke-width="0.9" stroke-opacity="0.38" filter="url(#gbl)"><line x1="585.1" y1="325.2" x2="576.4" y2="327.3"/><line x1="601.2" y1="316.7" x2="610.0" y2="306.9"/><line x1="602.8" y1="317.5" x2="613.0" y2="310.0"/><line x1="589.6" y1="317.1" x2="580.4" y2="308.8"/><line x1="592.4" y1="311.6" x2="589.5" y2="301.7"/><line x1="601.3" y1="331.0" x2="606.7" y2="339.3"/><line x1="580.4" y1="322.1" x2="574.3" y2="321.9"/><line x1="597.5" y1="311.7" x2="599.1" y2="300.9"/><line x1="604.1" y1="328.9" x2="613.3" y2="335.7"/><line x1="594.1" y1="311.4" x2="592.8" y2="303.2"/><line x1="594.8" y1="332.3" x2="593.7" y2="343.0"/><line x1="599.3" y1="313.8" x2="604.0" y2="301.7"/><line x1="601.9" y1="316.9" x2="610.9" y2="308.4"/><line x1="587.6" y1="323.1" x2="574.9" y2="323.8"/><line x1="603.2" y1="317.8" x2="613.7" y2="310.8"/><line x1="605.0" y1="331.4" x2="612.1" y2="338.3"/><line x1="598.1" y1="330.4" x2="601.5" y2="341.6"/><line x1="587.9" y1="320.7" x2="576.7" y2="317.8"/><line x1="580.4" y1="323.0" x2="574.9" y2="323.1"/><line x1="585.3" y1="330.5" x2="579.9" y2="334.5"/><line x1="587.6" y1="318.2" x2="576.9" y2="312.3"/><line x1="604.0" y1="320.5" x2="616.4" y2="317.2"/><line x1="588.6" y1="317.0" x2="579.8" y2="310.1"/><line x1="611.8" y1="322.2" x2="615.7" y2="322.1"/><line x1="591.5" y1="307.7" x2="590.2" y2="303.2"/><line x1="589.4" y1="317.3" x2="579.9" y2="309.4"/><line x1="590.0" y1="311.4" x2="585.6" y2="303.0"/><line x1="605.0" y1="328.3" x2="615.0" y2="334.3"/><line x1="585.8" y1="316.8" x2="577.8" y2="312.2"/><line x1="608.4" y1="321.6" x2="615.3" y2="321.0"/><line x1="599.1" y1="312.6" x2="602.2" y2="302.7"/><line x1="598.4" y1="334.0" x2="600.5" y2="342.7"/><line x1="606.9" y1="329.6" x2="612.6" y2="333.2"/><line x1="597.5" y1="314.7" x2="600.5" y2="301.1"/><line x1="600.0" y1="311.5" x2="603.5" y2="302.2"/><line x1="596.0" y1="336.6" x2="596.0" y2="343.6"/><line x1="597.7" y1="338.3" x2="598.3" y2="343.4"/><line x1="585.4" y1="333.4" x2="581.3" y2="337.5"/><line x1="591.1" y1="314.5" x2="584.7" y2="303.3"/><line x1="595.3" y1="331.1" x2="594.5" y2="345.5"/><line x1="603.1" y1="336.5" x2="606.5" y2="342.9"/><line x1="589.4" y1="317.7" x2="580.4" y2="310.5"/><line x1="598.7" y1="333.5" x2="601.3" y2="343.5"/><line x1="606.4" y1="320.4" x2="615.3" y2="318.5"/><line x1="587.4" y1="319.2" x2="577.5" y2="315.2"/><line x1="583.0" y1="318.0" x2="577.3" y2="315.9"/></g><circle cx="595.8" cy="322.7" r="22.9" fill="url(#gr4)"/><circle cx="595.8" cy="322.7" r="22.00" fill="none" stroke="#181818" stroke-width="2.2" stroke-dasharray="1.7,0.8" stroke-opacity="0.8" filter="url(#gbl)"/></g><rect x="570.3" y="345.2" width="15.8" height="1.9" fill="#fff"/><text x="570.10" y="344.20" font-size="5.7" text-anchor="start" font-weight="bold" font-style="normal" fill="#fff" >50 nm</text></g><text x="595.40" y="294.30" font-size="7.1" text-anchor="middle" font-weight="normal" font-style="normal" fill="#111" >SiO<tspan dy="1.1" font-size="4.3">2</tspan><tspan dy="-1.1" font-size="1">&#8203;</tspan>@Au@Au<tspan dy="1.1" font-size="4.3">9</tspan><tspan dy="-1.1" font-size="1">&#8203;</tspan></text><g clip-path="url(#gl4)"><rect x="567.9" y="355.9" width="55.7" height="55.80000000000001" fill="#b8b8b8"/><rect x="567.9" y="355.9" width="55.7" height="55.80000000000001" filter="url(#gw4L)" opacity="0.6"/><g fill="#484848" filter="url(#gblb4)"><ellipse cx="622.3" cy="405.3" rx="3.4" ry="3.3"/><ellipse cx="580.0" cy="374.0" rx="3.4" ry="3.0"/><ellipse cx="613.4" cy="355.9" rx="2.7" ry="2.8"/><ellipse cx="618.6" cy="361.7" rx="3.3" ry="3.5"/><ellipse cx="585.9" cy="392.2" rx="3.5" ry="3.6"/><ellipse cx="600.5" cy="377.5" rx="2.9" ry="2.5"/><ellipse cx="602.8" cy="391.2" rx="3.0" ry="3.1"/><ellipse cx="593.8" cy="385.9" rx="2.8" ry="2.9"/><ellipse cx="577.3" cy="387.8" rx="2.6" ry="2.7"/><ellipse cx="601.4" cy="401.2" rx="3.5" ry="3.7"/><ellipse cx="620.2" cy="375.1" rx="3.7" ry="3.3"/><ellipse cx="578.4" cy="403.5" rx="2.5" ry="2.2"/><ellipse cx="619.6" cy="412.5" rx="2.7" ry="2.9"/><ellipse cx="597.1" cy="357.2" rx="2.9" ry="3.1"/><ellipse cx="575.3" cy="364.2" rx="3.3" ry="3.1"/><ellipse cx="567.5" cy="401.9" rx="2.8" ry="2.8"/><ellipse cx="571.1" cy="390.8" rx="3.4" ry="3.2"/><ellipse cx="597.7" cy="396.5" rx="2.9" ry="2.7"/><ellipse cx="615.5" cy="395.0" rx="3.5" ry="3.8"/><ellipse cx="609.2" cy="388.4" rx="2.5" ry="2.2"/><ellipse cx="602.2" cy="372.6" rx="3.2" ry="3.2"/><ellipse cx="622.2" cy="391.7" rx="3.5" ry="3.6"/><ellipse cx="567.6" cy="394.8" rx="2.7" ry="2.8"/><ellipse cx="579.1" cy="368.2" rx="2.8" ry="2.5"/><ellipse cx="578.4" cy="358.1" rx="3.1" ry="2.9"/><ellipse cx="617.9" cy="387.4" rx="3.0" ry="2.7"/><ellipse cx="598.6" cy="409.7" rx="3.1" ry="2.8"/><ellipse cx="589.6" cy="367.4" rx="3.0" ry="2.8"/><ellipse cx="582.8" cy="406.8" rx="2.6" ry="2.4"/><ellipse cx="587.4" cy="399.8" rx="3.6" ry="3.4"/><ellipse cx="568.6" cy="375.1" rx="3.6" ry="3.2"/><ellipse cx="569.1" cy="365.2" rx="2.7" ry="2.8"/><ellipse cx="612.9" cy="372.7" rx="3.3" ry="3.6"/><ellipse cx="605.9" cy="355.6" rx="3.0" ry="3.2"/><ellipse cx="573.8" cy="401.1" rx="3.1" ry="2.7"/><ellipse cx="585.0" cy="380.4" rx="3.0" ry="2.8"/><ellipse cx="575.1" cy="408.7" rx="2.9" ry="2.9"/><ellipse cx="618.5" cy="367.6" rx="2.7" ry="2.6"/><ellipse cx="600.1" cy="363.3" rx="2.8" ry="2.4"/><ellipse cx="568.8" cy="408.7" rx="2.6" ry="2.6"/><ellipse cx="624.0" cy="386.4" rx="2.5" ry="2.7"/><ellipse cx="614.9" cy="409.8" rx="3.1" ry="3.0"/><ellipse cx="620.5" cy="382.1" rx="3.0" ry="2.6"/><ellipse cx="570.2" cy="381.0" rx="2.8" ry="2.9"/><ellipse cx="568.9" cy="355.8" rx="2.5" ry="2.6"/><ellipse cx="607.2" cy="378.7" rx="2.7" ry="2.8"/><ellipse cx="623.8" cy="357.2" rx="2.8" ry="2.7"/><ellipse cx="587.9" cy="409.8" rx="2.6" ry="2.5"/><ellipse cx="608.8" cy="368.4" rx="3.2" ry="2.9"/><ellipse cx="577.5" cy="382.2" rx="3.4" ry="3.7"/><ellipse cx="609.8" cy="402.7" rx="3.6" ry="3.7"/><ellipse cx="587.9" cy="361.6" rx="2.6" ry="2.2"/><ellipse cx="588.3" cy="374.8" rx="2.7" ry="2.5"/><ellipse cx="590.9" cy="394.0" rx="3.5" ry="3.1"/><ellipse cx="605.0" cy="406.0" rx="3.3" ry="3.2"/><ellipse cx="601.2" cy="386.3" rx="2.6" ry="2.6"/><ellipse cx="622.9" cy="396.9" rx="3.6" ry="3.7"/><ellipse cx="572.8" cy="369.6" rx="2.7" ry="2.6"/><ellipse cx="609.1" cy="412.3" rx="3.1" ry="2.8"/><ellipse cx="594.6" cy="403.5" rx="3.4" ry="3.3"/><ellipse cx="594.0" cy="364.5" rx="3.3" ry="2.9"/><ellipse cx="590.4" cy="356.1" rx="3.2" ry="3.0"/><ellipse cx="583.9" cy="357.6" rx="2.6" ry="2.5"/><ellipse cx="575.5" cy="395.4" rx="3.1" ry="3.3"/><ellipse cx="612.4" cy="382.0" rx="3.4" ry="3.6"/><ellipse cx="613.9" cy="364.2" rx="2.8" ry="2.9"/><ellipse cx="595.0" cy="374.7" rx="3.0" ry="2.6"/><ellipse cx="582.0" cy="385.5" rx="3.4" ry="3.0"/><ellipse cx="623.7" cy="364.7" rx="2.7" ry="2.5"/><ellipse cx="607.1" cy="398.2" rx="3.0" ry="2.8"/><ellipse cx="581.8" cy="396.1" rx="3.7" ry="4.0"/><ellipse cx="580.8" cy="412.7" rx="2.6" ry="2.7"/><ellipse cx="596.2" cy="391.1" rx="3.4" ry="3.6"/><ellipse cx="615.2" cy="402.7" rx="3.1" ry="2.7"/><ellipse cx="571.4" cy="360.6" rx="3.2" ry="3.3"/><ellipse cx="598.0" cy="369.3" rx="3.7" ry="3.6"/><ellipse cx="590.6" cy="379.8" rx="3.6" ry="3.5"/><ellipse cx="592.9" cy="408.4" rx="3.2" ry="3.3"/><ellipse cx="581.7" cy="362.3" rx="3.6" ry="3.5"/><ellipse cx="624.5" cy="370.7" rx="3.7" ry="3.4"/><ellipse cx="608.9" cy="361.7" rx="3.2" ry="3.3"/><ellipse cx="567.2" cy="386.1" rx="3.7" ry="3.8"/><ellipse cx="584.8" cy="370.7" rx="2.5" ry="2.6"/><ellipse cx="624.1" cy="378.4" rx="2.8" ry="2.4"/><ellipse cx="588.5" cy="385.4" rx="2.6" ry="2.6"/><ellipse cx="603.4" cy="411.4" rx="3.0" ry="2.6"/><ellipse cx="574.9" cy="376.7" rx="3.4" ry="3.5"/><ellipse cx="615.6" cy="377.7" rx="2.6" ry="2.4"/><ellipse cx="610.2" cy="393.7" rx="3.7" ry="3.2"/><ellipse cx="618.9" cy="355.3" rx="3.5" ry="3.0"/><ellipse cx="596.1" cy="380.4" rx="3.1" ry="3.4"/><ellipse cx="603.7" cy="367.5" rx="3.1" ry="2.9"/></g><rect x="567.9" y="355.9" width="55.7" height="55.80000000000001" fill="url(#gshadeL)"/><rect x="569.9" y="405.6" width="16.4" height="2.1" fill="#fff"/><text x="570.00" y="404.20" font-size="5.7" text-anchor="start" font-weight="bold" font-style="normal" fill="#fff" >20 nm</text><text x="574.10" y="366.70" font-size="7.4" text-anchor="start" font-weight="normal" font-style="normal" fill="#fff" >G<tspan dy="1.2" font-size="4.2">Au</tspan><tspan dy="-1.2" font-size="1">&#8203;</tspan> = 1.33 nm</text></g><rect x="567.9" y="355.9" width="55.7" height="55.80000000000001" fill="none" stroke="#e23a3e" stroke-width="1.7" stroke-dasharray="4.2,1.5"/><rect x="588.9" y="316" width="13.7" height="13" fill="none" stroke="#e23a3e" stroke-width="1.5" stroke-dasharray="3.3,1.3"/><line x1="588.9" y1="329" x2="568.2" y2="355.9" stroke="#e23a3e" stroke-width="1.7" stroke-dasharray="4,1.6"/><line x1="602.6" y1="329" x2="623.3" y2="355.9" stroke="#e23a3e" stroke-width="1.7" stroke-dasharray="4,1.6"/><g clip-path="url(#gt5)"><rect x="629" y="296.4" width="53.8" height="52.700000000000045" fill="#d0d0d0"/><rect x="629" y="296.4" width="53.8" height="52.700000000000045" fill="url(#gshadeT)"/><circle cx="655.3" cy="323.6" r="24.4" fill="#747474" filter="url(#gbl)"/><g clip-path="url(#gp5)"><rect x="630.3" y="298.6" width="50.0" height="50.0" filter="url(#gs5)" opacity="0.8"/><g stroke="#161616" stroke-width="0.9" stroke-opacity="0.48" filter="url(#gbl)"><line x1="644.5" y1="318.4" x2="635.0" y2="313.8"/><line x1="659.4" y1="338.3" x2="661.7" y2="346.1"/><line x1="649.7" y1="315.6" x2="642.6" y2="305.3"/><line x1="650.4" y1="332.9" x2="644.1" y2="344.6"/><line x1="664.1" y1="323.4" x2="678.8" y2="323.1"/><line x1="646.0" y1="316.6" x2="638.2" y2="310.7"/><line x1="649.7" y1="312.7" x2="644.9" y2="303.2"/><line x1="650.3" y1="315.5" x2="643.1" y2="303.9"/><line x1="671.7" y1="321.8" x2="677.8" y2="321.1"/><line x1="663.4" y1="325.9" x2="675.4" y2="329.3"/><line x1="665.5" y1="319.6" x2="675.5" y2="315.7"/><line x1="664.2" y1="317.0" x2="673.3" y2="310.2"/><line x1="647.1" y1="327.1" x2="634.6" y2="332.4"/><line x1="660.7" y1="315.5" x2="667.1" y2="306.0"/><line x1="647.9" y1="328.1" x2="636.4" y2="335.1"/><line x1="661.1" y1="310.9" x2="664.5" y2="303.3"/><line x1="661.2" y1="316.0" x2="669.1" y2="305.9"/><line x1="645.8" y1="333.2" x2="640.7" y2="338.4"/><line x1="656.8" y1="314.5" x2="658.7" y2="302.9"/><line x1="661.1" y1="308.3" x2="663.1" y2="303.1"/><line x1="646.3" y1="329.0" x2="637.0" y2="334.6"/><line x1="648.0" y1="316.9" x2="639.9" y2="309.6"/><line x1="645.9" y1="326.3" x2="633.4" y2="329.8"/><line x1="661.7" y1="310.1" x2="664.9" y2="303.6"/><line x1="648.4" y1="333.5" x2="643.6" y2="340.3"/><line x1="652.7" y1="312.7" x2="650.3" y2="302.6"/><line x1="666.0" y1="329.5" x2="675.0" y2="334.4"/><line x1="643.2" y1="333.6" x2="637.7" y2="338.1"/><line x1="656.0" y1="336.4" x2="656.6" y2="347.2"/><line x1="641.9" y1="321.9" x2="634.8" y2="321.0"/><line x1="643.1" y1="324.4" x2="633.5" y2="325.1"/><line x1="643.6" y1="330.0" x2="635.7" y2="334.3"/><line x1="645.5" y1="324.2" x2="633.4" y2="325.0"/><line x1="667.0" y1="321.3" x2="675.4" y2="319.6"/><line x1="668.2" y1="323.8" x2="675.9" y2="324.0"/><line x1="663.1" y1="328.7" x2="673.7" y2="335.7"/><line x1="667.8" y1="323.0" x2="677.3" y2="322.6"/><line x1="643.7" y1="328.5" x2="635.0" y2="332.1"/><line x1="652.9" y1="307.8" x2="651.9" y2="300.9"/><line x1="643.0" y1="330.0" x2="634.3" y2="334.6"/><line x1="661.2" y1="332.1" x2="668.2" y2="342.2"/><line x1="650.0" y1="310.9" x2="646.6" y2="302.8"/><line x1="661.2" y1="312.7" x2="666.5" y2="303.1"/><line x1="667.0" y1="320.8" x2="678.1" y2="318.1"/><line x1="652.2" y1="308.0" x2="651.2" y2="303.4"/><line x1="668.0" y1="315.9" x2="675.7" y2="311.2"/></g><circle cx="655.3" cy="323.6" r="24.0" fill="url(#gr5)"/><circle cx="655.3" cy="323.6" r="22.80" fill="none" stroke="#181818" stroke-width="2.8" stroke-dasharray="1.7,0.8" stroke-opacity="0.95" filter="url(#gbl)"/></g><rect x="630.8" y="345.2" width="15.8" height="1.9" fill="#fff"/><text x="630.60" y="344.20" font-size="5.7" text-anchor="start" font-weight="bold" font-style="normal" fill="#fff" >50 nm</text></g><text x="655.90" y="294.30" font-size="7.1" text-anchor="middle" font-weight="normal" font-style="normal" fill="#111" >SiO<tspan dy="1.1" font-size="4.3">2</tspan><tspan dy="-1.1" font-size="1">&#8203;</tspan>@Au@Au<tspan dy="1.1" font-size="4.3">11</tspan><tspan dy="-1.1" font-size="1">&#8203;</tspan></text><g clip-path="url(#gl5)"><rect x="628.5" y="355.9" width="55.7" height="55.80000000000001" fill="#969696"/><rect x="628.5" y="355.9" width="55.7" height="55.80000000000001" filter="url(#gw5L)" opacity="0.6"/><g fill="#3a3a3a" filter="url(#gblb5)"><ellipse cx="678.2" cy="375.1" rx="3.7" ry="3.7"/><ellipse cx="671.8" cy="374.2" rx="2.9" ry="2.8"/><ellipse cx="647.6" cy="398.3" rx="2.8" ry="2.6"/><ellipse cx="665.5" cy="375.2" rx="2.9" ry="2.6"/><ellipse cx="652.3" cy="377.2" rx="3.2" ry="3.1"/><ellipse cx="678.3" cy="408.1" rx="2.9" ry="2.9"/><ellipse cx="684.5" cy="390.3" rx="3.9" ry="3.7"/><ellipse cx="674.6" cy="385.3" rx="3.0" ry="3.0"/><ellipse cx="681.1" cy="412.7" rx="3.5" ry="3.2"/><ellipse cx="634.2" cy="402.5" rx="3.7" ry="3.5"/><ellipse cx="683.8" cy="397.5" rx="3.2" ry="2.7"/><ellipse cx="658.2" cy="384.1" rx="3.6" ry="3.9"/><ellipse cx="663.6" cy="402.6" rx="3.3" ry="3.5"/><ellipse cx="661.5" cy="410.6" rx="3.7" ry="3.7"/><ellipse cx="634.7" cy="379.1" rx="3.0" ry="3.3"/><ellipse cx="642.7" cy="362.2" rx="2.8" ry="2.5"/><ellipse cx="655.3" cy="400.1" rx="3.8" ry="4.1"/><ellipse cx="628.3" cy="366.0" rx="2.7" ry="2.5"/><ellipse cx="669.3" cy="381.0" rx="3.4" ry="3.7"/><ellipse cx="676.6" cy="392.9" rx="2.7" ry="3.0"/><ellipse cx="683.9" cy="370.4" rx="3.0" ry="3.1"/><ellipse cx="680.5" cy="383.3" rx="2.9" ry="3.1"/><ellipse cx="678.3" cy="368.5" rx="2.8" ry="2.5"/><ellipse cx="663.1" cy="370.5" rx="3.8" ry="3.9"/><ellipse cx="655.6" cy="394.4" rx="3.7" ry="4.1"/><ellipse cx="667.4" cy="398.9" rx="3.4" ry="3.5"/><ellipse cx="630.3" cy="398.1" rx="3.8" ry="3.3"/><ellipse cx="676.9" cy="398.3" rx="3.5" ry="3.3"/><ellipse cx="638.5" cy="392.1" rx="3.1" ry="3.0"/><ellipse cx="660.0" cy="375.1" rx="3.9" ry="3.7"/><ellipse cx="654.9" cy="356.4" rx="3.7" ry="3.2"/><ellipse cx="644.9" cy="380.9" rx="2.9" ry="2.8"/><ellipse cx="660.3" cy="359.0" rx="2.7" ry="2.3"/><ellipse cx="639.6" cy="405.7" rx="3.5" ry="3.2"/><ellipse cx="669.2" cy="360.2" rx="3.2" ry="2.8"/><ellipse cx="649.4" cy="409.7" rx="3.8" ry="3.7"/><ellipse cx="662.2" cy="388.2" rx="3.2" ry="3.2"/><ellipse cx="664.8" cy="393.9" rx="3.3" ry="2.9"/><ellipse cx="633.0" cy="384.6" rx="3.5" ry="3.0"/><ellipse cx="667.4" cy="411.4" rx="3.0" ry="2.6"/><ellipse cx="639.5" cy="375.6" rx="3.1" ry="2.8"/><ellipse cx="654.7" cy="412.7" rx="3.2" ry="2.7"/><ellipse cx="646.1" cy="373.4" rx="3.7" ry="3.4"/><ellipse cx="628.3" cy="358.7" rx="3.7" ry="3.4"/><ellipse cx="648.1" cy="389.1" rx="3.1" ry="3.0"/><ellipse cx="684.6" cy="355.7" rx="3.3" ry="3.0"/><ellipse cx="649.2" cy="362.4" rx="3.9" ry="4.1"/><ellipse cx="653.4" cy="365.6" rx="3.1" ry="3.3"/><ellipse cx="638.4" cy="386.4" rx="4.0" ry="3.7"/><ellipse cx="668.5" cy="387.5" rx="3.6" ry="3.5"/><ellipse cx="636.5" cy="357.5" rx="2.8" ry="2.9"/><ellipse cx="679.8" cy="358.0" rx="2.7" ry="2.8"/><ellipse cx="637.9" cy="398.9" rx="3.8" ry="3.3"/><ellipse cx="632.0" cy="371.5" rx="3.3" ry="3.3"/><ellipse cx="643.6" cy="401.9" rx="3.7" ry="4.0"/><ellipse cx="644.2" cy="356.1" rx="2.9" ry="2.9"/><ellipse cx="638.5" cy="412.7" rx="3.4" ry="3.4"/><ellipse cx="627.9" cy="386.2" rx="3.5" ry="3.1"/><ellipse cx="628.0" cy="377.9" rx="3.8" ry="4.1"/><ellipse cx="631.3" cy="412.6" rx="3.0" ry="3.1"/><ellipse cx="673.5" cy="403.9" rx="3.6" ry="3.2"/><ellipse cx="671.8" cy="395.3" rx="3.7" ry="3.5"/><ellipse cx="684.8" cy="378.0" rx="3.4" ry="3.5"/><ellipse cx="632.0" cy="393.1" rx="3.7" ry="3.8"/><ellipse cx="651.1" cy="384.2" rx="3.4" ry="3.0"/><ellipse cx="644.2" cy="368.1" rx="3.3" ry="3.3"/><ellipse cx="638.4" cy="370.0" rx="3.1" ry="2.9"/><ellipse cx="685.2" cy="404.6" rx="3.9" ry="4.1"/><ellipse cx="682.3" cy="364.5" rx="3.2" ry="3.3"/><ellipse cx="672.8" cy="365.0" rx="3.9" ry="4.3"/><ellipse cx="657.3" cy="406.4" rx="2.9" ry="2.7"/><ellipse cx="662.7" cy="381.0" rx="3.5" ry="3.3"/><ellipse cx="648.9" cy="404.5" rx="2.9" ry="2.8"/><ellipse cx="670.9" cy="355.0" rx="3.7" ry="3.7"/><ellipse cx="649.5" cy="357.1" rx="2.8" ry="2.7"/><ellipse cx="628.6" cy="405.9" rx="2.9" ry="3.1"/><ellipse cx="668.3" cy="405.7" rx="3.6" ry="3.2"/><ellipse cx="635.4" cy="363.8" rx="3.6" ry="4.0"/><ellipse cx="659.8" cy="364.5" rx="3.3" ry="3.0"/><ellipse cx="672.8" cy="411.0" rx="3.5" ry="3.0"/><ellipse cx="664.2" cy="355.1" rx="3.9" ry="4.1"/><ellipse cx="667.5" cy="367.5" rx="3.5" ry="3.3"/><ellipse cx="655.0" cy="389.2" rx="3.7" ry="3.2"/><ellipse cx="642.4" cy="395.7" rx="3.4" ry="3.3"/><ellipse cx="644.0" cy="408.3" rx="3.0" ry="2.7"/><ellipse cx="642.7" cy="389.3" rx="3.5" ry="3.1"/><ellipse cx="657.3" cy="370.0" rx="3.0" ry="3.2"/><ellipse cx="674.6" cy="358.7" rx="3.0" ry="3.0"/><ellipse cx="631.9" cy="355.0" rx="3.8" ry="4.0"/><ellipse cx="650.5" cy="370.7" rx="3.5" ry="3.4"/><ellipse cx="680.0" cy="403.0" rx="3.3" ry="3.2"/><ellipse cx="674.7" cy="379.3" rx="3.2" ry="3.0"/><ellipse cx="660.5" cy="396.6" rx="2.7" ry="2.8"/><ellipse cx="639.6" cy="381.0" rx="3.4" ry="3.1"/><ellipse cx="650.3" cy="393.8" rx="3.1" ry="2.9"/><ellipse cx="664.5" cy="362.5" rx="3.3" ry="3.3"/><ellipse cx="679.0" cy="388.3" rx="2.7" ry="2.8"/><ellipse cx="634.7" cy="408.5" rx="3.0" ry="2.6"/></g><rect x="628.5" y="355.9" width="55.7" height="55.80000000000001" fill="url(#gshadeL)"/><rect x="630.5" y="405.6" width="16.4" height="2.1" fill="#fff"/><text x="630.60" y="404.20" font-size="5.7" text-anchor="start" font-weight="bold" font-style="normal" fill="#fff" >20 nm</text><text x="634.70" y="366.70" font-size="7.4" text-anchor="start" font-weight="normal" font-style="normal" fill="#fff" >G<tspan dy="1.2" font-size="4.2">Au</tspan><tspan dy="-1.2" font-size="1">&#8203;</tspan> = 1.20 nm</text></g><rect x="628.5" y="355.9" width="55.7" height="55.80000000000001" fill="none" stroke="#e23a3e" stroke-width="1.7" stroke-dasharray="4.2,1.5"/><rect x="648.4" y="316" width="13.3" height="13" fill="none" stroke="#e23a3e" stroke-width="1.5" stroke-dasharray="3.3,1.3"/><line x1="648.4" y1="329" x2="628.8" y2="355.9" stroke="#e23a3e" stroke-width="1.7" stroke-dasharray="4,1.6"/><line x1="661.7" y1="329" x2="683.9" y2="355.9" stroke="#e23a3e" stroke-width="1.7" stroke-dasharray="4,1.6"/><g stroke="#fff" stroke-width="1.3" stroke-linecap="round" stroke-linejoin="round"><line x1="351.70" y1="376.50" x2="359.70" y2="387.20"/><polyline points="355.04,385.81 359.70,387.20 359.69,382.34" fill="none"/><line x1="371.20" y1="399.80" x2="362.70" y2="390.70"/><polyline points="367.48,391.57 362.70,390.70 363.24,395.53" fill="none"/><line x1="420.40" y1="370.10" x2="429.50" y2="380.40"/><polyline points="424.74,379.40 429.50,380.40 429.09,375.56" fill="none"/><line x1="439.80" y1="391.80" x2="431.80" y2="382.70"/><polyline points="436.55,383.71 431.80,382.70 432.20,387.54" fill="none"/><line x1="453.90" y1="381.50" x2="469.90" y2="381.50"/><polyline points="466.00,384.40 469.90,381.50 466.00,378.60" fill="none"/><line x1="470.50" y1="384.40" x2="470.50" y2="378.60"/><line x1="491.20" y1="381.50" x2="474.70" y2="381.50"/><polyline points="478.60,378.60 474.70,381.50 478.60,384.40" fill="none"/><line x1="474.10" y1="378.60" x2="474.10" y2="384.40"/><line x1="539.20" y1="371.20" x2="552.30" y2="381.50"/><polyline points="547.44,381.37 552.30,381.50 551.03,376.81" fill="none"/><line x1="550.98" y1="384.15" x2="554.56" y2="379.59"/><line x1="563.30" y1="389.50" x2="555.20" y2="384.30"/><polyline points="560.05,383.97 555.20,384.30 556.92,388.85" fill="none"/><line x1="556.26" y1="381.54" x2="553.13" y2="386.42"/><line x1="595.30" y1="382.70" x2="607.90" y2="382.70"/><polyline points="604.00,385.60 607.90,382.70 604.00,379.80" fill="none"/><line x1="608.50" y1="385.60" x2="608.50" y2="379.80"/><line x1="621.00" y1="382.70" x2="612.50" y2="382.70"/><polyline points="616.40,379.80 612.50,382.70 616.40,385.60" fill="none"/><line x1="611.90" y1="379.80" x2="611.90" y2="385.60"/><line x1="652.50" y1="374.60" x2="665.10" y2="383.80"/><polyline points="660.24,383.84 665.10,383.80 663.66,379.16" fill="none"/><line x1="663.87" y1="386.50" x2="667.29" y2="381.81"/><line x1="678.80" y1="396.40" x2="668.10" y2="386.10"/><polyline points="672.92,386.72 668.10,386.10 668.90,390.89" fill="none"/><line x1="669.68" y1="383.59" x2="665.66" y2="387.77"/></g><text x="305.80" y="301.00" font-size="14" text-anchor="start" font-weight="bold" font-style="normal" fill="#000" >g</text><g id="charts"><clipPath id="clipc"><rect x="39" y="160.1" width="129.3" height="94.80000000000001"/></clipPath><g clip-path="url(#clipc)"><path d="M39.00,220.95C41.67,221.01 49.69,221.29 55.03,221.36C60.37,221.43 65.72,221.61 71.06,221.36C76.40,221.11 81.75,220.81 87.09,219.86C92.43,218.92 97.78,217.36 103.12,215.70C108.46,214.03 114.34,211.60 119.15,209.87C123.96,208.13 128.77,206.44 131.97,205.28C135.18,204.13 136.68,203.44 138.39,202.95C140.10,202.47 140.90,202.12 142.23,202.37C143.57,202.62 144.90,202.86 146.40,204.45C147.90,206.05 149.61,209.03 151.21,211.95C152.81,214.86 154.42,218.89 156.02,221.94C157.62,225.00 158.96,227.43 160.83,230.28C162.70,233.12 166.17,237.56 167.24,239.02" fill="none" stroke="#f04f5c" stroke-width="1.5" stroke-linejoin="round"/><path d="M39.00,225.28C41.67,225.39 49.69,225.80 55.03,225.94C60.37,226.08 65.72,226.39 71.06,226.11C76.40,225.83 81.75,225.53 87.09,224.28C92.43,223.03 98.58,220.22 103.12,218.61C107.66,217.00 111.40,215.45 114.34,214.61C117.28,213.78 118.99,213.43 120.75,213.62C122.52,213.80 123.32,214.03 124.92,215.70C126.52,217.36 128.66,221.11 130.37,223.61C132.08,226.11 133.31,228.40 135.18,230.69C137.05,232.98 138.92,235.27 141.59,237.36C144.26,239.44 146.94,241.42 151.21,243.19C155.48,244.95 164.57,247.14 167.24,247.93" fill="none" stroke="#f0a444" stroke-width="1.5" stroke-linejoin="round"/><path d="M39.00,233.61C41.67,233.77 49.69,234.41 55.03,234.61C60.37,234.80 65.72,234.94 71.06,234.77C76.40,234.61 82.28,234.36 87.09,233.61C91.90,232.86 96.60,231.00 99.91,230.28C103.23,229.55 104.94,229.28 106.97,229.28C109.00,229.28 110.33,229.28 112.10,230.28C113.86,231.27 115.57,233.40 117.55,235.27C119.52,237.15 121.55,239.74 123.96,241.52C126.36,243.30 128.50,244.76 131.97,245.94C135.45,247.12 138.92,247.91 144.80,248.60C150.68,249.30 163.50,249.85 167.24,250.10" fill="none" stroke="#2fb150" stroke-width="1.5" stroke-linejoin="round"/><path d="M39.00,240.10C41.67,240.30 49.69,241.03 55.03,241.27C60.37,241.51 65.72,241.58 71.06,241.52C76.40,241.46 82.28,241.28 87.09,240.94C91.90,240.59 96.98,239.69 99.91,239.44C102.85,239.19 102.85,239.09 104.72,239.44C106.59,239.79 108.73,240.41 111.14,241.52C113.54,242.63 116.21,244.85 119.15,246.10C122.09,247.35 125.03,248.32 128.77,249.02C132.51,249.71 135.18,249.99 141.59,250.27C148.00,250.54 162.97,250.61 167.24,250.68" fill="none" stroke="#8ef0f8" stroke-width="1.5" stroke-linejoin="round"/><path d="M39.00,244.77C41.67,244.88 49.69,245.28 55.03,245.44C60.37,245.59 65.18,245.71 71.06,245.69C76.94,245.66 85.22,245.42 90.30,245.27C95.37,245.12 98.58,244.70 101.52,244.77C104.46,244.84 105.52,245.16 107.93,245.69C110.33,246.21 113.01,247.24 115.94,247.93C118.88,248.63 121.29,249.39 125.56,249.85C129.84,250.31 134.65,250.50 141.59,250.68C148.54,250.86 162.97,250.89 167.24,250.93" fill="none" stroke="#3a7ccc" stroke-width="1.5" stroke-linejoin="round"/><path d="M39.00,247.77C41.67,247.84 49.69,248.09 55.03,248.18C60.37,248.28 65.18,248.36 71.06,248.35C76.94,248.34 85.22,248.20 90.30,248.10C95.37,248.00 98.58,247.73 101.52,247.77C104.46,247.81 105.52,248.05 107.93,248.35C110.33,248.66 113.01,249.23 115.94,249.60C118.88,249.98 121.29,250.35 125.56,250.60C129.84,250.85 134.65,250.99 141.59,251.10C148.54,251.21 162.97,251.24 167.24,251.27" fill="none" stroke="#2a2aa0" stroke-width="1.5" stroke-linejoin="round"/></g><rect x="39" y="160.1" width="129.3" height="94.80000000000001" fill="none" stroke="#111" stroke-width="0.9"/><line x1="39.0" y1="254.9" x2="39.0" y2="256.9" stroke="#111" stroke-width="0.7"/><text x="39.00" y="264.90" font-size="6.3" text-anchor="middle" font-weight="normal" font-style="normal" fill="#111" >400</text><line x1="71.06" y1="254.9" x2="71.06" y2="256.9" stroke="#111" stroke-width="0.7"/><text x="71.06" y="264.90" font-size="6.3" text-anchor="middle" font-weight="normal" font-style="normal" fill="#111" >500</text><line x1="103.12" y1="254.9" x2="103.12" y2="256.9" stroke="#111" stroke-width="0.7"/><text x="103.12" y="264.90" font-size="6.3" text-anchor="middle" font-weight="normal" font-style="normal" fill="#111" >600</text><line x1="135.18" y1="254.9" x2="135.18" y2="256.9" stroke="#111" stroke-width="0.7"/><text x="135.18" y="264.90" font-size="6.3" text-anchor="middle" font-weight="normal" font-style="normal" fill="#111" >700</text><line x1="167.24" y1="254.9" x2="167.24" y2="256.9" stroke="#111" stroke-width="0.7"/><text x="167.24" y="264.90" font-size="6.3" text-anchor="middle" font-weight="normal" font-style="normal" fill="#111" >800</text><line x1="37" y1="251.1" x2="39" y2="251.1" stroke="#111" stroke-width="0.7"/><text x="35.50" y="253.37" font-size="6.3" text-anchor="end" font-weight="normal" font-style="normal" fill="#111" >0</text><line x1="37" y1="234.44" x2="39" y2="234.44" stroke="#111" stroke-width="0.7"/><text x="35.50" y="236.71" font-size="6.3" text-anchor="end" font-weight="normal" font-style="normal" fill="#111" >2</text><line x1="37" y1="217.78" x2="39" y2="217.78" stroke="#111" stroke-width="0.7"/><text x="35.50" y="220.05" font-size="6.3" text-anchor="end" font-weight="normal" font-style="normal" fill="#111" >4</text><line x1="37" y1="201.12" x2="39" y2="201.12" stroke="#111" stroke-width="0.7"/><text x="35.50" y="203.39" font-size="6.3" text-anchor="end" font-weight="normal" font-style="normal" fill="#111" >6</text><line x1="37" y1="184.45999999999998" x2="39" y2="184.45999999999998" stroke="#111" stroke-width="0.7"/><text x="35.50" y="186.73" font-size="6.3" text-anchor="end" font-weight="normal" font-style="normal" fill="#111" >8</text><line x1="37" y1="167.8" x2="39" y2="167.8" stroke="#111" stroke-width="0.7"/><text x="35.50" y="170.07" font-size="6.3" text-anchor="end" font-weight="normal" font-style="normal" fill="#111" >10</text><text x="103.60" y="274.80" font-size="8.2" text-anchor="middle" font-weight="normal" font-style="normal" fill="#111" >Wavelength (nm)</text><text transform="translate(25.0,213.5) rotate(-90)" font-size="8.1" text-anchor="middle" fill="#111">Abs. cross section (x 10<tspan dy="-3" font-size="5">-14</tspan><tspan dy="3" font-size="1">&#8203;</tspan> m<tspan dy="-3" font-size="5">2</tspan><tspan dy="3" font-size="1">&#8203;</tspan>)</text><line x1="43" y1="165" x2="55.8" y2="165" stroke="#f04f5c" stroke-width="1.5"/><text x="56.50" y="166.80" font-size="5" text-anchor="start" font-weight="normal" font-style="normal" fill="#111" >G<tspan dy="0.8" font-size="3">Au</tspan><tspan dy="-0.8" font-size="1">&#8203;</tspan> = 1 nm</text><line x1="43" y1="173" x2="55.8" y2="173" stroke="#f0a444" stroke-width="1.5"/><text x="56.50" y="174.80" font-size="5" text-anchor="start" font-weight="normal" font-style="normal" fill="#111" >G<tspan dy="0.8" font-size="3">Au</tspan><tspan dy="-0.8" font-size="1">&#8203;</tspan> = 2 nm</text><line x1="43" y1="181.25" x2="55.8" y2="181.25" stroke="#2fb150" stroke-width="1.5"/><text x="56.50" y="183.05" font-size="5" text-anchor="start" font-weight="normal" font-style="normal" fill="#111" >G<tspan dy="0.8" font-size="3">Au</tspan><tspan dy="-0.8" font-size="1">&#8203;</tspan> = 4 nm</text><line x1="43" y1="189.5" x2="55.8" y2="189.5" stroke="#8ef0f8" stroke-width="1.5"/><text x="56.50" y="191.30" font-size="5" text-anchor="start" font-weight="normal" font-style="normal" fill="#111" >G<tspan dy="0.8" font-size="3">Au</tspan><tspan dy="-0.8" font-size="1">&#8203;</tspan> = 6 nm</text><line x1="43" y1="197.5" x2="55.8" y2="197.5" stroke="#3a7ccc" stroke-width="1.5"/><text x="56.50" y="199.30" font-size="5" text-anchor="start" font-weight="normal" font-style="normal" fill="#111" >G<tspan dy="0.8" font-size="3">Au</tspan><tspan dy="-0.8" font-size="1">&#8203;</tspan> = 8 nm</text><line x1="43" y1="205.5" x2="55.8" y2="205.5" stroke="#2a2aa0" stroke-width="1.5"/><text x="56.50" y="207.30" font-size="5" text-anchor="start" font-weight="normal" font-style="normal" fill="#111" >G<tspan dy="0.8" font-size="3">Au</tspan><tspan dy="-0.8" font-size="1">&#8203;</tspan> = 10 nm</text><text x="-0.30" y="158.00" font-size="14" text-anchor="start" font-weight="bold" font-style="normal" fill="#000" >c</text><polyline points="561.54,241.32 586.21,238.14 609.80,230.93 633.40,216.52 658.06,190.86 670.94,176.66" fill="none" stroke="#1060f0" stroke-width="1.7" stroke-linejoin="round"/><polyline points="561.54,242.17 586.21,239.84 609.80,236.23 633.40,230.72 658.06,223.72 670.94,218.85" fill="none" stroke="#f07078" stroke-width="1.7" stroke-linejoin="round"/><circle cx="561.54" cy="241.32" r="2.1" fill="#fff" stroke="#1060f0" stroke-width="0.9"/><circle cx="586.21" cy="238.14" r="2.1" fill="#fff" stroke="#1060f0" stroke-width="0.9"/><circle cx="609.80" cy="230.93" r="2.1" fill="#fff" stroke="#1060f0" stroke-width="0.9"/><circle cx="633.40" cy="216.52" r="2.1" fill="#fff" stroke="#1060f0" stroke-width="0.9"/><circle cx="658.06" cy="190.86" r="2.1" fill="#fff" stroke="#1060f0" stroke-width="0.9"/><circle cx="670.94" cy="176.66" r="2.1" fill="#fff" stroke="#1060f0" stroke-width="0.9"/><circle cx="561.54" cy="242.17" r="2.1" fill="#fff" stroke="#f07078" stroke-width="0.9"/><circle cx="586.21" cy="239.84" r="2.1" fill="#fff" stroke="#f07078" stroke-width="0.9"/><circle cx="609.80" cy="236.23" r="2.1" fill="#fff" stroke="#f07078" stroke-width="0.9"/><circle cx="633.40" cy="230.72" r="2.1" fill="#fff" stroke="#f07078" stroke-width="0.9"/><circle cx="658.06" cy="223.72" r="2.1" fill="#fff" stroke="#f07078" stroke-width="0.9"/><circle cx="670.94" cy="218.85" r="2.1" fill="#fff" stroke="#f07078" stroke-width="0.9"/><rect x="552.3" y="159.6" width="128.10000000000002" height="95.20000000000002" fill="none" stroke="#111" stroke-width="0.9"/><line x1="557.25" y1="254.8" x2="557.25" y2="256.8" stroke="#111" stroke-width="0.7"/><text x="557.25" y="264.30" font-size="6.3" text-anchor="middle" font-weight="normal" font-style="normal" fill="#111" >8</text><line x1="578.7" y1="254.8" x2="578.7" y2="256.8" stroke="#111" stroke-width="0.7"/><text x="578.70" y="264.30" font-size="6.3" text-anchor="middle" font-weight="normal" font-style="normal" fill="#111" >10</text><line x1="600.15" y1="254.8" x2="600.15" y2="256.8" stroke="#111" stroke-width="0.7"/><text x="600.15" y="264.30" font-size="6.3" text-anchor="middle" font-weight="normal" font-style="normal" fill="#111" >12</text><line x1="621.6" y1="254.8" x2="621.6" y2="256.8" stroke="#111" stroke-width="0.7"/><text x="621.60" y="264.30" font-size="6.3" text-anchor="middle" font-weight="normal" font-style="normal" fill="#111" >14</text><line x1="643.05" y1="254.8" x2="643.05" y2="256.8" stroke="#111" stroke-width="0.7"/><text x="643.05" y="264.30" font-size="6.3" text-anchor="middle" font-weight="normal" font-style="normal" fill="#111" >16</text><line x1="664.5" y1="254.8" x2="664.5" y2="256.8" stroke="#111" stroke-width="0.7"/><text x="664.50" y="264.30" font-size="6.3" text-anchor="middle" font-weight="normal" font-style="normal" fill="#111" >18</text><line x1="550.3" y1="244.5" x2="552.3" y2="244.5" stroke="#111" stroke-width="0.7"/><text x="548.80" y="246.77" font-size="6.3" text-anchor="end" font-weight="normal" font-style="normal" fill="#111" >0</text><line x1="550.3" y1="223.3" x2="552.3" y2="223.3" stroke="#111" stroke-width="0.7"/><text x="548.80" y="225.57" font-size="6.3" text-anchor="end" font-weight="normal" font-style="normal" fill="#111" >1</text><line x1="550.3" y1="202.1" x2="552.3" y2="202.1" stroke="#111" stroke-width="0.7"/><text x="548.80" y="204.37" font-size="6.3" text-anchor="end" font-weight="normal" font-style="normal" fill="#111" >2</text><line x1="550.3" y1="180.9" x2="552.3" y2="180.9" stroke="#111" stroke-width="0.7"/><text x="548.80" y="183.17" font-size="6.3" text-anchor="end" font-weight="normal" font-style="normal" fill="#111" >3</text><line x1="550.3" y1="159.7" x2="552.3" y2="159.7" stroke="#111" stroke-width="0.7"/><text x="548.80" y="161.97" font-size="6.3" text-anchor="end" font-weight="normal" font-style="normal" fill="#111" >4</text><text x="616.20" y="272.20" font-size="8.15" text-anchor="middle" font-weight="normal" font-style="normal" fill="#111" >AuNP diameter (nm)</text><text transform="translate(541.5,207) rotate(-90)" font-size="8.3" text-anchor="middle" fill="#111">Abs. cross section (x 10<tspan dy="-3" font-size="5">-16</tspan><tspan dy="3" font-size="1">&#8203;</tspan> m<tspan dy="-3" font-size="5">2</tspan><tspan dy="3" font-size="1">&#8203;</tspan>)</text><line x1="557" y1="166" x2="569.5" y2="166" stroke="#1060f0" stroke-width="1.5"/><circle cx="563.25" cy="166" r="2" fill="#fff" stroke="#1060f0" stroke-width="0.9"/><text x="570.80" y="167.80" font-size="5.1" text-anchor="start" font-weight="normal" font-style="normal" fill="#111" >Assembled structure</text><line x1="557" y1="172" x2="569.5" y2="172" stroke="#f07078" stroke-width="1.5"/><circle cx="563.25" cy="172" r="2" fill="#fff" stroke="#f07078" stroke-width="0.9"/><text x="570.80" y="173.80" font-size="5.1" text-anchor="start" font-weight="normal" font-style="normal" fill="#111" >Single AuNP</text><text x="518.50" y="157.50" font-size="14" text-anchor="start" font-weight="bold" font-style="normal" fill="#000" >e</text><clipPath id="cliph"><rect x="28.5" y="428.7" width="129.0" height="95.40000000000003"/></clipPath><g clip-path="url(#cliph)"><path d="M28.50,516.63C30.11,516.67 34.95,516.80 38.17,516.83C41.40,516.86 45.16,516.86 47.85,516.83C50.54,516.80 52.15,516.80 54.30,516.63C56.45,516.47 58.60,516.08 60.75,515.85C62.90,515.62 65.05,515.23 67.20,515.27C69.35,515.30 70.96,515.49 73.65,516.05C76.34,516.60 80.10,517.84 83.33,518.59C86.55,519.34 88.70,520.02 93.00,520.54C97.30,521.07 98.38,521.46 109.12,521.72C119.88,521.98 149.44,522.04 157.50,522.11" fill="none" stroke="#1f3060" stroke-width="1.5" stroke-linejoin="round"/><path d="M28.50,509.60C30.11,509.73 34.95,510.25 38.17,510.38C41.40,510.51 45.16,510.51 47.85,510.38C50.54,510.25 52.15,510.05 54.30,509.60C56.45,509.14 58.60,508.36 60.75,507.64C62.90,506.93 65.48,505.78 67.20,505.30C68.92,504.81 69.46,504.51 71.07,504.71C72.68,504.90 74.83,505.46 76.88,506.47C78.92,507.48 80.64,509.21 83.33,510.77C86.01,512.33 89.24,514.42 93.00,515.85C96.76,517.29 100.53,518.52 105.90,519.37C111.28,520.22 116.65,520.55 125.25,520.94C133.85,521.33 152.12,521.59 157.50,521.72" fill="none" stroke="#3272c8" stroke-width="1.5" stroke-linejoin="round"/><path d="M28.50,502.17C30.11,502.30 34.95,502.82 38.17,502.95C41.40,503.08 45.16,503.28 47.85,502.95C50.54,502.62 52.15,501.97 54.30,501.00C56.45,500.02 58.60,498.39 60.75,497.08C62.90,495.78 65.05,494.15 67.20,493.18C69.35,492.20 71.77,491.29 73.65,491.22C75.53,491.15 76.61,491.48 78.49,492.78C80.37,494.09 82.52,496.69 84.94,499.04C87.36,501.39 90.04,504.38 93.00,506.86C95.96,509.34 99.45,512.14 102.67,513.90C105.90,515.66 108.59,516.50 112.35,517.42C116.11,518.33 117.72,518.79 125.25,519.37C132.78,519.96 152.12,520.68 157.50,520.94" fill="none" stroke="#70e8f8" stroke-width="1.5" stroke-linejoin="round"/><path d="M28.50,496.69C30.11,496.89 34.95,497.67 38.17,497.87C41.40,498.06 45.16,498.19 47.85,497.87C50.54,497.54 52.15,497.02 54.30,495.91C56.45,494.80 58.60,492.98 60.75,491.22C62.90,489.46 65.05,486.98 67.20,485.36C69.35,483.73 71.93,482.23 73.65,481.44C75.37,480.66 76.02,480.34 77.52,480.66C79.03,480.99 80.64,481.38 82.68,483.40C84.72,485.42 86.98,489.26 89.78,492.78C92.57,496.30 96.23,501.39 99.45,504.51C102.67,507.64 104.83,509.40 109.12,511.55C113.42,513.70 119.88,516.11 125.25,517.42C130.62,518.72 136.00,518.92 141.38,519.37C146.75,519.83 154.81,520.02 157.50,520.15" fill="none" stroke="#22b040" stroke-width="1.5" stroke-linejoin="round"/><path d="M28.50,490.83C30.11,491.09 34.95,492.07 38.17,492.39C41.40,492.72 45.16,492.98 47.85,492.78C50.54,492.59 52.15,492.20 54.30,491.22C56.45,490.24 58.60,488.87 60.75,486.92C62.90,484.96 65.05,482.03 67.20,479.49C69.35,476.95 71.61,473.76 73.65,471.67C75.69,469.58 78.00,467.83 79.45,466.98C80.91,466.13 81.07,466.07 82.36,466.59C83.65,467.11 85.42,467.96 87.19,470.11C88.97,472.26 90.96,475.97 93.00,479.49C95.04,483.01 96.76,487.31 99.45,491.22C102.14,495.13 104.83,499.37 109.12,502.95C113.42,506.53 119.88,510.44 125.25,512.73C130.62,515.01 136.00,515.66 141.38,516.63C146.75,517.61 154.81,518.26 157.50,518.59" fill="none" stroke="#f0a444" stroke-width="1.5" stroke-linejoin="round"/><path d="M28.50,482.23C30.11,482.62 34.95,484.05 38.17,484.57C41.40,485.09 45.16,485.42 47.85,485.36C50.54,485.29 52.15,485.16 54.30,484.18C56.45,483.20 58.60,481.90 60.75,479.49C62.90,477.08 65.05,473.30 67.20,469.71C69.35,466.13 71.50,461.31 73.65,457.99C75.80,454.66 78.33,451.47 80.10,449.77C81.87,448.08 82.79,447.56 84.29,447.82C85.80,448.08 87.41,448.67 89.13,451.34C90.85,454.01 92.62,459.16 94.61,463.85C96.60,468.54 98.64,474.41 101.06,479.49C103.48,484.57 106.17,490.18 109.12,494.35C112.08,498.52 115.57,501.97 118.80,504.51C122.03,507.06 124.71,508.03 128.48,509.60C132.24,511.16 136.54,512.66 141.38,513.90C146.21,515.14 154.81,516.50 157.50,517.03" fill="none" stroke="#f0434f" stroke-width="1.5" stroke-linejoin="round"/></g><rect x="28.5" y="428.7" width="129.0" height="95.40000000000003" fill="none" stroke="#111" stroke-width="0.9"/><line x1="28.5" y1="524.1" x2="28.5" y2="526.1" stroke="#111" stroke-width="0.7"/><text x="28.50" y="532.70" font-size="6.3" text-anchor="middle" font-weight="normal" font-style="normal" fill="#111" >400</text><line x1="60.75" y1="524.1" x2="60.75" y2="526.1" stroke="#111" stroke-width="0.7"/><text x="60.75" y="532.70" font-size="6.3" text-anchor="middle" font-weight="normal" font-style="normal" fill="#111" >500</text><line x1="93.0" y1="524.1" x2="93.0" y2="526.1" stroke="#111" stroke-width="0.7"/><text x="93.00" y="532.70" font-size="6.3" text-anchor="middle" font-weight="normal" font-style="normal" fill="#111" >600</text><line x1="125.25" y1="524.1" x2="125.25" y2="526.1" stroke="#111" stroke-width="0.7"/><text x="125.25" y="532.70" font-size="6.3" text-anchor="middle" font-weight="normal" font-style="normal" fill="#111" >700</text><line x1="157.5" y1="524.1" x2="157.5" y2="526.1" stroke="#111" stroke-width="0.7"/><text x="157.50" y="532.70" font-size="6.3" text-anchor="middle" font-weight="normal" font-style="normal" fill="#111" >800</text><line x1="26.5" y1="522.5" x2="28.5" y2="522.5" stroke="#111" stroke-width="0.7"/><text x="25.30" y="524.77" font-size="6.3" text-anchor="end" font-weight="normal" font-style="normal" fill="#111" >0.0</text><line x1="26.5" y1="502.95" x2="28.5" y2="502.95" stroke="#111" stroke-width="0.7"/><text x="25.30" y="505.22" font-size="6.3" text-anchor="end" font-weight="normal" font-style="normal" fill="#111" >0.5</text><line x1="26.5" y1="483.4" x2="28.5" y2="483.4" stroke="#111" stroke-width="0.7"/><text x="25.30" y="485.67" font-size="6.3" text-anchor="end" font-weight="normal" font-style="normal" fill="#111" >1.0</text><line x1="26.5" y1="463.85" x2="28.5" y2="463.85" stroke="#111" stroke-width="0.7"/><text x="25.30" y="466.12" font-size="6.3" text-anchor="end" font-weight="normal" font-style="normal" fill="#111" >1.5</text><line x1="26.5" y1="444.3" x2="28.5" y2="444.3" stroke="#111" stroke-width="0.7"/><text x="25.30" y="446.57" font-size="6.3" text-anchor="end" font-weight="normal" font-style="normal" fill="#111" >2.0</text><text x="93.00" y="543.00" font-size="8.3" text-anchor="middle" font-weight="normal" font-style="normal" fill="#111" >Wavelength (nm)</text><text transform="translate(12.3,481.5) rotate(-90)" font-size="8.3" text-anchor="middle" fill="#111">Extinction (arb. units)</text><line x1="106.2" y1="434" x2="118.8" y2="434" stroke="#f0434f" stroke-width="1.5"/><text x="119.80" y="435.80" font-size="5.1" text-anchor="start" font-weight="normal" font-style="normal" fill="#111" >SiO<tspan dy="0.9" font-size="3.3">2</tspan><tspan dy="-0.9" font-size="1">&#8203;</tspan>@Au@Au<tspan dy="0.9" font-size="3.3">11</tspan><tspan dy="-0.9" font-size="1">&#8203;</tspan></text><line x1="106.2" y1="442" x2="118.8" y2="442" stroke="#f0a444" stroke-width="1.5"/><text x="119.80" y="443.80" font-size="5.1" text-anchor="start" font-weight="normal" font-style="normal" fill="#111" >SiO<tspan dy="0.9" font-size="3.3">2</tspan><tspan dy="-0.9" font-size="1">&#8203;</tspan>@Au@Au<tspan dy="0.9" font-size="3.3">9</tspan><tspan dy="-0.9" font-size="1">&#8203;</tspan></text><line x1="106.2" y1="450" x2="118.8" y2="450" stroke="#22b040" stroke-width="1.5"/><text x="119.80" y="451.80" font-size="5.1" text-anchor="start" font-weight="normal" font-style="normal" fill="#111" >SiO<tspan dy="0.9" font-size="3.3">2</tspan><tspan dy="-0.9" font-size="1">&#8203;</tspan>@Au@Au<tspan dy="0.9" font-size="3.3">7</tspan><tspan dy="-0.9" font-size="1">&#8203;</tspan></text><line x1="106.2" y1="458" x2="118.8" y2="458" stroke="#70e8f8" stroke-width="1.5"/><text x="119.80" y="459.80" font-size="5.1" text-anchor="start" font-weight="normal" font-style="normal" fill="#111" >SiO<tspan dy="0.9" font-size="3.3">2</tspan><tspan dy="-0.9" font-size="1">&#8203;</tspan>@Au@Au<tspan dy="0.9" font-size="3.3">5</tspan><tspan dy="-0.9" font-size="1">&#8203;</tspan></text><line x1="106.2" y1="466" x2="118.8" y2="466" stroke="#3272c8" stroke-width="1.5"/><text x="119.80" y="467.80" font-size="5.1" text-anchor="start" font-weight="normal" font-style="normal" fill="#111" >SiO<tspan dy="0.9" font-size="3.3">2</tspan><tspan dy="-0.9" font-size="1">&#8203;</tspan>@Au@Au<tspan dy="0.9" font-size="3.3">3</tspan><tspan dy="-0.9" font-size="1">&#8203;</tspan></text><line x1="106.2" y1="474" x2="118.8" y2="474" stroke="#1f3060" stroke-width="1.5"/><text x="119.80" y="475.80" font-size="5.1" text-anchor="start" font-weight="normal" font-style="normal" fill="#111" >SiO<tspan dy="0.9" font-size="3.3">2</tspan><tspan dy="-0.9" font-size="1">&#8203;</tspan>@Au@Au<tspan dy="0.9" font-size="3.3">1</tspan><tspan dy="-0.9" font-size="1">&#8203;</tspan></text><text x="-0.50" y="438.80" font-size="14" text-anchor="start" font-weight="bold" font-style="normal" fill="#000" >h</text><polyline points="217.50,518.26 239.00,511.28 260.25,465.00 281.75,445.78 303.25,442.22 325.00,435.28" fill="none" stroke="#1060f0" stroke-width="1.7" stroke-linejoin="round"/><circle cx="217.50" cy="518.26" r="2.2" fill="#9aa2b2" stroke="#1060f0" stroke-width="0.9"/><line x1="216.30" y1="518.26" x2="218.70" y2="518.26" stroke="#333" stroke-width="0.5"/><line x1="217.50" y1="517.06" x2="217.50" y2="519.46" stroke="#333" stroke-width="0.5"/><circle cx="239.00" cy="511.28" r="2.2" fill="#9aa2b2" stroke="#1060f0" stroke-width="0.9"/><line x1="237.80" y1="511.28" x2="240.20" y2="511.28" stroke="#333" stroke-width="0.5"/><line x1="239.00" y1="510.08" x2="239.00" y2="512.48" stroke="#333" stroke-width="0.5"/><circle cx="260.25" cy="465.00" r="2.2" fill="#9aa2b2" stroke="#1060f0" stroke-width="0.9"/><line x1="259.05" y1="465.00" x2="261.45" y2="465.00" stroke="#333" stroke-width="0.5"/><line x1="260.25" y1="463.80" x2="260.25" y2="466.20" stroke="#333" stroke-width="0.5"/><circle cx="281.75" cy="445.78" r="2.2" fill="#9aa2b2" stroke="#1060f0" stroke-width="0.9"/><line x1="280.55" y1="445.78" x2="282.95" y2="445.78" stroke="#333" stroke-width="0.5"/><line x1="281.75" y1="444.58" x2="281.75" y2="446.98" stroke="#333" stroke-width="0.5"/><circle cx="303.25" cy="442.22" r="2.2" fill="#9aa2b2" stroke="#1060f0" stroke-width="0.9"/><line x1="302.05" y1="442.22" x2="304.45" y2="442.22" stroke="#333" stroke-width="0.5"/><line x1="303.25" y1="441.02" x2="303.25" y2="443.42" stroke="#333" stroke-width="0.5"/><circle cx="325.00" cy="435.28" r="2.2" fill="#9aa2b2" stroke="#1060f0" stroke-width="0.9"/><line x1="323.80" y1="435.28" x2="326.20" y2="435.28" stroke="#333" stroke-width="0.5"/><line x1="325.00" y1="434.08" x2="325.00" y2="436.48" stroke="#333" stroke-width="0.5"/><rect x="206.25" y="429.25" width="130.35000000000002" height="96.25" fill="none" stroke="#111" stroke-width="0.9"/><line x1="217.5" y1="525.5" x2="217.5" y2="527.5" stroke="#111" stroke-width="0.7"/><line x1="239" y1="525.5" x2="239" y2="527.5" stroke="#111" stroke-width="0.7"/><line x1="260.25" y1="525.5" x2="260.25" y2="527.5" stroke="#111" stroke-width="0.7"/><line x1="281.75" y1="525.5" x2="281.75" y2="527.5" stroke="#111" stroke-width="0.7"/><line x1="303.25" y1="525.5" x2="303.25" y2="527.5" stroke="#111" stroke-width="0.7"/><line x1="325" y1="525.5" x2="325" y2="527.5" stroke="#111" stroke-width="0.7"/><line x1="204.25" y1="521.25" x2="206.25" y2="521.25" stroke="#111" stroke-width="0.7"/><text x="203.30" y="523.52" font-size="6.3" text-anchor="end" font-weight="normal" font-style="normal" fill="#111" >0</text><line x1="204.25" y1="503.45" x2="206.25" y2="503.45" stroke="#111" stroke-width="0.7"/><text x="203.30" y="505.72" font-size="6.3" text-anchor="end" font-weight="normal" font-style="normal" fill="#111" >50</text><line x1="204.25" y1="485.65" x2="206.25" y2="485.65" stroke="#111" stroke-width="0.7"/><text x="203.30" y="487.92" font-size="6.3" text-anchor="end" font-weight="normal" font-style="normal" fill="#111" >100</text><line x1="204.25" y1="467.85" x2="206.25" y2="467.85" stroke="#111" stroke-width="0.7"/><text x="203.30" y="470.12" font-size="6.3" text-anchor="end" font-weight="normal" font-style="normal" fill="#111" >150</text><line x1="204.25" y1="450.05" x2="206.25" y2="450.05" stroke="#111" stroke-width="0.7"/><text x="203.30" y="452.32" font-size="6.3" text-anchor="end" font-weight="normal" font-style="normal" fill="#111" >200</text><line x1="204.25" y1="432.25" x2="206.25" y2="432.25" stroke="#111" stroke-width="0.7"/><text x="203.30" y="434.52" font-size="6.3" text-anchor="end" font-weight="normal" font-style="normal" fill="#111" >250</text><text transform="translate(187.8,477) rotate(-90)" font-size="8.3" text-anchor="middle" fill="#111">Signal intensity (arb. units)</text><text transform="translate(212.3,541.0) rotate(-24)" font-size="5.9" text-anchor="middle" fill="#222">SiO<tspan dy="0.9" font-size="3.6">2</tspan><tspan dy="-0.9" font-size="1">&#8203;</tspan>@Au@Au<tspan dy="0.9" font-size="3.6">1</tspan><tspan dy="-0.9" font-size="1">&#8203;</tspan></text><text transform="translate(233.8,541.0) rotate(-24)" font-size="5.9" text-anchor="middle" fill="#222">SiO<tspan dy="0.9" font-size="3.6">2</tspan><tspan dy="-0.9" font-size="1">&#8203;</tspan>@Au@Au<tspan dy="0.9" font-size="3.6">3</tspan><tspan dy="-0.9" font-size="1">&#8203;</tspan></text><text transform="translate(255.05,541.0) rotate(-24)" font-size="5.9" text-anchor="middle" fill="#222">SiO<tspan dy="0.9" font-size="3.6">2</tspan><tspan dy="-0.9" font-size="1">&#8203;</tspan>@Au@Au<tspan dy="0.9" font-size="3.6">5</tspan><tspan dy="-0.9" font-size="1">&#8203;</tspan></text><text transform="translate(276.55,541.0) rotate(-24)" font-size="5.9" text-anchor="middle" fill="#222">SiO<tspan dy="0.9" font-size="3.6">2</tspan><tspan dy="-0.9" font-size="1">&#8203;</tspan>@Au@Au<tspan dy="0.9" font-size="3.6">7</tspan><tspan dy="-0.9" font-size="1">&#8203;</tspan></text><text transform="translate(298.05,541.0) rotate(-24)" font-size="5.9" text-anchor="middle" fill="#222">SiO<tspan dy="0.9" font-size="3.6">2</tspan><tspan dy="-0.9" font-size="1">&#8203;</tspan>@Au@Au<tspan dy="0.9" font-size="3.6">9</tspan><tspan dy="-0.9" font-size="1">&#8203;</tspan></text><text transform="translate(319.8,541.0) rotate(-24)" font-size="5.9" text-anchor="middle" fill="#222">SiO<tspan dy="0.9" font-size="3.6">2</tspan><tspan dy="-0.9" font-size="1">&#8203;</tspan>@Au@Au<tspan dy="0.9" font-size="3.6">11</tspan><tspan dy="-0.9" font-size="1">&#8203;</tspan></text><text x="171.00" y="438.80" font-size="14" text-anchor="start" font-weight="bold" font-style="normal" fill="#000" >i</text><clipPath id="clipj"><rect x="380.5" y="428.6" width="127.10000000000002" height="94.5"/></clipPath><g clip-path="url(#clipj)"><path d="M380.50,477.35C382.09,477.72 387.11,478.95 390.02,479.58C392.94,480.22 395.58,480.77 397.96,481.15C400.34,481.52 402.35,481.91 404.31,481.81C406.27,481.72 407.86,481.67 409.71,480.59C411.56,479.51 412.88,477.89 415.43,475.34C417.97,472.79 421.77,468.65 424.95,465.30C428.12,461.95 431.83,457.58 434.48,455.25C437.12,452.93 438.97,452.13 440.82,451.35C442.68,450.57 444.00,450.57 445.59,450.57C447.17,450.57 447.97,450.44 450.35,451.35C452.73,452.26 455.64,454.04 459.88,456.04C464.11,458.03 470.46,460.44 475.75,463.29C481.04,466.13 486.33,469.52 491.62,473.11C496.92,476.70 504.85,482.88 507.50,484.83" fill="none" stroke="#1060f0" stroke-width="1.6"/><path d="M380.50,503.80C382.09,503.93 386.85,504.49 390.02,504.58C393.20,504.67 396.64,504.67 399.55,504.36C402.46,504.04 404.84,503.37 407.49,502.68C410.13,502.00 412.88,500.84 415.43,500.23C417.97,499.61 420.35,498.96 422.73,499.00C425.11,499.04 427.23,499.88 429.71,500.45C432.20,501.03 434.74,501.81 437.65,502.46C440.56,503.11 443.47,503.67 447.18,504.36C450.88,505.05 455.11,505.94 459.88,506.59C464.64,507.24 470.46,507.71 475.75,508.26C481.04,508.82 486.33,509.47 491.62,509.94C496.92,510.40 504.85,510.87 507.50,511.05" fill="none" stroke="#1060f0" stroke-width="1.6" stroke-dasharray="4.2,2.4"/><line x1="380.5" y1="517.192" x2="507.6" y2="517.192" stroke="#f07078" stroke-width="1.4" stroke-dasharray="3.9,2.5"/></g><rect x="380.5" y="428.6" width="127.10000000000002" height="94.5" fill="none" stroke="#111" stroke-width="0.9"/><line x1="380.5" y1="523.1" x2="380.5" y2="525.1" stroke="#111" stroke-width="0.7"/><text x="380.50" y="532.30" font-size="6.3" text-anchor="middle" font-weight="normal" font-style="normal" fill="#111" >400</text><line x1="412.25" y1="523.1" x2="412.25" y2="525.1" stroke="#111" stroke-width="0.7"/><text x="412.25" y="532.30" font-size="6.3" text-anchor="middle" font-weight="normal" font-style="normal" fill="#111" >500</text><line x1="444.0" y1="523.1" x2="444.0" y2="525.1" stroke="#111" stroke-width="0.7"/><text x="444.00" y="532.30" font-size="6.3" text-anchor="middle" font-weight="normal" font-style="normal" fill="#111" >600</text><line x1="475.75" y1="523.1" x2="475.75" y2="525.1" stroke="#111" stroke-width="0.7"/><text x="475.75" y="532.30" font-size="6.3" text-anchor="middle" font-weight="normal" font-style="normal" fill="#111" >700</text><line x1="507.5" y1="523.1" x2="507.5" y2="525.1" stroke="#111" stroke-width="0.7"/><text x="507.50" y="532.30" font-size="6.3" text-anchor="middle" font-weight="normal" font-style="normal" fill="#111" >800</text><line x1="378.5" y1="517.75" x2="380.5" y2="517.75" stroke="#111" stroke-width="0.7"/><text x="377.30" y="520.02" font-size="6.3" text-anchor="end" font-weight="normal" font-style="normal" fill="#111" >0.0</text><line x1="378.5" y1="506.59" x2="380.5" y2="506.59" stroke="#111" stroke-width="0.7"/><text x="377.30" y="508.86" font-size="6.3" text-anchor="end" font-weight="normal" font-style="normal" fill="#111" >0.1</text><line x1="378.5" y1="495.43" x2="380.5" y2="495.43" stroke="#111" stroke-width="0.7"/><text x="377.30" y="497.70" font-size="6.3" text-anchor="end" font-weight="normal" font-style="normal" fill="#111" >0.2</text><line x1="378.5" y1="484.27" x2="380.5" y2="484.27" stroke="#111" stroke-width="0.7"/><text x="377.30" y="486.54" font-size="6.3" text-anchor="end" font-weight="normal" font-style="normal" fill="#111" >0.3</text><line x1="378.5" y1="473.11" x2="380.5" y2="473.11" stroke="#111" stroke-width="0.7"/><text x="377.30" y="475.38" font-size="6.3" text-anchor="end" font-weight="normal" font-style="normal" fill="#111" >0.4</text><line x1="378.5" y1="461.95" x2="380.5" y2="461.95" stroke="#111" stroke-width="0.7"/><text x="377.30" y="464.22" font-size="6.3" text-anchor="end" font-weight="normal" font-style="normal" fill="#111" >0.5</text><line x1="378.5" y1="450.79" x2="380.5" y2="450.79" stroke="#111" stroke-width="0.7"/><text x="377.30" y="453.06" font-size="6.3" text-anchor="end" font-weight="normal" font-style="normal" fill="#111" >0.6</text><line x1="378.5" y1="439.63" x2="380.5" y2="439.63" stroke="#111" stroke-width="0.7"/><text x="377.30" y="441.90" font-size="6.3" text-anchor="end" font-weight="normal" font-style="normal" fill="#111" >0.7</text><line x1="378.5" y1="428.47" x2="380.5" y2="428.47" stroke="#111" stroke-width="0.7"/><text x="377.30" y="430.74" font-size="6.3" text-anchor="end" font-weight="normal" font-style="normal" fill="#111" >0.8</text><text x="443.90" y="541.20" font-size="8.3" text-anchor="middle" font-weight="normal" font-style="normal" fill="#111" >Wavelength (nm)</text><text transform="translate(364.8,476.5) rotate(-90)" font-size="8.3" text-anchor="middle" fill="#111">Extinction (arb. units)</text><line x1="384.5" y1="434.5" x2="393.8" y2="434.5" stroke="#1060f0" stroke-width="1.4"/><text x="397.00" y="436.20" font-size="5.4" text-anchor="start" font-weight="normal" font-style="normal" fill="#111" >SiO<tspan dy="0.9" font-size="3.6">2</tspan><tspan dy="-0.9" font-size="1">&#8203;</tspan>@Au@Au<tspan dy="0.9" font-size="3.6">11</tspan><tspan dy="-0.9" font-size="1">&#8203;</tspan></text><line x1="384.5" y1="443" x2="393.8" y2="443" stroke="#1060f0" stroke-width="1.4" stroke-dasharray="3.8,1.8"/><text x="397.00" y="444.70" font-size="5.4" text-anchor="start" font-weight="normal" font-style="normal" fill="#111" >Single AuNP from SiO<tspan dy="0.9" font-size="3.6">2</tspan><tspan dy="-0.9" font-size="1">&#8203;</tspan>@Au@Au<tspan dy="0.9" font-size="3.6">11</tspan><tspan dy="-0.9" font-size="1">&#8203;</tspan></text><line x1="384.5" y1="451.25" x2="393.8" y2="451.25" stroke="#f07078" stroke-width="1.3" stroke-dasharray="3.4,2.2"/><text x="397.00" y="452.90" font-size="5.4" text-anchor="start" font-weight="normal" font-style="normal" fill="#111" >Au seed</text><text x="348.30" y="438.00" font-size="14" text-anchor="start" font-weight="bold" font-style="normal" fill="#000" >j</text><pattern id="hatchk" width="2" height="2" patternUnits="userSpaceOnUse" patternTransform="rotate(-50)"><rect width="2" height="2" fill="#fff"/><rect width="2" height="0.9" fill="#2a70f2"/></pattern><rect x="652.25" y="442.34" width="19.5" height="81.16" fill="#86b0f6" stroke="#2a70f2" stroke-width="0.8"/><rect x="610.25" y="501.02" width="19.25" height="22.48" fill="url(#hatchk)" stroke="#2a70f2" stroke-width="0.8"/><rect x="567.75" y="522.69" width="19.25" height="0.81" fill="#fbb" stroke="#f07078" stroke-width="0.6"/><line x1="571.9" y1="522.4232" x2="582.9" y2="522.4232" stroke="#f07078" stroke-width="0.6"/><circle cx="574.0" cy="522.1232" r="1.1" fill="#fff" fill-opacity="0.8" stroke="#f07078" stroke-width="0.5"/><circle cx="577.4" cy="522.1232" r="1.1" fill="#333" fill-opacity="0.8" stroke="#f07078" stroke-width="0.5"/><circle cx="580.8" cy="522.1232" r="1.1" fill="#fff" fill-opacity="0.8" stroke="#f07078" stroke-width="0.5"/><line x1="614.4" y1="501.0218" x2="625.4" y2="501.0218" stroke="#2a70f2" stroke-width="0.6"/><circle cx="616.5" cy="500.7218" r="1.1" fill="#fff" fill-opacity="0.8" stroke="#2a70f2" stroke-width="0.5"/><circle cx="619.9" cy="500.7218" r="1.1" fill="#333" fill-opacity="0.8" stroke="#2a70f2" stroke-width="0.5"/><circle cx="623.3" cy="500.7218" r="1.1" fill="#fff" fill-opacity="0.8" stroke="#2a70f2" stroke-width="0.5"/><line x1="656.5" y1="442.3362" x2="667.5" y2="442.3362" stroke="#2a70f2" stroke-width="0.6"/><circle cx="658.6" cy="442.0362" r="1.1" fill="#fff" fill-opacity="0.8" stroke="#2a70f2" stroke-width="0.5"/><circle cx="662" cy="442.0362" r="1.1" fill="#333" fill-opacity="0.8" stroke="#2a70f2" stroke-width="0.5"/><circle cx="665.4" cy="442.0362" r="1.1" fill="#fff" fill-opacity="0.8" stroke="#2a70f2" stroke-width="0.5"/><rect x="555.25" y="429.25" width="127.75" height="94.25" fill="none" stroke="#111" stroke-width="0.9"/><line x1="553.25" y1="523.5" x2="555.25" y2="523.5" stroke="#111" stroke-width="0.7"/><text x="552.30" y="525.77" font-size="6.3" text-anchor="end" font-weight="normal" font-style="normal" fill="#111" >0.0</text><line x1="553.25" y1="510.04" x2="555.25" y2="510.04" stroke="#111" stroke-width="0.7"/><text x="552.30" y="512.31" font-size="6.3" text-anchor="end" font-weight="normal" font-style="normal" fill="#111" >0.1</text><line x1="553.25" y1="496.58" x2="555.25" y2="496.58" stroke="#111" stroke-width="0.7"/><text x="552.30" y="498.85" font-size="6.3" text-anchor="end" font-weight="normal" font-style="normal" fill="#111" >0.2</text><line x1="553.25" y1="483.12" x2="555.25" y2="483.12" stroke="#111" stroke-width="0.7"/><text x="552.30" y="485.39" font-size="6.3" text-anchor="end" font-weight="normal" font-style="normal" fill="#111" >0.3</text><line x1="553.25" y1="469.65999999999997" x2="555.25" y2="469.65999999999997" stroke="#111" stroke-width="0.7"/><text x="552.30" y="471.93" font-size="6.3" text-anchor="end" font-weight="normal" font-style="normal" fill="#111" >0.4</text><line x1="553.25" y1="456.2" x2="555.25" y2="456.2" stroke="#111" stroke-width="0.7"/><text x="552.30" y="458.47" font-size="6.3" text-anchor="end" font-weight="normal" font-style="normal" fill="#111" >0.5</text><line x1="553.25" y1="442.74" x2="555.25" y2="442.74" stroke="#111" stroke-width="0.7"/><text x="552.30" y="445.01" font-size="6.3" text-anchor="end" font-weight="normal" font-style="normal" fill="#111" >0.6</text><line x1="553.25" y1="429.28000000000003" x2="555.25" y2="429.28000000000003" stroke="#111" stroke-width="0.7"/><text x="552.30" y="431.55" font-size="6.3" text-anchor="end" font-weight="normal" font-style="normal" fill="#111" >0.7</text><text transform="translate(541.7,476.5) rotate(-90)" font-size="8.3" text-anchor="middle" fill="#111">Maximum extinction (arb. units)</text><rect x="559.75" y="433.8" width="11.8" height="2.3" fill="#5a98f5"/><text x="573.50" y="436.80" font-size="5.4" text-anchor="start" font-weight="normal" font-style="normal" fill="#111" >SiO<tspan dy="0.9" font-size="3.6">2</tspan><tspan dy="-0.9" font-size="1">&#8203;</tspan>@Au@Au<tspan dy="0.9" font-size="3.6">11</tspan><tspan dy="-0.9" font-size="1">&#8203;</tspan></text><rect x="559.9" y="442.1" width="11.5" height="1.8" fill="url(#hatchk)" stroke="#2a70f2" stroke-width="0.5"/><text x="573.50" y="444.70" font-size="5.4" text-anchor="start" font-weight="normal" font-style="normal" fill="#111" >Single AuNP</text><text x="573.50" y="451.80" font-size="5.4" text-anchor="start" font-weight="normal" font-style="normal" fill="#111" >from SiO<tspan dy="0.9" font-size="3.6">2</tspan><tspan dy="-0.9" font-size="1">&#8203;</tspan>@Au@Au<tspan dy="0.9" font-size="3.6">11</tspan><tspan dy="-0.9" font-size="1">&#8203;</tspan></text><rect x="559.9" y="456.6" width="11.5" height="1.8" fill="#fdd" stroke="#f07078" stroke-width="0.5"/><text x="573.50" y="459.20" font-size="5.4" text-anchor="start" font-weight="normal" font-style="normal" fill="#111" >Au seed</text><text x="522.80" y="438.80" font-size="14" text-anchor="start" font-weight="bold" font-style="normal" fill="#000" >k</text></g>
</svg>
</body></html>
